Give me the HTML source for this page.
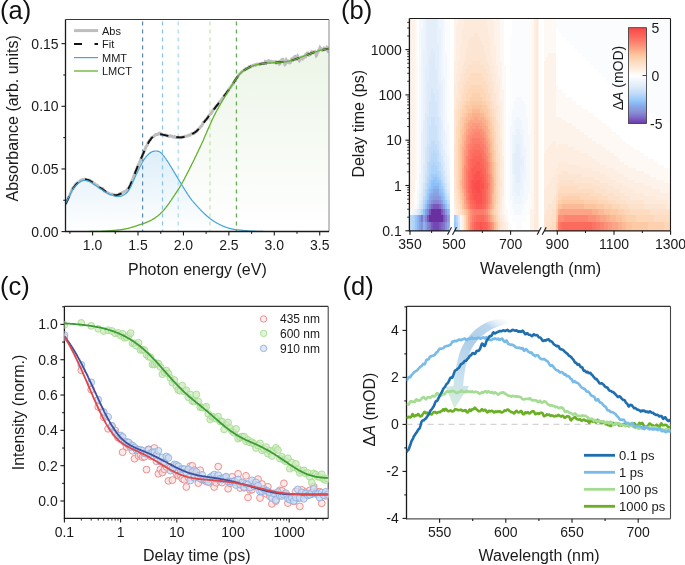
<!DOCTYPE html><html><head><meta charset="utf-8"><style>html,body{margin:0;padding:0;background:#fff;} svg{display:block;will-change:transform;} text{font-family:'Liberation Sans', sans-serif;}</style></head><body>
<svg width="685" height="565" viewBox="0 0 685 565">
<rect width="685" height="565" fill="#fff"/>
<defs>
<linearGradient id="gblue" x1="0" y1="0" x2="0" y2="1"><stop offset="0" stop-color="#ddeef8"/><stop offset="1" stop-color="#ffffff"/></linearGradient>
<linearGradient id="ggreen" x1="0" y1="0" x2="0" y2="1"><stop offset="0" stop-color="#ecf5e7"/><stop offset="1" stop-color="#ffffff"/></linearGradient>
<clipPath id="clipa"><rect x="65.5" y="19.5" width="263.5" height="212"/></clipPath>
<clipPath id="clipc"><rect x="64.4" y="306.4" width="264" height="212"/></clipPath>
<clipPath id="clipd"><rect x="406.5" y="306.4" width="264" height="212.4"/></clipPath>
<linearGradient id="garrow" x1="1" y1="0" x2="0" y2="1"><stop offset="0" stop-color="#ffffff" stop-opacity="0.9"/><stop offset="0.35" stop-color="#a9cbe6"/><stop offset="0.7" stop-color="#bcdceb"/><stop offset="1" stop-color="#cfe9d6"/></linearGradient>
</defs>
<g clip-path="url(#clipa)">
<path d="M65.5,231.6 L65.9,231.6 L66.3,231.6 L66.6,231.6 L67.0,231.6 L67.4,231.6 L67.8,231.6 L68.1,231.7 L68.5,231.7 L68.9,231.7 L69.3,231.7 L69.7,231.7 L70.0,231.7 L70.4,231.7 L70.8,231.7 L71.2,231.7 L71.5,231.7 L71.9,231.7 L72.3,231.7 L72.7,231.7 L73.1,231.7 L73.4,231.7 L73.8,231.7 L74.2,231.7 L74.6,231.7 L74.9,231.7 L75.3,231.7 L75.7,231.7 L76.1,231.7 L76.5,231.7 L76.8,231.7 L77.2,231.7 L77.6,231.7 L78.0,231.7 L78.3,231.7 L78.7,231.7 L79.1,231.7 L79.5,231.7 L79.9,231.7 L80.2,231.7 L80.6,231.7 L81.0,231.7 L81.4,231.7 L81.7,231.7 L82.1,231.7 L82.5,231.7 L82.9,231.7 L83.3,231.7 L83.6,231.7 L84.0,231.7 L84.4,231.6 L84.8,231.6 L85.1,231.6 L85.5,231.6 L85.9,231.6 L86.3,231.6 L86.7,231.6 L87.0,231.6 L87.4,231.6 L87.8,231.6 L88.2,231.6 L88.5,231.6 L88.9,231.6 L89.3,231.6 L89.7,231.5 L90.0,231.5 L90.4,231.5 L90.8,231.5 L91.2,231.5 L91.6,231.5 L91.9,231.5 L92.3,231.5 L92.7,231.5 L93.1,231.5 L93.4,231.5 L93.8,231.5 L94.2,231.4 L94.6,231.4 L95.0,231.4 L95.3,231.4 L95.7,231.4 L96.1,231.4 L96.5,231.4 L96.8,231.4 L97.2,231.4 L97.6,231.4 L98.0,231.4 L98.4,231.3 L98.7,231.3 L99.1,231.3 L99.5,231.3 L99.9,231.3 L100.2,231.3 L100.6,231.3 L101.0,231.3 L101.4,231.3 L101.8,231.2 L102.1,231.2 L102.5,231.2 L102.9,231.2 L103.3,231.2 L103.6,231.2 L104.0,231.1 L104.4,231.1 L104.8,231.1 L105.2,231.1 L105.5,231.1 L105.9,231.0 L106.3,231.0 L106.7,231.0 L107.0,231.0 L107.4,230.9 L107.8,230.9 L108.2,230.9 L108.6,230.9 L108.9,230.8 L109.3,230.8 L109.7,230.8 L110.1,230.7 L110.4,230.7 L110.8,230.7 L111.2,230.7 L111.6,230.6 L112.0,230.6 L112.3,230.6 L112.7,230.5 L113.1,230.5 L113.5,230.5 L113.8,230.4 L114.2,230.4 L114.6,230.3 L115.0,230.3 L115.4,230.3 L115.7,230.2 L116.1,230.2 L116.5,230.2 L116.9,230.1 L117.2,230.1 L117.6,230.0 L118.0,230.0 L118.4,230.0 L118.8,229.9 L119.1,229.9 L119.5,229.9 L119.9,229.8 L120.3,229.8 L120.6,229.7 L121.0,229.7 L121.4,229.6 L121.8,229.6 L122.2,229.5 L122.5,229.5 L122.9,229.4 L123.3,229.3 L123.7,229.3 L124.0,229.2 L124.4,229.1 L124.8,229.1 L125.2,229.0 L125.6,228.9 L125.9,228.8 L126.3,228.7 L126.7,228.6 L127.1,228.6 L127.4,228.5 L127.8,228.4 L128.2,228.3 L128.6,228.2 L129.0,228.1 L129.3,228.0 L129.7,227.9 L130.1,227.8 L130.5,227.7 L130.8,227.6 L131.2,227.5 L131.6,227.3 L132.0,227.2 L132.3,227.1 L132.7,227.0 L133.1,226.9 L133.5,226.8 L133.9,226.7 L134.2,226.5 L134.6,226.4 L135.0,226.3 L135.4,226.2 L135.7,226.1 L136.1,225.9 L136.5,225.8 L136.9,225.7 L137.3,225.6 L137.6,225.4 L138.0,225.3 L138.4,225.2 L138.8,225.1 L139.1,224.9 L139.5,224.8 L139.9,224.7 L140.3,224.6 L140.7,224.4 L141.0,224.3 L141.4,224.2 L141.8,224.1 L142.2,223.9 L142.5,223.8 L142.9,223.7 L143.3,223.6 L143.7,223.4 L144.1,223.3 L144.4,223.2 L144.8,223.0 L145.2,222.9 L145.6,222.7 L145.9,222.6 L146.3,222.4 L146.7,222.3 L147.1,222.1 L147.5,222.0 L147.8,221.8 L148.2,221.6 L148.6,221.5 L149.0,221.3 L149.3,221.1 L149.7,220.9 L150.1,220.8 L150.5,220.6 L150.9,220.4 L151.2,220.2 L151.6,220.0 L152.0,219.8 L152.4,219.5 L152.7,219.3 L153.1,219.1 L153.5,218.9 L153.9,218.6 L154.3,218.4 L154.6,218.2 L155.0,217.9 L155.4,217.6 L155.8,217.4 L156.1,217.1 L156.5,216.8 L156.9,216.5 L157.3,216.3 L157.7,216.0 L158.0,215.7 L158.4,215.3 L158.8,215.0 L159.2,214.7 L159.5,214.4 L159.9,214.0 L160.3,213.7 L160.7,213.3 L161.1,213.0 L161.4,212.6 L161.8,212.2 L162.2,211.8 L162.6,211.4 L162.9,211.0 L163.3,210.6 L163.7,210.1 L164.1,209.7 L164.5,209.3 L164.8,208.8 L165.2,208.3 L165.6,207.9 L166.0,207.4 L166.3,206.9 L166.7,206.4 L167.1,205.9 L167.5,205.4 L167.9,204.9 L168.2,204.3 L168.6,203.8 L169.0,203.3 L169.4,202.8 L169.7,202.2 L170.1,201.7 L170.5,201.1 L170.9,200.6 L171.3,200.0 L171.6,199.5 L172.0,198.9 L172.4,198.3 L172.8,197.8 L173.1,197.2 L173.5,196.6 L173.9,196.1 L174.3,195.5 L174.7,194.9 L175.0,194.4 L175.4,193.8 L175.8,193.2 L176.2,192.6 L176.5,192.1 L176.9,191.5 L177.3,190.9 L177.7,190.3 L178.0,189.8 L178.4,189.2 L178.8,188.6 L179.2,188.0 L179.6,187.4 L179.9,186.7 L180.3,186.1 L180.7,185.5 L181.1,184.8 L181.4,184.2 L181.8,183.5 L182.2,182.8 L182.6,182.1 L183.0,181.5 L183.3,180.8 L183.7,180.1 L184.1,179.4 L184.5,178.7 L184.8,177.9 L185.2,177.2 L185.6,176.5 L186.0,175.8 L186.4,175.1 L186.7,174.3 L187.1,173.6 L187.5,172.9 L187.9,172.1 L188.2,171.4 L188.6,170.6 L189.0,169.9 L189.4,169.2 L189.8,168.4 L190.1,167.6 L190.5,166.9 L190.9,166.1 L191.3,165.4 L191.6,164.6 L192.0,163.8 L192.4,163.1 L192.8,162.3 L193.2,161.5 L193.5,160.7 L193.9,160.0 L194.3,159.2 L194.7,158.4 L195.0,157.6 L195.4,156.8 L195.8,156.1 L196.2,155.3 L196.6,154.5 L196.9,153.7 L197.3,152.9 L197.7,152.1 L198.1,151.3 L198.4,150.6 L198.8,149.8 L199.2,149.0 L199.6,148.2 L200.0,147.4 L200.3,146.6 L200.7,145.8 L201.1,145.0 L201.5,144.2 L201.8,143.3 L202.2,142.5 L202.6,141.6 L203.0,140.8 L203.4,139.9 L203.7,139.1 L204.1,138.2 L204.5,137.3 L204.9,136.5 L205.2,135.6 L205.6,134.7 L206.0,133.8 L206.4,133.0 L206.8,132.1 L207.1,131.2 L207.5,130.3 L207.9,129.4 L208.3,128.6 L208.6,127.7 L209.0,126.8 L209.4,126.0 L209.8,125.1 L210.2,124.3 L210.5,123.4 L210.9,122.6 L211.3,121.7 L211.7,120.9 L212.0,120.1 L212.4,119.3 L212.8,118.5 L213.2,117.7 L213.6,116.9 L213.9,116.1 L214.3,115.4 L214.7,114.6 L215.1,113.9 L215.4,113.2 L215.8,112.4 L216.2,111.7 L216.6,111.0 L217.0,110.3 L217.3,109.6 L217.7,108.9 L218.1,108.3 L218.5,107.6 L218.8,106.9 L219.2,106.2 L219.6,105.6 L220.0,104.9 L220.3,104.3 L220.7,103.6 L221.1,103.0 L221.5,102.3 L221.9,101.7 L222.2,101.0 L222.6,100.4 L223.0,99.8 L223.4,99.1 L223.7,98.5 L224.1,97.9 L224.5,97.3 L224.9,96.6 L225.3,96.0 L225.6,95.4 L226.0,94.8 L226.4,94.2 L226.8,93.6 L227.1,92.9 L227.5,92.3 L227.9,91.7 L228.3,91.1 L228.7,90.5 L229.0,89.9 L229.4,89.3 L229.8,88.6 L230.2,88.0 L230.5,87.4 L230.9,86.8 L231.3,86.2 L231.7,85.6 L232.1,85.0 L232.4,84.4 L232.8,83.8 L233.2,83.2 L233.6,82.6 L233.9,82.0 L234.3,81.4 L234.7,80.9 L235.1,80.3 L235.5,79.8 L235.8,79.2 L236.2,78.7 L236.6,78.1 L237.0,77.6 L237.3,77.1 L237.7,76.6 L238.1,76.1 L238.5,75.6 L238.9,75.2 L239.2,74.8 L239.6,74.3 L240.0,73.9 L240.4,73.5 L240.7,73.2 L241.1,72.8 L241.5,72.4 L241.9,72.1 L242.3,71.8 L242.6,71.5 L243.0,71.2 L243.4,70.9 L243.8,70.6 L244.1,70.3 L244.5,70.1 L244.9,69.8 L245.3,69.6 L245.7,69.3 L246.0,69.1 L246.4,68.8 L246.8,68.6 L247.2,68.4 L247.5,68.2 L247.9,68.0 L248.3,67.8 L248.7,67.6 L249.1,67.4 L249.4,67.2 L249.8,67.0 L250.2,66.9 L250.6,66.7 L250.9,66.5 L251.3,66.4 L251.7,66.2 L252.1,66.1 L252.5,66.0 L252.8,65.9 L253.2,65.8 L253.6,65.6 L254.0,65.5 L254.3,65.4 L254.7,65.3 L255.1,65.2 L255.5,65.1 L255.9,65.0 L256.2,64.9 L256.6,64.8 L257.0,64.7 L257.4,64.6 L257.7,64.5 L258.1,64.4 L258.5,64.4 L258.9,64.3 L259.3,64.2 L259.6,64.1 L260.0,64.0 L260.4,64.0 L260.8,63.9 L261.1,63.8 L261.5,63.8 L261.9,63.7 L262.3,63.6 L262.7,63.6 L263.0,63.6 L263.4,63.5 L263.8,63.5 L264.2,63.5 L264.5,63.4 L264.9,63.4 L265.3,63.4 L265.7,63.3 L266.0,63.3 L266.4,63.3 L266.8,63.2 L267.2,63.2 L267.6,63.2 L267.9,63.2 L268.3,63.1 L268.7,63.1 L269.1,63.1 L269.4,63.0 L269.8,63.0 L270.2,63.0 L270.6,63.0 L271.0,62.9 L271.3,62.9 L271.7,62.9 L272.1,62.8 L272.5,62.8 L272.8,62.8 L273.2,62.7 L273.6,62.7 L274.0,62.7 L274.4,62.7 L274.7,62.6 L275.1,62.6 L275.5,62.6 L275.9,62.5 L276.2,62.5 L276.6,62.5 L277.0,62.4 L277.4,62.4 L277.8,62.4 L278.1,62.3 L278.5,62.3 L278.9,62.3 L279.3,62.3 L279.6,62.2 L280.0,62.2 L280.4,62.2 L280.8,62.1 L281.2,62.1 L281.5,62.1 L281.9,62.0 L282.3,62.0 L282.7,62.0 L283.0,61.9 L283.4,61.9 L283.8,61.9 L284.2,61.8 L284.6,61.8 L284.9,61.8 L285.3,61.7 L285.7,61.7 L286.1,61.6 L286.4,61.6 L286.8,61.5 L287.2,61.5 L287.6,61.4 L288.0,61.3 L288.3,61.3 L288.7,61.2 L289.1,61.1 L289.5,61.0 L289.8,60.9 L290.2,60.8 L290.6,60.7 L291.0,60.6 L291.4,60.5 L291.7,60.4 L292.1,60.3 L292.5,60.2 L292.9,60.1 L293.2,59.9 L293.6,59.8 L294.0,59.7 L294.4,59.6 L294.8,59.4 L295.1,59.3 L295.5,59.2 L295.9,59.0 L296.3,58.9 L296.6,58.8 L297.0,58.6 L297.4,58.5 L297.8,58.3 L298.2,58.2 L298.5,58.1 L298.9,57.9 L299.3,57.8 L299.7,57.6 L300.0,57.5 L300.4,57.3 L300.8,57.2 L301.2,57.0 L301.6,56.9 L301.9,56.8 L302.3,56.6 L302.7,56.5 L303.1,56.3 L303.4,56.2 L303.8,56.0 L304.2,55.9 L304.6,55.8 L305.0,55.6 L305.3,55.5 L305.7,55.3 L306.1,55.2 L306.5,55.0 L306.8,54.9 L307.2,54.8 L307.6,54.6 L308.0,54.5 L308.3,54.4 L308.7,54.2 L309.1,54.1 L309.5,53.9 L309.9,53.8 L310.2,53.7 L310.6,53.5 L311.0,53.4 L311.4,53.3 L311.7,53.1 L312.1,53.0 L312.5,52.8 L312.9,52.7 L313.3,52.6 L313.6,52.4 L314.0,52.3 L314.4,52.2 L314.8,52.0 L315.1,51.9 L315.5,51.8 L315.9,51.7 L316.3,51.5 L316.7,51.4 L317.0,51.3 L317.4,51.2 L317.8,51.0 L318.2,50.9 L318.5,50.8 L318.9,50.7 L319.3,50.6 L319.7,50.5 L320.1,50.4 L320.4,50.3 L320.8,50.2 L321.2,50.1 L321.6,50.0 L321.9,50.0 L322.3,49.9 L322.7,49.8 L323.1,49.7 L323.5,49.7 L323.8,49.6 L324.2,49.5 L324.6,49.4 L325.0,49.4 L325.3,49.3 L325.7,49.2 L326.1,49.2 L326.5,49.1 L326.9,49.1 L327.2,49.0 L327.6,48.9 L328.0,48.9 L328.4,48.8 L328.7,48.8 L329.1,48.7 L329.5,48.7 L329.0,231.5 L65.5,231.5 Z" fill="url(#ggreen)"/>
<path d="M65.5,203.5 L65.9,202.8 L66.3,202.1 L66.6,201.4 L67.0,200.6 L67.4,199.9 L67.8,199.1 L68.1,198.4 L68.5,197.6 L68.9,196.8 L69.3,196.0 L69.7,195.3 L70.0,194.5 L70.4,193.7 L70.8,193.0 L71.2,192.2 L71.5,191.5 L71.9,190.8 L72.3,190.1 L72.7,189.4 L73.1,188.8 L73.4,188.3 L73.8,187.7 L74.2,187.2 L74.6,186.8 L74.9,186.3 L75.3,185.9 L75.7,185.5 L76.1,185.2 L76.5,184.8 L76.8,184.5 L77.2,184.2 L77.6,183.8 L78.0,183.5 L78.3,183.2 L78.7,182.9 L79.1,182.6 L79.5,182.3 L79.9,182.0 L80.2,181.8 L80.6,181.5 L81.0,181.3 L81.4,181.1 L81.7,180.9 L82.1,180.7 L82.5,180.6 L82.9,180.5 L83.3,180.4 L83.6,180.3 L84.0,180.3 L84.4,180.3 L84.8,180.3 L85.1,180.3 L85.5,180.4 L85.9,180.5 L86.3,180.5 L86.7,180.6 L87.0,180.7 L87.4,180.8 L87.8,180.9 L88.2,181.0 L88.5,181.2 L88.9,181.3 L89.3,181.5 L89.7,181.7 L90.0,181.8 L90.4,182.0 L90.8,182.2 L91.2,182.5 L91.6,182.7 L91.9,183.0 L92.3,183.2 L92.7,183.5 L93.1,183.7 L93.4,184.0 L93.8,184.2 L94.2,184.5 L94.6,184.7 L95.0,185.0 L95.3,185.2 L95.7,185.5 L96.1,185.7 L96.5,186.0 L96.8,186.2 L97.2,186.5 L97.6,186.7 L98.0,187.0 L98.4,187.2 L98.7,187.5 L99.1,187.7 L99.5,188.0 L99.9,188.2 L100.2,188.5 L100.6,188.7 L101.0,189.0 L101.4,189.2 L101.8,189.5 L102.1,189.7 L102.5,190.0 L102.9,190.2 L103.3,190.5 L103.6,190.7 L104.0,191.0 L104.4,191.2 L104.8,191.5 L105.2,191.7 L105.5,192.0 L105.9,192.2 L106.3,192.5 L106.7,192.7 L107.0,193.0 L107.4,193.2 L107.8,193.4 L108.2,193.6 L108.6,193.8 L108.9,194.0 L109.3,194.2 L109.7,194.3 L110.1,194.5 L110.4,194.6 L110.8,194.8 L111.2,194.9 L111.6,195.0 L112.0,195.1 L112.3,195.3 L112.7,195.4 L113.1,195.5 L113.5,195.6 L113.8,195.7 L114.2,195.9 L114.6,196.0 L115.0,196.1 L115.4,196.1 L115.7,196.2 L116.1,196.3 L116.5,196.3 L116.9,196.3 L117.2,196.4 L117.6,196.4 L118.0,196.4 L118.4,196.4 L118.8,196.4 L119.1,196.4 L119.5,196.4 L119.9,196.3 L120.3,196.3 L120.6,196.2 L121.0,196.1 L121.4,196.0 L121.8,195.8 L122.2,195.7 L122.5,195.5 L122.9,195.3 L123.3,195.1 L123.7,194.9 L124.0,194.7 L124.4,194.5 L124.8,194.3 L125.2,194.0 L125.6,193.8 L125.9,193.5 L126.3,193.2 L126.7,192.8 L127.1,192.5 L127.4,192.1 L127.8,191.6 L128.2,191.2 L128.6,190.6 L129.0,190.1 L129.3,189.5 L129.7,188.8 L130.1,188.0 L130.5,187.3 L130.8,186.5 L131.2,185.7 L131.6,184.8 L132.0,184.0 L132.3,183.2 L132.7,182.3 L133.1,181.4 L133.5,180.6 L133.9,179.7 L134.2,178.9 L134.6,178.0 L135.0,177.2 L135.4,176.4 L135.7,175.6 L136.1,174.8 L136.5,174.0 L136.9,173.2 L137.3,172.4 L137.6,171.6 L138.0,170.8 L138.4,170.1 L138.8,169.3 L139.1,168.5 L139.5,167.8 L139.9,167.0 L140.3,166.3 L140.7,165.5 L141.0,164.8 L141.4,164.1 L141.8,163.3 L142.2,162.6 L142.5,161.9 L142.9,161.3 L143.3,160.6 L143.7,160.0 L144.1,159.4 L144.4,158.9 L144.8,158.3 L145.2,157.8 L145.6,157.3 L145.9,156.9 L146.3,156.4 L146.7,156.0 L147.1,155.6 L147.5,155.2 L147.8,154.8 L148.2,154.5 L148.6,154.1 L149.0,153.8 L149.3,153.4 L149.7,153.1 L150.1,152.9 L150.5,152.6 L150.9,152.4 L151.2,152.2 L151.6,152.0 L152.0,151.8 L152.4,151.6 L152.7,151.5 L153.1,151.4 L153.5,151.3 L153.9,151.2 L154.3,151.1 L154.6,151.1 L155.0,151.0 L155.4,151.0 L155.8,151.0 L156.1,151.0 L156.5,151.0 L156.9,151.0 L157.3,151.1 L157.7,151.2 L158.0,151.3 L158.4,151.4 L158.8,151.5 L159.2,151.7 L159.5,151.8 L159.9,152.1 L160.3,152.3 L160.7,152.6 L161.1,152.9 L161.4,153.3 L161.8,153.7 L162.2,154.1 L162.6,154.5 L162.9,155.0 L163.3,155.5 L163.7,156.0 L164.1,156.4 L164.5,156.9 L164.8,157.4 L165.2,158.0 L165.6,158.5 L166.0,159.0 L166.3,159.5 L166.7,160.1 L167.1,160.6 L167.5,161.2 L167.9,161.8 L168.2,162.3 L168.6,162.9 L169.0,163.5 L169.4,164.1 L169.7,164.8 L170.1,165.4 L170.5,166.0 L170.9,166.6 L171.3,167.3 L171.6,167.9 L172.0,168.5 L172.4,169.2 L172.8,169.8 L173.1,170.4 L173.5,171.0 L173.9,171.7 L174.3,172.3 L174.7,172.9 L175.0,173.5 L175.4,174.2 L175.8,174.8 L176.2,175.4 L176.5,176.1 L176.9,176.7 L177.3,177.3 L177.7,178.0 L178.0,178.6 L178.4,179.2 L178.8,179.9 L179.2,180.5 L179.6,181.1 L179.9,181.8 L180.3,182.4 L180.7,183.0 L181.1,183.7 L181.4,184.3 L181.8,184.9 L182.2,185.5 L182.6,186.1 L183.0,186.8 L183.3,187.4 L183.7,188.0 L184.1,188.6 L184.5,189.2 L184.8,189.8 L185.2,190.4 L185.6,191.0 L186.0,191.6 L186.4,192.2 L186.7,192.7 L187.1,193.3 L187.5,193.9 L187.9,194.5 L188.2,195.1 L188.6,195.6 L189.0,196.2 L189.4,196.7 L189.8,197.3 L190.1,197.8 L190.5,198.3 L190.9,198.8 L191.3,199.3 L191.6,199.8 L192.0,200.3 L192.4,200.7 L192.8,201.2 L193.2,201.6 L193.5,202.1 L193.9,202.5 L194.3,203.0 L194.7,203.4 L195.0,203.8 L195.4,204.2 L195.8,204.7 L196.2,205.1 L196.6,205.5 L196.9,205.9 L197.3,206.3 L197.7,206.8 L198.1,207.2 L198.4,207.6 L198.8,208.0 L199.2,208.4 L199.6,208.8 L200.0,209.2 L200.3,209.6 L200.7,210.0 L201.1,210.4 L201.5,210.8 L201.8,211.2 L202.2,211.5 L202.6,211.9 L203.0,212.3 L203.4,212.7 L203.7,213.0 L204.1,213.4 L204.5,213.8 L204.9,214.1 L205.2,214.5 L205.6,214.8 L206.0,215.2 L206.4,215.5 L206.8,215.8 L207.1,216.2 L207.5,216.5 L207.9,216.8 L208.3,217.1 L208.6,217.5 L209.0,217.8 L209.4,218.1 L209.8,218.4 L210.2,218.7 L210.5,219.0 L210.9,219.2 L211.3,219.5 L211.7,219.8 L212.0,220.1 L212.4,220.3 L212.8,220.6 L213.2,220.9 L213.6,221.1 L213.9,221.3 L214.3,221.6 L214.7,221.8 L215.1,222.0 L215.4,222.3 L215.8,222.5 L216.2,222.7 L216.6,222.9 L217.0,223.1 L217.3,223.3 L217.7,223.5 L218.1,223.7 L218.5,223.9 L218.8,224.1 L219.2,224.3 L219.6,224.5 L220.0,224.7 L220.3,224.9 L220.7,225.0 L221.1,225.2 L221.5,225.4 L221.9,225.6 L222.2,225.7 L222.6,225.9 L223.0,226.1 L223.4,226.2 L223.7,226.4 L224.1,226.5 L224.5,226.7 L224.9,226.8 L225.3,227.0 L225.6,227.1 L226.0,227.3 L226.4,227.4 L226.8,227.5 L227.1,227.6 L227.5,227.8 L227.9,227.9 L228.3,228.0 L228.7,228.1 L229.0,228.2 L229.4,228.3 L229.8,228.4 L230.2,228.5 L230.5,228.6 L230.9,228.7 L231.3,228.8 L231.7,228.9 L232.1,229.0 L232.4,229.1 L232.8,229.2 L233.2,229.2 L233.6,229.3 L233.9,229.4 L234.3,229.4 L234.7,229.5 L235.1,229.6 L235.5,229.6 L235.8,229.7 L236.2,229.7 L236.6,229.8 L237.0,229.8 L237.3,229.8 L237.7,229.9 L238.1,229.9 L238.5,229.9 L238.9,230.0 L239.2,230.0 L239.6,230.1 L240.0,230.1 L240.4,230.1 L240.7,230.2 L241.1,230.2 L241.5,230.2 L241.9,230.3 L242.3,230.3 L242.6,230.3 L243.0,230.4 L243.4,230.4 L243.8,230.5 L244.1,230.5 L244.5,230.5 L244.9,230.6 L245.3,230.6 L245.7,230.6 L246.0,230.7 L246.4,230.7 L246.8,230.7 L247.2,230.7 L247.5,230.8 L247.9,230.8 L248.3,230.8 L248.7,230.9 L249.1,230.9 L249.4,230.9 L249.8,230.9 L250.2,231.0 L250.6,231.0 L250.9,231.0 L251.3,231.0 L251.7,231.1 L252.1,231.1 L252.5,231.1 L252.8,231.1 L253.2,231.2 L253.6,231.2 L254.0,231.2 L254.3,231.2 L254.7,231.2 L255.1,231.2 L255.5,231.3 L255.9,231.3 L256.2,231.3 L256.6,231.3 L257.0,231.3 L257.4,231.3 L257.7,231.3 L258.1,231.4 L258.5,231.4 L258.9,231.4 L259.3,231.4 L259.6,231.4 L260.0,231.4 L260.4,231.4 L260.8,231.4 L261.1,231.4 L261.5,231.4 L261.9,231.4 L262.3,231.4 L262.7,231.4 L263.0,231.4 L263.4,231.5 L263.8,231.5 L264.2,231.5 L264.5,231.5 L264.9,231.5 L265.3,231.5 L265.7,231.5 L266.0,231.5 L266.4,231.5 L266.8,231.5 L267.2,231.5 L267.6,231.5 L267.9,231.5 L268.3,231.5 L268.7,231.5 L269.1,231.5 L269.4,231.6 L269.8,231.6 L270.2,231.6 L270.6,231.6 L271.0,231.6 L271.3,231.6 L271.7,231.6 L272.1,231.6 L272.5,231.6 L272.8,231.6 L273.2,231.6 L273.6,231.6 L274.0,231.6 L274.4,231.6 L274.7,231.6 L275.1,231.6 L275.5,231.7 L275.9,231.7 L276.2,231.7 L276.6,231.7 L277.0,231.7 L277.4,231.7 L277.8,231.7 L278.1,231.7 L278.5,231.7 L278.9,231.7 L279.3,231.7 L279.6,231.7 L280.0,231.7 L280.4,231.7 L280.8,231.7 L281.2,231.7 L281.5,231.7 L281.9,231.8 L282.3,231.8 L282.7,231.8 L283.0,231.8 L283.4,231.8 L283.8,231.8 L284.2,231.8 L284.6,231.8 L284.9,231.8 L285.3,231.8 L285.7,231.8 L286.1,231.8 L286.4,231.8 L286.8,231.8 L287.2,231.8 L287.6,231.8 L288.0,231.8 L288.3,231.8 L288.7,231.8 L289.1,231.8 L289.5,231.8 L289.8,231.9 L290.2,231.9 L290.6,231.9 L291.0,231.9 L291.4,231.9 L291.7,231.9 L292.1,231.9 L292.5,231.9 L292.9,231.9 L293.2,231.9 L293.6,231.9 L294.0,231.9 L294.4,231.9 L294.8,231.9 L295.1,231.9 L295.5,231.9 L295.9,231.9 L296.3,231.9 L296.6,231.9 L297.0,231.9 L297.4,231.9 L297.8,231.9 L298.2,231.9 L298.5,231.9 L298.9,231.9 L299.3,231.9 L299.7,231.9 L300.0,231.9 L300.4,231.9 L300.8,231.9 L301.2,231.9 L301.6,231.9 L301.9,231.9 L302.3,231.9 L302.7,231.9 L303.1,231.9 L303.4,231.9 L303.8,231.9 L304.2,231.9 L304.6,231.9 L305.0,231.9 L305.3,231.9 L305.7,231.9 L306.1,231.9 L306.5,231.9 L306.8,231.9 L307.2,231.9 L307.6,231.9 L308.0,231.9 L308.3,231.9 L308.7,231.9 L309.1,231.9 L309.5,231.9 L309.9,231.9 L310.2,231.9 L310.6,231.9 L311.0,231.9 L311.4,231.9 L311.7,231.9 L312.1,231.9 L312.5,231.9 L312.9,231.9 L313.3,231.9 L313.6,231.9 L314.0,231.9 L314.4,231.9 L314.8,231.9 L315.1,231.9 L315.5,231.9 L315.9,231.9 L316.3,231.9 L316.7,231.9 L317.0,231.9 L317.4,231.9 L317.8,231.9 L318.2,231.9 L318.5,231.9 L318.9,231.8 L319.3,231.8 L319.7,231.8 L320.1,231.8 L320.4,231.8 L320.8,231.8 L321.2,231.8 L321.6,231.8 L321.9,231.8 L322.3,231.8 L322.7,231.8 L323.1,231.8 L323.5,231.8 L323.8,231.8 L324.2,231.8 L324.6,231.7 L325.0,231.7 L325.3,231.7 L325.7,231.7 L326.1,231.7 L326.5,231.7 L326.9,231.7 L327.2,231.7 L327.6,231.7 L328.0,231.7 L328.4,231.6 L328.7,231.6 L329.1,231.6 L329.5,231.6 L329.0,231.5 L65.5,231.5 Z" fill="url(#gblue)"/>
<line x1="142.60" y1="21.50" x2="142.60" y2="231.50" stroke="#5b87ad" stroke-width="1.2" stroke-dasharray="4 4"/>
<line x1="162.50" y1="21.50" x2="162.50" y2="231.50" stroke="#86c3ec" stroke-width="1.2" stroke-dasharray="4 4"/>
<line x1="178.20" y1="21.50" x2="178.20" y2="231.50" stroke="#a9d9f2" stroke-width="1.2" stroke-dasharray="4 4"/>
<line x1="210.00" y1="21.50" x2="210.00" y2="231.50" stroke="#bfe3ad" stroke-width="1.2" stroke-dasharray="4 4"/>
<line x1="236.40" y1="21.50" x2="236.40" y2="231.50" stroke="#5fae4f" stroke-width="1.2" stroke-dasharray="4 4"/>
<path d="M65.5,204.0 L65.9,203.3 L66.3,202.4 L66.6,201.5 L67.0,200.7 L67.4,200.0 L67.8,199.5 L68.1,198.8 L68.5,197.8 L68.9,196.9 L69.3,196.1 L69.7,195.3 L70.0,194.4 L70.4,193.4 L70.8,192.6 L71.2,191.8 L71.5,190.8 L71.9,189.8 L72.3,188.9 L72.7,188.2 L73.1,187.6 L73.4,187.3 L73.8,186.9 L74.2,186.6 L74.6,186.1 L74.9,185.4 L75.3,184.7 L75.7,184.4 L76.1,184.2 L76.5,183.8 L76.8,183.3 L77.2,182.9 L77.6,182.6 L78.0,182.5 L78.3,182.3 L78.7,182.0 L79.1,181.8 L79.5,181.5 L79.9,181.2 L80.2,180.8 L80.6,180.6 L81.0,180.2 L81.4,180.0 L81.7,179.9 L82.1,179.9 L82.5,179.6 L82.9,179.5 L83.3,179.5 L83.6,179.6 L84.0,179.7 L84.4,179.5 L84.8,179.3 L85.1,179.3 L85.5,179.5 L85.9,179.6 L86.3,179.7 L86.7,179.9 L87.0,180.0 L87.4,180.1 L87.8,180.0 L88.2,180.0 L88.5,180.0 L88.9,180.0 L89.3,180.1 L89.7,180.3 L90.0,180.8 L90.4,181.2 L90.8,181.4 L91.2,181.3 L91.6,181.4 L91.9,181.6 L92.3,181.8 L92.7,182.2 L93.1,182.8 L93.4,183.3 L93.8,183.5 L94.2,183.6 L94.6,183.7 L95.0,184.1 L95.3,184.5 L95.7,184.7 L96.1,184.8 L96.5,185.1 L96.8,185.3 L97.2,185.4 L97.6,185.6 L98.0,186.0 L98.4,186.5 L98.7,187.0 L99.1,187.3 L99.5,187.5 L99.9,187.7 L100.2,187.9 L100.6,188.2 L101.0,188.4 L101.4,188.5 L101.8,188.6 L102.1,188.6 L102.5,188.6 L102.9,188.8 L103.3,189.3 L103.6,189.9 L104.0,190.5 L104.4,191.0 L104.8,191.0 L105.2,191.1 L105.5,191.4 L105.9,191.8 L106.3,192.0 L106.7,192.3 L107.0,192.6 L107.4,192.8 L107.8,192.8 L108.2,193.0 L108.6,193.2 L108.9,193.3 L109.3,193.6 L109.7,193.9 L110.1,194.2 L110.4,194.3 L110.8,194.3 L111.2,194.2 L111.6,194.1 L112.0,194.0 L112.3,194.1 L112.7,194.3 L113.1,194.5 L113.5,194.6 L113.8,194.7 L114.2,194.9 L114.6,195.1 L115.0,195.2 L115.4,195.2 L115.7,195.2 L116.1,195.5 L116.5,195.6 L116.9,195.3 L117.2,195.0 L117.6,194.8 L118.0,194.7 L118.4,194.7 L118.8,194.5 L119.1,194.2 L119.5,193.9 L119.9,193.7 L120.3,193.6 L120.6,193.8 L121.0,193.7 L121.4,193.5 L121.8,193.1 L122.2,192.7 L122.5,192.5 L122.9,192.3 L123.3,192.2 L123.7,192.0 L124.0,191.7 L124.4,191.5 L124.8,191.5 L125.2,191.5 L125.6,191.2 L125.9,190.9 L126.3,190.7 L126.7,190.5 L127.1,189.9 L127.4,189.3 L127.8,188.8 L128.2,188.4 L128.6,188.1 L129.0,187.6 L129.3,186.9 L129.7,186.2 L130.1,185.4 L130.5,184.5 L130.8,183.5 L131.2,182.6 L131.6,181.8 L132.0,181.1 L132.3,180.2 L132.7,179.2 L133.1,178.2 L133.5,177.1 L133.9,176.1 L134.2,175.2 L134.6,174.2 L135.0,173.2 L135.4,172.4 L135.7,171.6 L136.1,170.6 L136.5,169.4 L136.9,168.2 L137.3,167.3 L137.6,166.7 L138.0,165.9 L138.4,165.0 L138.8,164.2 L139.1,163.4 L139.5,162.6 L139.9,161.6 L140.3,160.6 L140.7,159.6 L141.0,158.7 L141.4,157.9 L141.8,157.3 L142.2,156.6 L142.5,155.8 L142.9,154.6 L143.3,153.2 L143.7,152.2 L144.1,151.4 L144.4,150.7 L144.8,149.9 L145.2,148.9 L145.6,147.8 L145.9,146.9 L146.3,146.4 L146.7,145.9 L147.1,145.1 L147.5,144.3 L147.8,143.4 L148.2,142.6 L148.6,141.9 L149.0,141.3 L149.3,140.8 L149.7,140.4 L150.1,140.1 L150.5,139.4 L150.9,138.7 L151.2,138.1 L151.6,137.6 L152.0,137.3 L152.4,137.1 L152.7,136.9 L153.1,136.8 L153.5,136.7 L153.9,136.4 L154.3,135.9 L154.6,135.6 L155.0,135.3 L155.4,134.9 L155.8,134.6 L156.1,134.6 L156.5,134.6 L156.9,134.6 L157.3,134.5 L157.7,134.4 L158.0,134.3 L158.4,134.0 L158.8,133.5 L159.2,133.2 L159.5,133.0 L159.9,133.1 L160.3,133.7 L160.7,134.2 L161.1,134.2 L161.4,134.1 L161.8,134.3 L162.2,134.6 L162.6,134.8 L162.9,134.8 L163.3,134.9 L163.7,135.0 L164.1,135.2 L164.5,135.3 L164.8,135.2 L165.2,135.1 L165.6,135.2 L166.0,135.4 L166.3,135.5 L166.7,135.4 L167.1,135.5 L167.5,135.6 L167.9,135.9 L168.2,136.3 L168.6,136.5 L169.0,136.4 L169.4,136.3 L169.7,136.0 L170.1,135.8 L170.5,136.0 L170.9,136.2 L171.3,136.3 L171.6,136.2 L172.0,136.4 L172.4,136.7 L172.8,136.9 L173.1,137.0 L173.5,137.1 L173.9,137.1 L174.3,136.8 L174.7,136.6 L175.0,136.8 L175.4,137.3 L175.8,137.6 L176.2,137.6 L176.5,137.5 L176.9,137.4 L177.3,137.3 L177.7,137.2 L178.0,137.3 L178.4,137.5 L178.8,137.7 L179.2,137.7 L179.6,137.4 L179.9,137.3 L180.3,137.5 L180.7,137.7 L181.1,137.7 L181.4,137.4 L181.8,137.1 L182.2,137.0 L182.6,137.1 L183.0,137.2 L183.3,137.0 L183.7,136.9 L184.1,136.7 L184.5,136.5 L184.8,136.2 L185.2,136.2 L185.6,136.2 L186.0,136.3 L186.4,136.3 L186.7,136.3 L187.1,136.2 L187.5,135.9 L187.9,135.6 L188.2,135.4 L188.6,135.2 L189.0,135.2 L189.4,135.3 L189.8,135.3 L190.1,134.9 L190.5,134.5 L190.9,134.2 L191.3,133.9 L191.6,133.7 L192.0,133.7 L192.4,133.7 L192.8,133.7 L193.2,133.8 L193.5,133.7 L193.9,133.5 L194.3,133.3 L194.7,132.9 L195.0,132.4 L195.4,131.7 L195.8,131.4 L196.2,131.4 L196.6,131.4 L196.9,131.0 L197.3,130.3 L197.7,129.7 L198.1,129.5 L198.4,129.2 L198.8,128.9 L199.2,128.5 L199.6,128.1 L200.0,127.6 L200.3,127.1 L200.7,126.6 L201.1,126.3 L201.5,126.0 L201.8,125.7 L202.2,125.0 L202.6,124.1 L203.0,123.3 L203.4,122.6 L203.7,122.1 L204.1,121.8 L204.5,121.7 L204.9,121.3 L205.2,120.6 L205.6,119.8 L206.0,119.4 L206.4,119.2 L206.8,119.1 L207.1,118.8 L207.5,118.0 L207.9,117.1 L208.3,116.4 L208.6,116.0 L209.0,115.5 L209.4,115.0 L209.8,114.6 L210.2,114.3 L210.5,114.1 L210.9,113.8 L211.3,113.3 L211.7,112.6 L212.0,111.9 L212.4,111.3 L212.8,110.7 L213.2,110.0 L213.6,109.4 L213.9,109.0 L214.3,108.8 L214.7,108.5 L215.1,108.0 L215.4,107.4 L215.8,106.6 L216.2,106.1 L216.6,105.8 L217.0,105.5 L217.3,105.1 L217.7,104.6 L218.1,103.9 L218.5,103.2 L218.8,102.7 L219.2,102.4 L219.6,101.9 L220.0,101.4 L220.3,101.2 L220.7,100.9 L221.1,100.4 L221.5,99.6 L221.9,98.9 L222.2,98.6 L222.6,98.4 L223.0,98.0 L223.4,97.4 L223.7,96.6 L224.1,95.8 L224.5,95.2 L224.9,94.8 L225.3,94.5 L225.6,94.1 L226.0,93.6 L226.4,93.0 L226.8,92.3 L227.1,91.7 L227.5,91.3 L227.9,90.8 L228.3,90.3 L228.7,89.7 L229.0,89.1 L229.4,88.6 L229.8,88.1 L230.2,87.9 L230.5,87.4 L230.9,86.7 L231.3,86.1 L231.7,85.5 L232.1,85.1 L232.4,84.7 L232.8,84.2 L233.2,83.6 L233.6,82.9 L233.9,82.2 L234.3,81.5 L234.7,80.9 L235.1,80.4 L235.5,79.9 L235.8,79.3 L236.2,78.6 L236.6,77.9 L237.0,77.5 L237.3,77.1 L237.7,76.7 L238.1,76.0 L238.5,75.3 L238.9,74.8 L239.2,74.4 L239.6,73.9 L240.0,73.5 L240.4,73.3 L240.7,73.0 L241.1,72.4 L241.5,71.9 L241.9,71.6 L242.3,71.4 L242.6,71.2 L243.0,70.9 L243.4,70.6 L243.8,70.5 L244.1,70.2 L244.5,69.8 L244.9,69.3 L245.3,69.0 L245.7,68.9 L246.0,69.1 L246.4,69.0 L246.8,68.7 L247.2,68.5 L247.5,68.3 L247.9,68.2 L248.3,68.0 L248.7,67.3 L249.1,66.8 L249.4,66.5 L249.8,66.6 L250.2,66.8 L250.6,66.7 L250.9,66.3 L251.3,66.0 L251.7,66.0 L252.1,65.9 L252.5,65.6 L252.8,65.5 L253.2,65.6 L253.6,65.5 L254.0,65.3 L254.3,65.0 L254.7,64.8 L255.1,65.0 L255.5,65.3 L255.9,65.2 L256.2,64.8 L256.6,64.3 L257.0,64.1 L257.4,64.2 L257.7,64.3 L258.1,64.3 L258.5,64.1 L258.9,64.0 L259.3,64.1 L259.6,64.3 L260.0,64.6 L260.4,64.5 L260.8,64.1 L261.1,63.7 L261.5,63.5 L261.9,63.4 L262.3,63.3 L262.7,63.3 L263.0,63.4 L263.4,63.5 L263.8,63.5 L264.2,63.4 L264.5,63.3 L264.9,63.1 L265.3,61.7 L265.7,62.0 L266.0,62.5 L266.4,62.7 L266.8,62.3 L267.2,61.6 L267.6,61.3 L267.9,61.0 L268.3,60.9 L268.7,60.7 L269.1,60.8 L269.4,61.7 L269.8,62.5 L270.2,62.5 L270.6,62.0 L271.0,61.5 L271.3,61.3 L271.7,61.4 L272.1,61.7 L272.5,61.7 L272.8,61.7 L273.2,62.2 L273.6,62.5 L274.0,62.4 L274.4,62.2 L274.7,61.8 L275.1,61.7 L275.5,62.2 L275.9,63.0 L276.2,63.1 L276.6,62.6 L277.0,62.1 L277.4,62.4 L277.8,62.9 L278.1,62.9 L278.5,62.1 L278.9,61.8 L279.3,62.8 L279.6,64.0 L280.0,63.8 L280.4,62.5 L280.8,61.6 L281.2,61.4 L281.5,60.5 L281.9,59.5 L282.3,59.3 L282.7,59.2 L283.0,59.5 L283.4,60.9 L283.8,62.2 L284.2,62.8 L284.6,63.6 L284.9,64.6 L285.3,64.3 L285.7,62.6 L286.1,60.8 L286.4,59.9 L286.8,60.4 L287.2,61.4 L287.6,62.1 L288.0,62.3 L288.3,61.9 L288.7,61.3 L289.1,61.5 L289.5,62.2 L289.8,62.7 L290.2,62.6 L290.6,61.8 L291.0,60.8 L291.4,59.8 L291.7,58.7 L292.1,58.5 L292.5,59.4 L292.9,59.8 L293.2,59.0 L293.6,58.0 L294.0,57.6 L294.4,57.2 L294.8,56.5 L295.1,56.4 L295.5,57.8 L295.9,59.2 L296.3,59.3 L296.6,58.7 L297.0,58.2 L297.4,57.2 L297.8,56.3 L298.2,57.0 L298.5,58.8 L298.9,60.2 L299.3,60.8 L299.7,60.3 L300.0,59.3 L300.4,58.6 L300.8,57.9 L301.2,57.4 L301.6,57.8 L301.9,58.8 L302.3,59.0 L302.7,57.9 L303.1,57.1 L303.4,57.3 L303.8,57.7 L304.2,57.6 L304.6,56.8 L305.0,55.6 L305.3,55.1 L305.7,55.6 L306.1,56.0 L306.5,55.3 L306.8,53.8 L307.2,53.2 L307.6,53.3 L308.0,53.1 L308.3,53.3 L308.7,54.5 L309.1,55.1 L309.5,54.8 L309.9,54.5 L310.2,54.5 L310.6,54.4 L311.0,53.7 L311.4,52.6 L311.7,51.9 L312.1,52.1 L312.5,52.6 L312.9,52.8 L313.3,52.5 L313.6,51.9 L314.0,51.8 L314.4,52.1 L314.8,52.2 L315.1,51.9 L315.5,52.6 L315.9,54.4 L316.3,55.7 L316.7,55.2 L317.0,53.8 L317.4,52.9 L317.8,52.4 L318.2,51.3 L318.5,50.3 L318.9,50.2 L319.3,49.9 L319.7,48.6 L320.1,47.5 L320.4,47.9 L320.8,48.9 L321.2,49.4 L321.6,49.8 L321.9,50.3 L322.3,50.4 L322.7,50.0 L323.1,49.4 L323.5,48.6 L323.8,48.3 L324.2,48.8 L324.6,49.5 L325.0,49.3 L325.3,48.5 L325.7,48.4 L326.1,48.6 L326.5,48.2 L326.9,47.3 L327.2,47.5 L327.6,49.5 L328.0,51.4 L328.4,51.5 L328.7,50.9 L329.1,51.5 L329.5,52.7" fill="none" stroke="#bdbdbd" stroke-width="3"/>
<path d="M65.5,204.0 L65.9,203.3 L66.3,202.6 L66.6,201.8 L67.0,201.1 L67.4,200.3 L67.8,199.5 L68.1,198.6 L68.5,197.8 L68.9,196.9 L69.3,196.1 L69.7,195.2 L70.0,194.4 L70.4,193.6 L70.8,192.8 L71.2,192.0 L71.5,191.2 L71.9,190.5 L72.3,189.8 L72.7,189.1 L73.1,188.5 L73.4,187.9 L73.8,187.3 L74.2,186.8 L74.6,186.3 L74.9,185.8 L75.3,185.4 L75.7,184.9 L76.1,184.5 L76.5,184.1 L76.8,183.8 L77.2,183.4 L77.6,183.1 L78.0,182.7 L78.3,182.4 L78.7,182.1 L79.1,181.8 L79.5,181.5 L79.9,181.2 L80.2,180.9 L80.6,180.6 L81.0,180.4 L81.4,180.2 L81.7,180.0 L82.1,179.8 L82.5,179.6 L82.9,179.5 L83.3,179.4 L83.6,179.3 L84.0,179.3 L84.4,179.3 L84.8,179.3 L85.1,179.3 L85.5,179.4 L85.9,179.4 L86.3,179.5 L86.7,179.6 L87.0,179.7 L87.4,179.8 L87.8,179.9 L88.2,180.0 L88.5,180.2 L88.9,180.3 L89.3,180.5 L89.7,180.6 L90.0,180.8 L90.4,181.0 L90.8,181.2 L91.2,181.5 L91.6,181.7 L91.9,182.0 L92.3,182.2 L92.7,182.5 L93.1,182.7 L93.4,183.0 L93.8,183.3 L94.2,183.5 L94.6,183.8 L95.0,184.1 L95.3,184.3 L95.7,184.6 L96.1,184.8 L96.5,185.1 L96.8,185.4 L97.2,185.6 L97.6,185.9 L98.0,186.2 L98.4,186.4 L98.7,186.7 L99.1,186.9 L99.5,187.2 L99.9,187.5 L100.2,187.7 L100.6,188.0 L101.0,188.3 L101.4,188.5 L101.8,188.8 L102.1,189.1 L102.5,189.3 L102.9,189.6 L103.3,189.9 L103.6,190.1 L104.0,190.4 L104.4,190.7 L104.8,190.9 L105.2,191.2 L105.5,191.5 L105.9,191.7 L106.3,192.0 L106.7,192.2 L107.0,192.5 L107.4,192.7 L107.8,193.0 L108.2,193.2 L108.6,193.4 L108.9,193.6 L109.3,193.7 L109.7,193.9 L110.1,194.1 L110.4,194.2 L110.8,194.3 L111.2,194.4 L111.6,194.5 L112.0,194.7 L112.3,194.7 L112.7,194.8 L113.1,194.9 L113.5,195.0 L113.8,195.0 L114.2,195.1 L114.6,195.1 L115.0,195.2 L115.4,195.2 L115.7,195.2 L116.1,195.2 L116.5,195.2 L116.9,195.1 L117.2,195.0 L117.6,194.9 L118.0,194.8 L118.4,194.7 L118.8,194.6 L119.1,194.4 L119.5,194.2 L119.9,194.1 L120.3,193.9 L120.6,193.7 L121.0,193.5 L121.4,193.3 L121.8,193.1 L122.2,192.9 L122.5,192.7 L122.9,192.6 L123.3,192.4 L123.7,192.2 L124.0,192.1 L124.4,191.9 L124.8,191.7 L125.2,191.5 L125.6,191.2 L125.9,191.0 L126.3,190.7 L126.7,190.4 L127.1,190.1 L127.4,189.7 L127.8,189.2 L128.2,188.8 L128.6,188.2 L129.0,187.6 L129.3,187.0 L129.7,186.3 L130.1,185.5 L130.5,184.7 L130.8,183.9 L131.2,183.0 L131.6,182.1 L132.0,181.1 L132.3,180.2 L132.7,179.2 L133.1,178.2 L133.5,177.2 L133.9,176.2 L134.2,175.2 L134.6,174.2 L135.0,173.2 L135.4,172.2 L135.7,171.2 L136.1,170.2 L136.5,169.3 L136.9,168.3 L137.3,167.4 L137.6,166.5 L138.0,165.6 L138.4,164.8 L138.8,163.9 L139.1,163.0 L139.5,162.1 L139.9,161.2 L140.3,160.3 L140.7,159.5 L141.0,158.6 L141.4,157.7 L141.8,156.8 L142.2,156.0 L142.5,155.1 L142.9,154.2 L143.3,153.4 L143.7,152.5 L144.1,151.7 L144.4,150.8 L144.8,150.0 L145.2,149.2 L145.6,148.3 L145.9,147.5 L146.3,146.8 L146.7,146.0 L147.1,145.2 L147.5,144.5 L147.8,143.8 L148.2,143.1 L148.6,142.5 L149.0,141.8 L149.3,141.2 L149.7,140.6 L150.1,140.1 L150.5,139.6 L150.9,139.0 L151.2,138.6 L151.6,138.1 L152.0,137.7 L152.4,137.3 L152.7,137.0 L153.1,136.6 L153.5,136.3 L153.9,136.0 L154.3,135.8 L154.6,135.5 L155.0,135.3 L155.4,135.1 L155.8,134.9 L156.1,134.8 L156.5,134.6 L156.9,134.5 L157.3,134.4 L157.7,134.3 L158.0,134.2 L158.4,134.2 L158.8,134.2 L159.2,134.2 L159.5,134.2 L159.9,134.2 L160.3,134.2 L160.7,134.2 L161.1,134.3 L161.4,134.4 L161.8,134.5 L162.2,134.5 L162.6,134.6 L162.9,134.7 L163.3,134.8 L163.7,134.9 L164.1,135.0 L164.5,135.1 L164.8,135.1 L165.2,135.2 L165.6,135.3 L166.0,135.4 L166.3,135.5 L166.7,135.6 L167.1,135.7 L167.5,135.8 L167.9,135.9 L168.2,135.9 L168.6,136.0 L169.0,136.1 L169.4,136.1 L169.7,136.2 L170.1,136.3 L170.5,136.3 L170.9,136.4 L171.3,136.4 L171.6,136.5 L172.0,136.6 L172.4,136.6 L172.8,136.7 L173.1,136.7 L173.5,136.8 L173.9,136.8 L174.3,136.9 L174.7,136.9 L175.0,137.0 L175.4,137.0 L175.8,137.1 L176.2,137.1 L176.5,137.1 L176.9,137.2 L177.3,137.2 L177.7,137.3 L178.0,137.3 L178.4,137.3 L178.8,137.3 L179.2,137.4 L179.6,137.4 L179.9,137.4 L180.3,137.4 L180.7,137.4 L181.1,137.4 L181.4,137.4 L181.8,137.3 L182.2,137.3 L182.6,137.2 L183.0,137.1 L183.3,137.1 L183.7,137.0 L184.1,136.9 L184.5,136.8 L184.8,136.7 L185.2,136.6 L185.6,136.4 L186.0,136.3 L186.4,136.2 L186.7,136.0 L187.1,135.9 L187.5,135.8 L187.9,135.6 L188.2,135.5 L188.6,135.3 L189.0,135.2 L189.4,135.0 L189.8,134.9 L190.1,134.7 L190.5,134.6 L190.9,134.4 L191.3,134.3 L191.6,134.1 L192.0,133.9 L192.4,133.7 L192.8,133.6 L193.2,133.4 L193.5,133.2 L193.9,132.9 L194.3,132.7 L194.7,132.5 L195.0,132.2 L195.4,132.0 L195.8,131.7 L196.2,131.4 L196.6,131.1 L196.9,130.8 L197.3,130.4 L197.7,130.1 L198.1,129.7 L198.4,129.3 L198.8,128.9 L199.2,128.5 L199.6,128.0 L200.0,127.6 L200.3,127.1 L200.7,126.6 L201.1,126.1 L201.5,125.6 L201.8,125.1 L202.2,124.6 L202.6,124.2 L203.0,123.7 L203.4,123.2 L203.7,122.7 L204.1,122.2 L204.5,121.7 L204.9,121.2 L205.2,120.7 L205.6,120.2 L206.0,119.8 L206.4,119.3 L206.8,118.8 L207.1,118.3 L207.5,117.8 L207.9,117.3 L208.3,116.8 L208.6,116.3 L209.0,115.8 L209.4,115.3 L209.8,114.8 L210.2,114.3 L210.5,113.8 L210.9,113.4 L211.3,112.9 L211.7,112.4 L212.0,111.9 L212.4,111.4 L212.8,110.9 L213.2,110.4 L213.6,109.9 L213.9,109.4 L214.3,108.9 L214.7,108.4 L215.1,107.9 L215.4,107.4 L215.8,106.9 L216.2,106.4 L216.6,105.9 L217.0,105.4 L217.3,104.9 L217.7,104.5 L218.1,104.0 L218.5,103.5 L218.8,103.0 L219.2,102.5 L219.6,102.0 L220.0,101.5 L220.3,101.0 L220.7,100.5 L221.1,100.0 L221.5,99.5 L221.9,99.0 L222.2,98.5 L222.6,98.0 L223.0,97.5 L223.4,97.0 L223.7,96.5 L224.1,96.0 L224.5,95.5 L224.9,95.0 L225.3,94.5 L225.6,94.0 L226.0,93.5 L226.4,93.1 L226.8,92.6 L227.1,92.1 L227.5,91.6 L227.9,91.1 L228.3,90.6 L228.7,90.1 L229.0,89.6 L229.4,89.1 L229.8,88.6 L230.2,88.1 L230.5,87.6 L230.9,87.0 L231.3,86.4 L231.7,85.9 L232.1,85.3 L232.4,84.7 L232.8,84.0 L233.2,83.4 L233.6,82.8 L233.9,82.2 L234.3,81.6 L234.7,81.0 L235.1,80.4 L235.5,79.8 L235.8,79.2 L236.2,78.6 L236.6,78.1 L237.0,77.6 L237.3,77.1 L237.7,76.6 L238.1,76.1 L238.5,75.7 L238.9,75.2 L239.2,74.8 L239.6,74.4 L240.0,74.0 L240.4,73.6 L240.7,73.2 L241.1,72.8 L241.5,72.5 L241.9,72.1 L242.3,71.8 L242.6,71.5 L243.0,71.2 L243.4,70.9 L243.8,70.6 L244.1,70.3 L244.5,70.1 L244.9,69.8 L245.3,69.6 L245.7,69.3 L246.0,69.1 L246.4,68.8 L246.8,68.6 L247.2,68.4 L247.5,68.2 L247.9,68.0 L248.3,67.8 L248.7,67.6 L249.1,67.4 L249.4,67.2 L249.8,67.0 L250.2,66.9 L250.6,66.7 L250.9,66.5 L251.3,66.4 L251.7,66.2 L252.1,66.1 L252.5,66.0 L252.8,65.9 L253.2,65.8 L253.6,65.6 L254.0,65.5 L254.3,65.4 L254.7,65.3 L255.1,65.2 L255.5,65.1 L255.9,65.0 L256.2,64.9 L256.6,64.8 L257.0,64.7 L257.4,64.6 L257.7,64.5 L258.1,64.4 L258.5,64.4 L258.9,64.3 L259.3,64.2 L259.6,64.1 L260.0,64.0 L260.4,64.0 L260.8,63.9 L261.1,63.8 L261.5,63.8 L261.9,63.7 L262.3,63.6 L262.7,63.6 L263.0,63.6 L263.4,63.5 L263.8,63.5 L264.2,63.5 L264.5,63.4 L264.9,63.4 L265.3,63.4 L265.7,63.3 L266.0,63.3 L266.4,63.3 L266.8,63.2 L267.2,63.2 L267.6,63.2 L267.9,63.2 L268.3,63.1 L268.7,63.1 L269.1,63.1 L269.4,63.0 L269.8,63.0 L270.2,63.0 L270.6,63.0 L271.0,62.9 L271.3,62.9 L271.7,62.9 L272.1,62.8 L272.5,62.8 L272.8,62.8 L273.2,62.7 L273.6,62.7 L274.0,62.7 L274.4,62.7 L274.7,62.6 L275.1,62.6 L275.5,62.6 L275.9,62.5 L276.2,62.5 L276.6,62.5 L277.0,62.4 L277.4,62.4 L277.8,62.4 L278.1,62.3 L278.5,62.3 L278.9,62.3 L279.3,62.3 L279.6,62.2 L280.0,62.2 L280.4,62.2 L280.8,62.1 L281.2,62.1 L281.5,62.1 L281.9,62.0 L282.3,62.0 L282.7,62.0 L283.0,61.9 L283.4,61.9 L283.8,61.9 L284.2,61.8 L284.6,61.8 L284.9,61.8 L285.3,61.7 L285.7,61.7 L286.1,61.6 L286.4,61.6 L286.8,61.5 L287.2,61.5 L287.6,61.4 L288.0,61.3 L288.3,61.3 L288.7,61.2 L289.1,61.1 L289.5,61.0 L289.8,60.9 L290.2,60.8 L290.6,60.7 L291.0,60.6 L291.4,60.5 L291.7,60.4 L292.1,60.3 L292.5,60.2 L292.9,60.1 L293.2,59.9 L293.6,59.8 L294.0,59.7 L294.4,59.6 L294.8,59.4 L295.1,59.3 L295.5,59.2 L295.9,59.0 L296.3,58.9 L296.6,58.8 L297.0,58.6 L297.4,58.5 L297.8,58.3 L298.2,58.2 L298.5,58.1 L298.9,57.9 L299.3,57.8 L299.7,57.6 L300.0,57.5 L300.4,57.3 L300.8,57.2 L301.2,57.0 L301.6,56.9 L301.9,56.8 L302.3,56.6 L302.7,56.5 L303.1,56.3 L303.4,56.2 L303.8,56.0 L304.2,55.9 L304.6,55.8 L305.0,55.6 L305.3,55.5 L305.7,55.3 L306.1,55.2 L306.5,55.0 L306.8,54.9 L307.2,54.8 L307.6,54.6 L308.0,54.5 L308.3,54.4 L308.7,54.2 L309.1,54.1 L309.5,53.9 L309.9,53.8 L310.2,53.7 L310.6,53.5 L311.0,53.4 L311.4,53.3 L311.7,53.1 L312.1,53.0 L312.5,52.8 L312.9,52.7 L313.3,52.6 L313.6,52.4 L314.0,52.3 L314.4,52.2 L314.8,52.0 L315.1,51.9 L315.5,51.8 L315.9,51.7 L316.3,51.5 L316.7,51.4 L317.0,51.3 L317.4,51.2 L317.8,51.0 L318.2,50.9 L318.5,50.8 L318.9,50.7 L319.3,50.6 L319.7,50.5 L320.1,50.4 L320.4,50.3 L320.8,50.2 L321.2,50.1 L321.6,50.0 L321.9,50.0 L322.3,49.9 L322.7,49.8 L323.1,49.7 L323.5,49.7 L323.8,49.6 L324.2,49.5 L324.6,49.4 L325.0,49.4 L325.3,49.3 L325.7,49.2 L326.1,49.2 L326.5,49.1 L326.9,49.1 L327.2,49.0 L327.6,48.9 L328.0,48.9 L328.4,48.8 L328.7,48.8 L329.1,48.7 L329.5,48.7" fill="none" stroke="#111" stroke-width="1.9" stroke-dasharray="8.5 8"/>
<path d="M65.5,203.5 L65.9,202.8 L66.3,202.1 L66.6,201.4 L67.0,200.6 L67.4,199.9 L67.8,199.1 L68.1,198.4 L68.5,197.6 L68.9,196.8 L69.3,196.0 L69.7,195.3 L70.0,194.5 L70.4,193.7 L70.8,193.0 L71.2,192.2 L71.5,191.5 L71.9,190.8 L72.3,190.1 L72.7,189.4 L73.1,188.8 L73.4,188.3 L73.8,187.7 L74.2,187.2 L74.6,186.8 L74.9,186.3 L75.3,185.9 L75.7,185.5 L76.1,185.2 L76.5,184.8 L76.8,184.5 L77.2,184.2 L77.6,183.8 L78.0,183.5 L78.3,183.2 L78.7,182.9 L79.1,182.6 L79.5,182.3 L79.9,182.0 L80.2,181.8 L80.6,181.5 L81.0,181.3 L81.4,181.1 L81.7,180.9 L82.1,180.7 L82.5,180.6 L82.9,180.5 L83.3,180.4 L83.6,180.3 L84.0,180.3 L84.4,180.3 L84.8,180.3 L85.1,180.3 L85.5,180.4 L85.9,180.5 L86.3,180.5 L86.7,180.6 L87.0,180.7 L87.4,180.8 L87.8,180.9 L88.2,181.0 L88.5,181.2 L88.9,181.3 L89.3,181.5 L89.7,181.7 L90.0,181.8 L90.4,182.0 L90.8,182.2 L91.2,182.5 L91.6,182.7 L91.9,183.0 L92.3,183.2 L92.7,183.5 L93.1,183.7 L93.4,184.0 L93.8,184.2 L94.2,184.5 L94.6,184.7 L95.0,185.0 L95.3,185.2 L95.7,185.5 L96.1,185.7 L96.5,186.0 L96.8,186.2 L97.2,186.5 L97.6,186.7 L98.0,187.0 L98.4,187.2 L98.7,187.5 L99.1,187.7 L99.5,188.0 L99.9,188.2 L100.2,188.5 L100.6,188.7 L101.0,189.0 L101.4,189.2 L101.8,189.5 L102.1,189.7 L102.5,190.0 L102.9,190.2 L103.3,190.5 L103.6,190.7 L104.0,191.0 L104.4,191.2 L104.8,191.5 L105.2,191.7 L105.5,192.0 L105.9,192.2 L106.3,192.5 L106.7,192.7 L107.0,193.0 L107.4,193.2 L107.8,193.4 L108.2,193.6 L108.6,193.8 L108.9,194.0 L109.3,194.2 L109.7,194.3 L110.1,194.5 L110.4,194.6 L110.8,194.8 L111.2,194.9 L111.6,195.0 L112.0,195.1 L112.3,195.3 L112.7,195.4 L113.1,195.5 L113.5,195.6 L113.8,195.7 L114.2,195.9 L114.6,196.0 L115.0,196.1 L115.4,196.1 L115.7,196.2 L116.1,196.3 L116.5,196.3 L116.9,196.3 L117.2,196.4 L117.6,196.4 L118.0,196.4 L118.4,196.4 L118.8,196.4 L119.1,196.4 L119.5,196.4 L119.9,196.3 L120.3,196.3 L120.6,196.2 L121.0,196.1 L121.4,196.0 L121.8,195.8 L122.2,195.7 L122.5,195.5 L122.9,195.3 L123.3,195.1 L123.7,194.9 L124.0,194.7 L124.4,194.5 L124.8,194.3 L125.2,194.0 L125.6,193.8 L125.9,193.5 L126.3,193.2 L126.7,192.8 L127.1,192.5 L127.4,192.1 L127.8,191.6 L128.2,191.2 L128.6,190.6 L129.0,190.1 L129.3,189.5 L129.7,188.8 L130.1,188.0 L130.5,187.3 L130.8,186.5 L131.2,185.7 L131.6,184.8 L132.0,184.0 L132.3,183.2 L132.7,182.3 L133.1,181.4 L133.5,180.6 L133.9,179.7 L134.2,178.9 L134.6,178.0 L135.0,177.2 L135.4,176.4 L135.7,175.6 L136.1,174.8 L136.5,174.0 L136.9,173.2 L137.3,172.4 L137.6,171.6 L138.0,170.8 L138.4,170.1 L138.8,169.3 L139.1,168.5 L139.5,167.8 L139.9,167.0 L140.3,166.3 L140.7,165.5 L141.0,164.8 L141.4,164.1 L141.8,163.3 L142.2,162.6 L142.5,161.9 L142.9,161.3 L143.3,160.6 L143.7,160.0 L144.1,159.4 L144.4,158.9 L144.8,158.3 L145.2,157.8 L145.6,157.3 L145.9,156.9 L146.3,156.4 L146.7,156.0 L147.1,155.6 L147.5,155.2 L147.8,154.8 L148.2,154.5 L148.6,154.1 L149.0,153.8 L149.3,153.4 L149.7,153.1 L150.1,152.9 L150.5,152.6 L150.9,152.4 L151.2,152.2 L151.6,152.0 L152.0,151.8 L152.4,151.6 L152.7,151.5 L153.1,151.4 L153.5,151.3 L153.9,151.2 L154.3,151.1 L154.6,151.1 L155.0,151.0 L155.4,151.0 L155.8,151.0 L156.1,151.0 L156.5,151.0 L156.9,151.0 L157.3,151.1 L157.7,151.2 L158.0,151.3 L158.4,151.4 L158.8,151.5 L159.2,151.7 L159.5,151.8 L159.9,152.1 L160.3,152.3 L160.7,152.6 L161.1,152.9 L161.4,153.3 L161.8,153.7 L162.2,154.1 L162.6,154.5 L162.9,155.0 L163.3,155.5 L163.7,156.0 L164.1,156.4 L164.5,156.9 L164.8,157.4 L165.2,158.0 L165.6,158.5 L166.0,159.0 L166.3,159.5 L166.7,160.1 L167.1,160.6 L167.5,161.2 L167.9,161.8 L168.2,162.3 L168.6,162.9 L169.0,163.5 L169.4,164.1 L169.7,164.8 L170.1,165.4 L170.5,166.0 L170.9,166.6 L171.3,167.3 L171.6,167.9 L172.0,168.5 L172.4,169.2 L172.8,169.8 L173.1,170.4 L173.5,171.0 L173.9,171.7 L174.3,172.3 L174.7,172.9 L175.0,173.5 L175.4,174.2 L175.8,174.8 L176.2,175.4 L176.5,176.1 L176.9,176.7 L177.3,177.3 L177.7,178.0 L178.0,178.6 L178.4,179.2 L178.8,179.9 L179.2,180.5 L179.6,181.1 L179.9,181.8 L180.3,182.4 L180.7,183.0 L181.1,183.7 L181.4,184.3 L181.8,184.9 L182.2,185.5 L182.6,186.1 L183.0,186.8 L183.3,187.4 L183.7,188.0 L184.1,188.6 L184.5,189.2 L184.8,189.8 L185.2,190.4 L185.6,191.0 L186.0,191.6 L186.4,192.2 L186.7,192.7 L187.1,193.3 L187.5,193.9 L187.9,194.5 L188.2,195.1 L188.6,195.6 L189.0,196.2 L189.4,196.7 L189.8,197.3 L190.1,197.8 L190.5,198.3 L190.9,198.8 L191.3,199.3 L191.6,199.8 L192.0,200.3 L192.4,200.7 L192.8,201.2 L193.2,201.6 L193.5,202.1 L193.9,202.5 L194.3,203.0 L194.7,203.4 L195.0,203.8 L195.4,204.2 L195.8,204.7 L196.2,205.1 L196.6,205.5 L196.9,205.9 L197.3,206.3 L197.7,206.8 L198.1,207.2 L198.4,207.6 L198.8,208.0 L199.2,208.4 L199.6,208.8 L200.0,209.2 L200.3,209.6 L200.7,210.0 L201.1,210.4 L201.5,210.8 L201.8,211.2 L202.2,211.5 L202.6,211.9 L203.0,212.3 L203.4,212.7 L203.7,213.0 L204.1,213.4 L204.5,213.8 L204.9,214.1 L205.2,214.5 L205.6,214.8 L206.0,215.2 L206.4,215.5 L206.8,215.8 L207.1,216.2 L207.5,216.5 L207.9,216.8 L208.3,217.1 L208.6,217.5 L209.0,217.8 L209.4,218.1 L209.8,218.4 L210.2,218.7 L210.5,219.0 L210.9,219.2 L211.3,219.5 L211.7,219.8 L212.0,220.1 L212.4,220.3 L212.8,220.6 L213.2,220.9 L213.6,221.1 L213.9,221.3 L214.3,221.6 L214.7,221.8 L215.1,222.0 L215.4,222.3 L215.8,222.5 L216.2,222.7 L216.6,222.9 L217.0,223.1 L217.3,223.3 L217.7,223.5 L218.1,223.7 L218.5,223.9 L218.8,224.1 L219.2,224.3 L219.6,224.5 L220.0,224.7 L220.3,224.9 L220.7,225.0 L221.1,225.2 L221.5,225.4 L221.9,225.6 L222.2,225.7 L222.6,225.9 L223.0,226.1 L223.4,226.2 L223.7,226.4 L224.1,226.5 L224.5,226.7 L224.9,226.8 L225.3,227.0 L225.6,227.1 L226.0,227.3 L226.4,227.4 L226.8,227.5 L227.1,227.6 L227.5,227.8 L227.9,227.9 L228.3,228.0 L228.7,228.1 L229.0,228.2 L229.4,228.3 L229.8,228.4 L230.2,228.5 L230.5,228.6 L230.9,228.7 L231.3,228.8 L231.7,228.9 L232.1,229.0 L232.4,229.1 L232.8,229.2 L233.2,229.2 L233.6,229.3 L233.9,229.4 L234.3,229.4 L234.7,229.5 L235.1,229.6 L235.5,229.6 L235.8,229.7 L236.2,229.7 L236.6,229.8 L237.0,229.8 L237.3,229.8 L237.7,229.9 L238.1,229.9 L238.5,229.9 L238.9,230.0 L239.2,230.0 L239.6,230.1 L240.0,230.1 L240.4,230.1 L240.7,230.2 L241.1,230.2 L241.5,230.2 L241.9,230.3 L242.3,230.3 L242.6,230.3 L243.0,230.4 L243.4,230.4 L243.8,230.5 L244.1,230.5 L244.5,230.5 L244.9,230.6 L245.3,230.6 L245.7,230.6 L246.0,230.7 L246.4,230.7 L246.8,230.7 L247.2,230.7 L247.5,230.8 L247.9,230.8 L248.3,230.8 L248.7,230.9 L249.1,230.9 L249.4,230.9 L249.8,230.9 L250.2,231.0 L250.6,231.0 L250.9,231.0 L251.3,231.0 L251.7,231.1 L252.1,231.1 L252.5,231.1 L252.8,231.1 L253.2,231.2 L253.6,231.2 L254.0,231.2 L254.3,231.2 L254.7,231.2 L255.1,231.2 L255.5,231.3 L255.9,231.3 L256.2,231.3 L256.6,231.3 L257.0,231.3 L257.4,231.3 L257.7,231.3 L258.1,231.4 L258.5,231.4 L258.9,231.4 L259.3,231.4 L259.6,231.4 L260.0,231.4 L260.4,231.4 L260.8,231.4 L261.1,231.4 L261.5,231.4 L261.9,231.4 L262.3,231.4 L262.7,231.4 L263.0,231.4 L263.4,231.5 L263.8,231.5 L264.2,231.5 L264.5,231.5 L264.9,231.5 L265.3,231.5 L265.7,231.5 L266.0,231.5 L266.4,231.5 L266.8,231.5 L267.2,231.5 L267.6,231.5 L267.9,231.5 L268.3,231.5 L268.7,231.5 L269.1,231.5 L269.4,231.6 L269.8,231.6 L270.2,231.6 L270.6,231.6 L271.0,231.6 L271.3,231.6 L271.7,231.6 L272.1,231.6 L272.5,231.6 L272.8,231.6 L273.2,231.6 L273.6,231.6 L274.0,231.6 L274.4,231.6 L274.7,231.6 L275.1,231.6 L275.5,231.7 L275.9,231.7 L276.2,231.7 L276.6,231.7 L277.0,231.7 L277.4,231.7 L277.8,231.7 L278.1,231.7 L278.5,231.7 L278.9,231.7 L279.3,231.7 L279.6,231.7 L280.0,231.7 L280.4,231.7 L280.8,231.7 L281.2,231.7 L281.5,231.7 L281.9,231.8 L282.3,231.8 L282.7,231.8 L283.0,231.8 L283.4,231.8 L283.8,231.8 L284.2,231.8 L284.6,231.8 L284.9,231.8 L285.3,231.8 L285.7,231.8 L286.1,231.8 L286.4,231.8 L286.8,231.8 L287.2,231.8 L287.6,231.8 L288.0,231.8 L288.3,231.8 L288.7,231.8 L289.1,231.8 L289.5,231.8 L289.8,231.9 L290.2,231.9 L290.6,231.9 L291.0,231.9 L291.4,231.9 L291.7,231.9 L292.1,231.9 L292.5,231.9 L292.9,231.9 L293.2,231.9 L293.6,231.9 L294.0,231.9 L294.4,231.9 L294.8,231.9 L295.1,231.9 L295.5,231.9 L295.9,231.9 L296.3,231.9 L296.6,231.9 L297.0,231.9 L297.4,231.9 L297.8,231.9 L298.2,231.9 L298.5,231.9 L298.9,231.9 L299.3,231.9 L299.7,231.9 L300.0,231.9 L300.4,231.9 L300.8,231.9 L301.2,231.9 L301.6,231.9 L301.9,231.9 L302.3,231.9 L302.7,231.9 L303.1,231.9 L303.4,231.9 L303.8,231.9 L304.2,231.9 L304.6,231.9 L305.0,231.9 L305.3,231.9 L305.7,231.9 L306.1,231.9 L306.5,231.9 L306.8,231.9 L307.2,231.9 L307.6,231.9 L308.0,231.9 L308.3,231.9 L308.7,231.9 L309.1,231.9 L309.5,231.9 L309.9,231.9 L310.2,231.9 L310.6,231.9 L311.0,231.9 L311.4,231.9 L311.7,231.9 L312.1,231.9 L312.5,231.9 L312.9,231.9 L313.3,231.9 L313.6,231.9 L314.0,231.9 L314.4,231.9 L314.8,231.9 L315.1,231.9 L315.5,231.9 L315.9,231.9 L316.3,231.9 L316.7,231.9 L317.0,231.9 L317.4,231.9 L317.8,231.9 L318.2,231.9 L318.5,231.9 L318.9,231.8 L319.3,231.8 L319.7,231.8 L320.1,231.8 L320.4,231.8 L320.8,231.8 L321.2,231.8 L321.6,231.8 L321.9,231.8 L322.3,231.8 L322.7,231.8 L323.1,231.8 L323.5,231.8 L323.8,231.8 L324.2,231.8 L324.6,231.7 L325.0,231.7 L325.3,231.7 L325.7,231.7 L326.1,231.7 L326.5,231.7 L326.9,231.7 L327.2,231.7 L327.6,231.7 L328.0,231.7 L328.4,231.6 L328.7,231.6 L329.1,231.6 L329.5,231.6" fill="none" stroke="#42a5dc" stroke-width="1.2"/>
<path d="M65.5,231.6 L65.9,231.6 L66.3,231.6 L66.6,231.6 L67.0,231.6 L67.4,231.6 L67.8,231.6 L68.1,231.7 L68.5,231.7 L68.9,231.7 L69.3,231.7 L69.7,231.7 L70.0,231.7 L70.4,231.7 L70.8,231.7 L71.2,231.7 L71.5,231.7 L71.9,231.7 L72.3,231.7 L72.7,231.7 L73.1,231.7 L73.4,231.7 L73.8,231.7 L74.2,231.7 L74.6,231.7 L74.9,231.7 L75.3,231.7 L75.7,231.7 L76.1,231.7 L76.5,231.7 L76.8,231.7 L77.2,231.7 L77.6,231.7 L78.0,231.7 L78.3,231.7 L78.7,231.7 L79.1,231.7 L79.5,231.7 L79.9,231.7 L80.2,231.7 L80.6,231.7 L81.0,231.7 L81.4,231.7 L81.7,231.7 L82.1,231.7 L82.5,231.7 L82.9,231.7 L83.3,231.7 L83.6,231.7 L84.0,231.7 L84.4,231.6 L84.8,231.6 L85.1,231.6 L85.5,231.6 L85.9,231.6 L86.3,231.6 L86.7,231.6 L87.0,231.6 L87.4,231.6 L87.8,231.6 L88.2,231.6 L88.5,231.6 L88.9,231.6 L89.3,231.6 L89.7,231.5 L90.0,231.5 L90.4,231.5 L90.8,231.5 L91.2,231.5 L91.6,231.5 L91.9,231.5 L92.3,231.5 L92.7,231.5 L93.1,231.5 L93.4,231.5 L93.8,231.5 L94.2,231.4 L94.6,231.4 L95.0,231.4 L95.3,231.4 L95.7,231.4 L96.1,231.4 L96.5,231.4 L96.8,231.4 L97.2,231.4 L97.6,231.4 L98.0,231.4 L98.4,231.3 L98.7,231.3 L99.1,231.3 L99.5,231.3 L99.9,231.3 L100.2,231.3 L100.6,231.3 L101.0,231.3 L101.4,231.3 L101.8,231.2 L102.1,231.2 L102.5,231.2 L102.9,231.2 L103.3,231.2 L103.6,231.2 L104.0,231.1 L104.4,231.1 L104.8,231.1 L105.2,231.1 L105.5,231.1 L105.9,231.0 L106.3,231.0 L106.7,231.0 L107.0,231.0 L107.4,230.9 L107.8,230.9 L108.2,230.9 L108.6,230.9 L108.9,230.8 L109.3,230.8 L109.7,230.8 L110.1,230.7 L110.4,230.7 L110.8,230.7 L111.2,230.7 L111.6,230.6 L112.0,230.6 L112.3,230.6 L112.7,230.5 L113.1,230.5 L113.5,230.5 L113.8,230.4 L114.2,230.4 L114.6,230.3 L115.0,230.3 L115.4,230.3 L115.7,230.2 L116.1,230.2 L116.5,230.2 L116.9,230.1 L117.2,230.1 L117.6,230.0 L118.0,230.0 L118.4,230.0 L118.8,229.9 L119.1,229.9 L119.5,229.9 L119.9,229.8 L120.3,229.8 L120.6,229.7 L121.0,229.7 L121.4,229.6 L121.8,229.6 L122.2,229.5 L122.5,229.5 L122.9,229.4 L123.3,229.3 L123.7,229.3 L124.0,229.2 L124.4,229.1 L124.8,229.1 L125.2,229.0 L125.6,228.9 L125.9,228.8 L126.3,228.7 L126.7,228.6 L127.1,228.6 L127.4,228.5 L127.8,228.4 L128.2,228.3 L128.6,228.2 L129.0,228.1 L129.3,228.0 L129.7,227.9 L130.1,227.8 L130.5,227.7 L130.8,227.6 L131.2,227.5 L131.6,227.3 L132.0,227.2 L132.3,227.1 L132.7,227.0 L133.1,226.9 L133.5,226.8 L133.9,226.7 L134.2,226.5 L134.6,226.4 L135.0,226.3 L135.4,226.2 L135.7,226.1 L136.1,225.9 L136.5,225.8 L136.9,225.7 L137.3,225.6 L137.6,225.4 L138.0,225.3 L138.4,225.2 L138.8,225.1 L139.1,224.9 L139.5,224.8 L139.9,224.7 L140.3,224.6 L140.7,224.4 L141.0,224.3 L141.4,224.2 L141.8,224.1 L142.2,223.9 L142.5,223.8 L142.9,223.7 L143.3,223.6 L143.7,223.4 L144.1,223.3 L144.4,223.2 L144.8,223.0 L145.2,222.9 L145.6,222.7 L145.9,222.6 L146.3,222.4 L146.7,222.3 L147.1,222.1 L147.5,222.0 L147.8,221.8 L148.2,221.6 L148.6,221.5 L149.0,221.3 L149.3,221.1 L149.7,220.9 L150.1,220.8 L150.5,220.6 L150.9,220.4 L151.2,220.2 L151.6,220.0 L152.0,219.8 L152.4,219.5 L152.7,219.3 L153.1,219.1 L153.5,218.9 L153.9,218.6 L154.3,218.4 L154.6,218.2 L155.0,217.9 L155.4,217.6 L155.8,217.4 L156.1,217.1 L156.5,216.8 L156.9,216.5 L157.3,216.3 L157.7,216.0 L158.0,215.7 L158.4,215.3 L158.8,215.0 L159.2,214.7 L159.5,214.4 L159.9,214.0 L160.3,213.7 L160.7,213.3 L161.1,213.0 L161.4,212.6 L161.8,212.2 L162.2,211.8 L162.6,211.4 L162.9,211.0 L163.3,210.6 L163.7,210.1 L164.1,209.7 L164.5,209.3 L164.8,208.8 L165.2,208.3 L165.6,207.9 L166.0,207.4 L166.3,206.9 L166.7,206.4 L167.1,205.9 L167.5,205.4 L167.9,204.9 L168.2,204.3 L168.6,203.8 L169.0,203.3 L169.4,202.8 L169.7,202.2 L170.1,201.7 L170.5,201.1 L170.9,200.6 L171.3,200.0 L171.6,199.5 L172.0,198.9 L172.4,198.3 L172.8,197.8 L173.1,197.2 L173.5,196.6 L173.9,196.1 L174.3,195.5 L174.7,194.9 L175.0,194.4 L175.4,193.8 L175.8,193.2 L176.2,192.6 L176.5,192.1 L176.9,191.5 L177.3,190.9 L177.7,190.3 L178.0,189.8 L178.4,189.2 L178.8,188.6 L179.2,188.0 L179.6,187.4 L179.9,186.7 L180.3,186.1 L180.7,185.5 L181.1,184.8 L181.4,184.2 L181.8,183.5 L182.2,182.8 L182.6,182.1 L183.0,181.5 L183.3,180.8 L183.7,180.1 L184.1,179.4 L184.5,178.7 L184.8,177.9 L185.2,177.2 L185.6,176.5 L186.0,175.8 L186.4,175.1 L186.7,174.3 L187.1,173.6 L187.5,172.9 L187.9,172.1 L188.2,171.4 L188.6,170.6 L189.0,169.9 L189.4,169.2 L189.8,168.4 L190.1,167.6 L190.5,166.9 L190.9,166.1 L191.3,165.4 L191.6,164.6 L192.0,163.8 L192.4,163.1 L192.8,162.3 L193.2,161.5 L193.5,160.7 L193.9,160.0 L194.3,159.2 L194.7,158.4 L195.0,157.6 L195.4,156.8 L195.8,156.1 L196.2,155.3 L196.6,154.5 L196.9,153.7 L197.3,152.9 L197.7,152.1 L198.1,151.3 L198.4,150.6 L198.8,149.8 L199.2,149.0 L199.6,148.2 L200.0,147.4 L200.3,146.6 L200.7,145.8 L201.1,145.0 L201.5,144.2 L201.8,143.3 L202.2,142.5 L202.6,141.6 L203.0,140.8 L203.4,139.9 L203.7,139.1 L204.1,138.2 L204.5,137.3 L204.9,136.5 L205.2,135.6 L205.6,134.7 L206.0,133.8 L206.4,133.0 L206.8,132.1 L207.1,131.2 L207.5,130.3 L207.9,129.4 L208.3,128.6 L208.6,127.7 L209.0,126.8 L209.4,126.0 L209.8,125.1 L210.2,124.3 L210.5,123.4 L210.9,122.6 L211.3,121.7 L211.7,120.9 L212.0,120.1 L212.4,119.3 L212.8,118.5 L213.2,117.7 L213.6,116.9 L213.9,116.1 L214.3,115.4 L214.7,114.6 L215.1,113.9 L215.4,113.2 L215.8,112.4 L216.2,111.7 L216.6,111.0 L217.0,110.3 L217.3,109.6 L217.7,108.9 L218.1,108.3 L218.5,107.6 L218.8,106.9 L219.2,106.2 L219.6,105.6 L220.0,104.9 L220.3,104.3 L220.7,103.6 L221.1,103.0 L221.5,102.3 L221.9,101.7 L222.2,101.0 L222.6,100.4 L223.0,99.8 L223.4,99.1 L223.7,98.5 L224.1,97.9 L224.5,97.3 L224.9,96.6 L225.3,96.0 L225.6,95.4 L226.0,94.8 L226.4,94.2 L226.8,93.6 L227.1,92.9 L227.5,92.3 L227.9,91.7 L228.3,91.1 L228.7,90.5 L229.0,89.9 L229.4,89.3 L229.8,88.6 L230.2,88.0 L230.5,87.4 L230.9,86.8 L231.3,86.2 L231.7,85.6 L232.1,85.0 L232.4,84.4 L232.8,83.8 L233.2,83.2 L233.6,82.6 L233.9,82.0 L234.3,81.4 L234.7,80.9 L235.1,80.3 L235.5,79.8 L235.8,79.2 L236.2,78.7 L236.6,78.1 L237.0,77.6 L237.3,77.1 L237.7,76.6 L238.1,76.1 L238.5,75.6 L238.9,75.2 L239.2,74.8 L239.6,74.3 L240.0,73.9 L240.4,73.5 L240.7,73.2 L241.1,72.8 L241.5,72.4 L241.9,72.1 L242.3,71.8 L242.6,71.5 L243.0,71.2 L243.4,70.9 L243.8,70.6 L244.1,70.3 L244.5,70.1 L244.9,69.8 L245.3,69.6 L245.7,69.3 L246.0,69.1 L246.4,68.8 L246.8,68.6 L247.2,68.4 L247.5,68.2 L247.9,68.0 L248.3,67.8 L248.7,67.6 L249.1,67.4 L249.4,67.2 L249.8,67.0 L250.2,66.9 L250.6,66.7 L250.9,66.5 L251.3,66.4 L251.7,66.2 L252.1,66.1 L252.5,66.0 L252.8,65.9 L253.2,65.8 L253.6,65.6 L254.0,65.5 L254.3,65.4 L254.7,65.3 L255.1,65.2 L255.5,65.1 L255.9,65.0 L256.2,64.9 L256.6,64.8 L257.0,64.7 L257.4,64.6 L257.7,64.5 L258.1,64.4 L258.5,64.4 L258.9,64.3 L259.3,64.2 L259.6,64.1 L260.0,64.0 L260.4,64.0 L260.8,63.9 L261.1,63.8 L261.5,63.8 L261.9,63.7 L262.3,63.6 L262.7,63.6 L263.0,63.6 L263.4,63.5 L263.8,63.5 L264.2,63.5 L264.5,63.4 L264.9,63.4 L265.3,63.4 L265.7,63.3 L266.0,63.3 L266.4,63.3 L266.8,63.2 L267.2,63.2 L267.6,63.2 L267.9,63.2 L268.3,63.1 L268.7,63.1 L269.1,63.1 L269.4,63.0 L269.8,63.0 L270.2,63.0 L270.6,63.0 L271.0,62.9 L271.3,62.9 L271.7,62.9 L272.1,62.8 L272.5,62.8 L272.8,62.8 L273.2,62.7 L273.6,62.7 L274.0,62.7 L274.4,62.7 L274.7,62.6 L275.1,62.6 L275.5,62.6 L275.9,62.5 L276.2,62.5 L276.6,62.5 L277.0,62.4 L277.4,62.4 L277.8,62.4 L278.1,62.3 L278.5,62.3 L278.9,62.3 L279.3,62.3 L279.6,62.2 L280.0,62.2 L280.4,62.2 L280.8,62.1 L281.2,62.1 L281.5,62.1 L281.9,62.0 L282.3,62.0 L282.7,62.0 L283.0,61.9 L283.4,61.9 L283.8,61.9 L284.2,61.8 L284.6,61.8 L284.9,61.8 L285.3,61.7 L285.7,61.7 L286.1,61.6 L286.4,61.6 L286.8,61.5 L287.2,61.5 L287.6,61.4 L288.0,61.3 L288.3,61.3 L288.7,61.2 L289.1,61.1 L289.5,61.0 L289.8,60.9 L290.2,60.8 L290.6,60.7 L291.0,60.6 L291.4,60.5 L291.7,60.4 L292.1,60.3 L292.5,60.2 L292.9,60.1 L293.2,59.9 L293.6,59.8 L294.0,59.7 L294.4,59.6 L294.8,59.4 L295.1,59.3 L295.5,59.2 L295.9,59.0 L296.3,58.9 L296.6,58.8 L297.0,58.6 L297.4,58.5 L297.8,58.3 L298.2,58.2 L298.5,58.1 L298.9,57.9 L299.3,57.8 L299.7,57.6 L300.0,57.5 L300.4,57.3 L300.8,57.2 L301.2,57.0 L301.6,56.9 L301.9,56.8 L302.3,56.6 L302.7,56.5 L303.1,56.3 L303.4,56.2 L303.8,56.0 L304.2,55.9 L304.6,55.8 L305.0,55.6 L305.3,55.5 L305.7,55.3 L306.1,55.2 L306.5,55.0 L306.8,54.9 L307.2,54.8 L307.6,54.6 L308.0,54.5 L308.3,54.4 L308.7,54.2 L309.1,54.1 L309.5,53.9 L309.9,53.8 L310.2,53.7 L310.6,53.5 L311.0,53.4 L311.4,53.3 L311.7,53.1 L312.1,53.0 L312.5,52.8 L312.9,52.7 L313.3,52.6 L313.6,52.4 L314.0,52.3 L314.4,52.2 L314.8,52.0 L315.1,51.9 L315.5,51.8 L315.9,51.7 L316.3,51.5 L316.7,51.4 L317.0,51.3 L317.4,51.2 L317.8,51.0 L318.2,50.9 L318.5,50.8 L318.9,50.7 L319.3,50.6 L319.7,50.5 L320.1,50.4 L320.4,50.3 L320.8,50.2 L321.2,50.1 L321.6,50.0 L321.9,50.0 L322.3,49.9 L322.7,49.8 L323.1,49.7 L323.5,49.7 L323.8,49.6 L324.2,49.5 L324.6,49.4 L325.0,49.4 L325.3,49.3 L325.7,49.2 L326.1,49.2 L326.5,49.1 L326.9,49.1 L327.2,49.0 L327.6,48.9 L328.0,48.9 L328.4,48.8 L328.7,48.8 L329.1,48.7 L329.5,48.7" fill="none" stroke="#62b22f" stroke-width="1.3"/>
</g>
<line x1="65.50" y1="19.50" x2="329.00" y2="19.50" stroke="#3a3a3a" stroke-width="1.1" />
<line x1="329.00" y1="19.50" x2="329.00" y2="231.50" stroke="#888" stroke-width="1.0" />
<line x1="65.50" y1="19.50" x2="65.50" y2="232.00" stroke="#1a1a1a" stroke-width="1.3" />
<line x1="65.00" y1="231.50" x2="329.00" y2="231.50" stroke="#1a1a1a" stroke-width="1.3" />
<line x1="69.89" y1="231.50" x2="69.89" y2="233.70" stroke="#1a1a1a" stroke-width="1.1" />
<line x1="92.60" y1="231.50" x2="92.60" y2="235.50" stroke="#1a1a1a" stroke-width="1.1" />
<text x="92.6" y="249.6" font-size="14" text-anchor="middle" fill="#1a1a1a" >1.0</text>
<line x1="115.31" y1="231.50" x2="115.31" y2="233.70" stroke="#1a1a1a" stroke-width="1.1" />
<line x1="138.02" y1="231.50" x2="138.02" y2="235.50" stroke="#1a1a1a" stroke-width="1.1" />
<text x="138.0" y="249.6" font-size="14" text-anchor="middle" fill="#1a1a1a" >1.5</text>
<line x1="160.74" y1="231.50" x2="160.74" y2="233.70" stroke="#1a1a1a" stroke-width="1.1" />
<line x1="183.45" y1="231.50" x2="183.45" y2="235.50" stroke="#1a1a1a" stroke-width="1.1" />
<text x="183.4" y="249.6" font-size="14" text-anchor="middle" fill="#1a1a1a" >2.0</text>
<line x1="206.16" y1="231.50" x2="206.16" y2="233.70" stroke="#1a1a1a" stroke-width="1.1" />
<line x1="228.87" y1="231.50" x2="228.87" y2="235.50" stroke="#1a1a1a" stroke-width="1.1" />
<text x="228.9" y="249.6" font-size="14" text-anchor="middle" fill="#1a1a1a" >2.5</text>
<line x1="251.59" y1="231.50" x2="251.59" y2="233.70" stroke="#1a1a1a" stroke-width="1.1" />
<line x1="274.30" y1="231.50" x2="274.30" y2="235.50" stroke="#1a1a1a" stroke-width="1.1" />
<text x="274.3" y="249.6" font-size="14" text-anchor="middle" fill="#1a1a1a" >3.0</text>
<line x1="297.01" y1="231.50" x2="297.01" y2="233.70" stroke="#1a1a1a" stroke-width="1.1" />
<line x1="319.73" y1="231.50" x2="319.73" y2="235.50" stroke="#1a1a1a" stroke-width="1.1" />
<text x="319.7" y="249.6" font-size="14" text-anchor="middle" fill="#1a1a1a" >3.5</text>
<line x1="65.50" y1="231.60" x2="61.50" y2="231.60" stroke="#1a1a1a" stroke-width="1.1" />
<text x="58.6" y="236.6" font-size="14" text-anchor="end" fill="#1a1a1a" >0.00</text>
<line x1="65.50" y1="200.27" x2="63.30" y2="200.27" stroke="#1a1a1a" stroke-width="1.1" />
<line x1="65.50" y1="168.95" x2="61.50" y2="168.95" stroke="#1a1a1a" stroke-width="1.1" />
<text x="58.6" y="173.9" font-size="14" text-anchor="end" fill="#1a1a1a" >0.05</text>
<line x1="65.50" y1="137.62" x2="63.30" y2="137.62" stroke="#1a1a1a" stroke-width="1.1" />
<line x1="65.50" y1="106.30" x2="61.50" y2="106.30" stroke="#1a1a1a" stroke-width="1.1" />
<text x="58.6" y="111.3" font-size="14" text-anchor="end" fill="#1a1a1a" >0.10</text>
<line x1="65.50" y1="74.97" x2="63.30" y2="74.97" stroke="#1a1a1a" stroke-width="1.1" />
<line x1="65.50" y1="43.65" x2="61.50" y2="43.65" stroke="#1a1a1a" stroke-width="1.1" />
<text x="58.6" y="48.7" font-size="14" text-anchor="end" fill="#1a1a1a" >0.15</text>
<text x="197.4" y="274.6" font-size="16" text-anchor="middle" fill="#1a1a1a" >Photon energy (eV)</text>
<text transform="translate(17.6,118.3) rotate(-90)" font-size="16" text-anchor="middle" fill="#1a1a1a">Absorbance (arb. units)</text>
<text x="0.0" y="19.2" font-size="25.5" text-anchor="start" fill="#111" >(a)</text>
<line x1="74.00" y1="30.60" x2="98.00" y2="30.60" stroke="#bdbdbd" stroke-width="3" />
<line x1="74.00" y1="44.00" x2="82.00" y2="44.00" stroke="#111" stroke-width="2" />
<line x1="94.50" y1="44.00" x2="98.00" y2="44.00" stroke="#111" stroke-width="2" />
<line x1="74.00" y1="57.60" x2="98.00" y2="57.60" stroke="#42a5dc" stroke-width="1.2" />
<line x1="74.00" y1="71.00" x2="98.00" y2="71.00" stroke="#62b22f" stroke-width="1.3" />
<text x="102.0" y="34.6" font-size="11" text-anchor="start" fill="#1a1a1a" >Abs</text>
<text x="102.0" y="48.0" font-size="11" text-anchor="start" fill="#1a1a1a" >Fit</text>
<text x="102.0" y="61.6" font-size="11" text-anchor="start" fill="#1a1a1a" >MMT</text>
<text x="102.0" y="75.0" font-size="11" text-anchor="start" fill="#1a1a1a" >LMCT</text>
<g id="heat"><g shape-rendering="crispEdges"><path fill="#fef3eb" d="M409.4 18.5h6.0v2.9h-6.0zM454.4 18.5h4.0v2.9h-4.0zM492.4 18.5h8.0v2.9h-8.0zM537.8 18.5h0.8v2.9h-0.8zM409.4 21.4h6.0v4.0h-6.0zM454.4 21.4h4.0v4.0h-4.0zM494.4 21.4h6.0v4.0h-6.0zM537.8 21.4h0.8v4.0h-0.8zM409.4 25.4h6.0v4.0h-6.0zM454.4 25.4h2.0v4.0h-2.0zM494.4 25.4h6.0v4.0h-6.0zM537.8 25.4h0.8v4.0h-0.8zM409.4 29.4h6.0v4.0h-6.0zM454.4 29.4h2.0v4.0h-2.0zM494.4 29.4h6.0v4.0h-6.0zM537.8 29.4h0.8v4.0h-0.8zM409.4 33.4h6.0v4.0h-6.0zM454.4 33.4h2.0v4.0h-2.0zM494.4 33.4h6.0v4.0h-6.0zM537.8 33.4h0.8v4.0h-0.8zM409.4 37.4h6.0v4.0h-6.0zM454.4 37.4h2.0v4.0h-2.0zM494.4 37.4h6.0v4.0h-6.0zM537.8 37.4h0.8v4.0h-0.8zM409.4 41.4h6.0v4.0h-6.0zM454.4 41.4h2.0v4.0h-2.0zM494.4 41.4h6.0v4.0h-6.0zM537.8 41.4h0.8v4.0h-0.8zM409.4 45.4h6.0v4.0h-6.0zM454.4 45.4h2.0v4.0h-2.0zM496.4 45.4h4.0v4.0h-4.0zM537.8 45.4h0.8v4.0h-0.8zM409.4 49.4h6.0v4.0h-6.0zM454.4 49.4h2.0v4.0h-2.0zM496.4 49.4h4.0v4.0h-4.0zM537.8 49.4h0.8v4.0h-0.8zM409.4 53.4h6.0v4.0h-6.0zM454.4 53.4h2.0v4.0h-2.0zM496.4 53.4h4.0v4.0h-4.0zM537.8 53.4h0.8v4.0h-0.8zM547.6 53.4h8.0v4.0h-8.0zM409.4 57.4h6.0v4.0h-6.0zM454.4 57.4h2.0v4.0h-2.0zM496.4 57.4h4.0v4.0h-4.0zM537.8 57.4h0.8v4.0h-0.8zM545.6 57.4h10.0v4.0h-10.0zM409.4 61.4h6.0v4.0h-6.0zM496.4 61.4h6.0v4.0h-6.0zM537.8 61.4h0.8v4.0h-0.8zM543.6 61.4h12.0v4.0h-12.0zM409.4 65.4h6.0v4.0h-6.0zM498.4 65.4h4.0v4.0h-4.0zM537.8 65.4h0.8v4.0h-0.8zM543.6 65.4h12.0v4.0h-12.0zM409.4 69.4h6.0v4.0h-6.0zM498.4 69.4h4.0v4.0h-4.0zM537.8 69.4h0.8v4.0h-0.8zM543.6 69.4h12.0v4.0h-12.0zM409.4 73.4h6.0v4.0h-6.0zM498.4 73.4h4.0v4.0h-4.0zM537.8 73.4h0.8v4.0h-0.8zM543.6 73.4h12.0v4.0h-12.0zM409.4 77.4h6.0v4.0h-6.0zM500.4 77.4h2.0v4.0h-2.0zM537.8 77.4h0.8v4.0h-0.8zM543.6 77.4h12.0v4.0h-12.0zM409.4 81.4h6.0v4.0h-6.0zM500.4 81.4h2.0v4.0h-2.0zM537.8 81.4h0.8v4.0h-0.8zM543.6 81.4h12.0v4.0h-12.0zM409.4 85.4h6.0v4.0h-6.0zM500.4 85.4h2.0v4.0h-2.0zM537.8 85.4h0.8v4.0h-0.8zM543.6 85.4h12.0v4.0h-12.0zM409.4 89.4h6.0v4.0h-6.0zM500.4 89.4h4.0v4.0h-4.0zM537.8 89.4h0.8v4.0h-0.8zM543.6 89.4h12.0v4.0h-12.0zM409.4 93.4h6.0v4.0h-6.0zM500.4 93.4h4.0v4.0h-4.0zM537.8 93.4h0.8v4.0h-0.8zM543.6 93.4h12.0v4.0h-12.0zM409.4 97.4h6.0v4.0h-6.0zM500.4 97.4h4.0v4.0h-4.0zM537.8 97.4h0.8v4.0h-0.8zM543.6 97.4h12.0v4.0h-12.0zM409.4 101.4h6.0v4.0h-6.0zM502.4 101.4h2.0v4.0h-2.0zM537.8 101.4h0.8v4.0h-0.8zM543.6 101.4h12.0v4.0h-12.0zM409.4 105.4h6.0v4.0h-6.0zM502.4 105.4h2.0v4.0h-2.0zM537.8 105.4h0.8v4.0h-0.8zM543.6 105.4h12.0v4.0h-12.0zM409.4 109.4h6.0v4.0h-6.0zM502.4 109.4h2.0v4.0h-2.0zM537.8 109.4h0.8v4.0h-0.8zM543.6 109.4h12.0v4.0h-12.0zM409.4 113.4h6.0v4.0h-6.0zM502.4 113.4h2.0v4.0h-2.0zM537.8 113.4h0.8v4.0h-0.8zM543.6 113.4h12.0v4.0h-12.0zM409.4 117.4h6.0v3.0h-6.0zM502.4 117.4h2.0v3.0h-2.0zM537.8 117.4h0.8v3.0h-0.8zM543.6 117.4h18.0v3.0h-18.0zM409.4 120.4h6.0v3.0h-6.0zM502.4 120.4h2.0v3.0h-2.0zM537.8 120.4h0.8v3.0h-0.8zM543.6 120.4h22.0v3.0h-22.0zM409.4 123.4h6.0v3.0h-6.0zM502.4 123.4h2.0v3.0h-2.0zM537.8 123.4h0.8v3.0h-0.8zM543.6 123.4h28.0v3.0h-28.0zM409.4 126.4h6.0v3.0h-6.0zM502.4 126.4h2.0v3.0h-2.0zM537.8 126.4h0.8v3.0h-0.8zM543.6 126.4h32.0v3.0h-32.0zM409.4 129.4h6.0v3.0h-6.0zM502.4 129.4h2.0v3.0h-2.0zM537.8 129.4h0.8v3.0h-0.8zM543.6 129.4h36.0v3.0h-36.0zM409.4 132.4h6.0v3.0h-6.0zM502.4 132.4h2.0v3.0h-2.0zM537.8 132.4h0.8v3.0h-0.8zM543.6 132.4h40.0v3.0h-40.0zM409.4 135.4h6.0v3.0h-6.0zM502.4 135.4h2.0v3.0h-2.0zM537.8 135.4h0.8v3.0h-0.8zM543.6 135.4h44.0v3.0h-44.0zM409.4 138.4h6.0v3.0h-6.0zM502.4 138.4h2.0v3.0h-2.0zM537.8 138.4h0.8v3.0h-0.8zM543.6 138.4h48.0v3.0h-48.0zM409.4 141.4h6.0v3.0h-6.0zM502.4 141.4h2.0v3.0h-2.0zM537.8 141.4h0.8v3.0h-0.8zM543.6 141.4h8.0v3.0h-8.0zM555.6 141.4h40.0v3.0h-40.0zM409.4 144.4h6.0v3.0h-6.0zM502.4 144.4h2.0v3.0h-2.0zM537.8 144.4h0.8v3.0h-0.8zM543.6 144.4h6.0v3.0h-6.0zM555.6 144.4h2.0v3.0h-2.0zM567.6 144.4h34.0v3.0h-34.0zM409.4 147.4h6.0v3.0h-6.0zM502.4 147.4h2.0v3.0h-2.0zM537.8 147.4h0.8v3.0h-0.8zM543.6 147.4h4.0v3.0h-4.0zM573.6 147.4h32.0v3.0h-32.0zM409.4 150.4h6.0v3.0h-6.0zM502.4 150.4h2.0v3.0h-2.0zM537.8 150.4h0.8v3.0h-0.8zM543.6 150.4h2.0v3.0h-2.0zM579.6 150.4h30.0v3.0h-30.0zM409.4 153.4h6.0v3.0h-6.0zM502.4 153.4h2.0v3.0h-2.0zM537.8 153.4h0.8v3.0h-0.8zM587.6 153.4h26.0v3.0h-26.0zM409.4 156.4h6.0v3.0h-6.0zM537.8 156.4h0.8v3.0h-0.8zM591.6 156.4h26.0v3.0h-26.0zM409.4 159.4h6.0v3.0h-6.0zM537.8 159.4h0.8v3.0h-0.8zM595.6 159.4h24.0v3.0h-24.0zM409.4 162.4h6.0v3.0h-6.0zM537.8 162.4h0.8v3.0h-0.8zM599.6 162.4h24.0v3.0h-24.0zM409.4 165.4h6.0v3.0h-6.0zM537.8 165.4h0.8v3.0h-0.8zM605.6 165.4h22.0v3.0h-22.0zM409.4 168.4h6.0v3.0h-6.0zM537.8 168.4h0.8v3.0h-0.8zM613.6 168.4h22.0v3.0h-22.0zM409.4 171.4h6.0v3.0h-6.0zM537.8 171.4h0.8v3.0h-0.8zM617.6 171.4h26.0v3.0h-26.0zM409.4 174.4h6.0v3.0h-6.0zM537.8 174.4h0.8v3.0h-0.8zM623.6 174.4h26.0v3.0h-26.0zM409.4 177.4h6.0v3.0h-6.0zM537.8 177.4h0.8v3.0h-0.8zM627.6 177.4h28.0v3.0h-28.0zM409.4 180.4h6.0v3.0h-6.0zM537.8 180.4h0.8v3.0h-0.8zM633.6 180.4h30.0v3.0h-30.0zM409.4 183.4h6.0v3.0h-6.0zM537.8 183.4h0.8v3.0h-0.8zM643.6 183.4h26.9v3.0h-26.9zM409.4 186.4h6.0v2.9h-6.0zM537.8 186.4h0.8v2.9h-0.8zM651.6 186.4h18.9v2.9h-18.9zM409.4 189.3h6.0v3.2h-6.0zM537.8 189.3h0.8v3.2h-0.8zM659.6 189.3h10.9v3.2h-10.9zM409.4 192.5h4.0v3.5h-4.0zM537.8 192.5h0.8v3.5h-0.8zM669.6 192.5h0.9v3.5h-0.9zM409.4 196.0h4.0v3.8h-4.0zM502.4 196.0h2.0v3.8h-2.0zM537.8 196.0h0.8v3.8h-0.8zM409.4 199.8h4.0v4.2h-4.0zM502.4 199.8h2.0v4.2h-2.0zM537.8 199.8h0.8v4.2h-0.8zM411.4 204.0h2.0v5.0h-2.0zM502.4 204.0h2.0v5.0h-2.0zM537.8 204.0h0.8v5.0h-0.8zM454.4 209.0h2.0v6.0h-2.0zM502.4 209.0h2.0v6.0h-2.0zM530.4 209.0h4.0v6.0h-4.0zM537.8 209.0h0.8v6.0h-0.8zM504.4 215.0h2.0v6.9h-2.0zM530.4 215.0h4.0v6.9h-4.0zM537.8 215.0h0.8v6.9h-0.8zM506.4 221.9h2.0v8.9h-2.0zM530.4 221.9h4.0v8.9h-4.0zM537.8 221.9h0.8v8.9h-0.8z"/><path fill="#fff9f5" d="M415.4 18.5h2.0v2.9h-2.0zM500.4 18.5h4.0v2.9h-4.0zM530.4 18.5h4.0v2.9h-4.0zM543.6 18.5h12.0v2.9h-12.0zM415.4 21.4h2.0v4.0h-2.0zM500.4 21.4h4.0v4.0h-4.0zM530.4 21.4h4.0v4.0h-4.0zM543.6 21.4h12.0v4.0h-12.0zM415.4 25.4h2.0v4.0h-2.0zM500.4 25.4h4.0v4.0h-4.0zM530.4 25.4h4.0v4.0h-4.0zM543.6 25.4h12.0v4.0h-12.0zM415.4 29.4h2.0v4.0h-2.0zM500.4 29.4h4.0v4.0h-4.0zM530.4 29.4h4.0v4.0h-4.0zM543.6 29.4h12.0v4.0h-12.0zM415.4 33.4h2.0v4.0h-2.0zM500.4 33.4h4.0v4.0h-4.0zM530.4 33.4h4.0v4.0h-4.0zM543.6 33.4h12.0v4.0h-12.0zM415.4 37.4h2.0v4.0h-2.0zM500.4 37.4h4.0v4.0h-4.0zM530.4 37.4h4.0v4.0h-4.0zM543.6 37.4h12.0v4.0h-12.0zM415.4 41.4h2.0v4.0h-2.0zM500.4 41.4h4.0v4.0h-4.0zM530.4 41.4h4.0v4.0h-4.0zM543.6 41.4h12.0v4.0h-12.0zM415.4 45.4h2.0v4.0h-2.0zM500.4 45.4h4.0v4.0h-4.0zM530.4 45.4h4.0v4.0h-4.0zM543.6 45.4h12.0v4.0h-12.0zM415.4 49.4h2.0v4.0h-2.0zM500.4 49.4h4.0v4.0h-4.0zM530.4 49.4h4.0v4.0h-4.0zM543.6 49.4h12.0v4.0h-12.0zM415.4 53.4h2.0v4.0h-2.0zM500.4 53.4h4.0v4.0h-4.0zM530.4 53.4h4.0v4.0h-4.0zM543.6 53.4h4.0v4.0h-4.0zM415.4 57.4h2.0v4.0h-2.0zM500.4 57.4h4.0v4.0h-4.0zM530.4 57.4h4.0v4.0h-4.0zM543.6 57.4h2.0v4.0h-2.0zM415.4 61.4h2.0v4.0h-2.0zM502.4 61.4h2.0v4.0h-2.0zM530.4 61.4h4.0v4.0h-4.0zM415.4 65.4h2.0v4.0h-2.0zM502.4 65.4h4.0v4.0h-4.0zM530.4 65.4h4.0v4.0h-4.0zM415.4 69.4h2.0v4.0h-2.0zM502.4 69.4h4.0v4.0h-4.0zM530.4 69.4h4.0v4.0h-4.0zM415.4 73.4h2.0v4.0h-2.0zM502.4 73.4h4.0v4.0h-4.0zM530.4 73.4h4.0v4.0h-4.0zM415.4 77.4h2.0v4.0h-2.0zM502.4 77.4h4.0v4.0h-4.0zM530.4 77.4h4.0v4.0h-4.0zM415.4 81.4h2.0v4.0h-2.0zM502.4 81.4h4.0v4.0h-4.0zM530.4 81.4h4.0v4.0h-4.0zM415.4 85.4h2.0v4.0h-2.0zM502.4 85.4h4.0v4.0h-4.0zM530.4 85.4h4.0v4.0h-4.0zM555.6 85.4h2.0v4.0h-2.0zM415.4 89.4h2.0v4.0h-2.0zM504.4 89.4h2.0v4.0h-2.0zM530.4 89.4h4.0v4.0h-4.0zM555.6 89.4h6.0v4.0h-6.0zM415.4 93.4h2.0v4.0h-2.0zM504.4 93.4h2.0v4.0h-2.0zM530.4 93.4h4.0v4.0h-4.0zM555.6 93.4h10.0v4.0h-10.0zM415.4 97.4h2.0v4.0h-2.0zM504.4 97.4h2.0v4.0h-2.0zM530.4 97.4h4.0v4.0h-4.0zM555.6 97.4h16.0v4.0h-16.0zM415.4 101.4h2.0v4.0h-2.0zM504.4 101.4h2.0v4.0h-2.0zM530.4 101.4h4.0v4.0h-4.0zM555.6 101.4h20.0v4.0h-20.0zM415.4 105.4h2.0v4.0h-2.0zM504.4 105.4h2.0v4.0h-2.0zM530.4 105.4h4.0v4.0h-4.0zM555.6 105.4h26.0v4.0h-26.0zM415.4 109.4h2.0v4.0h-2.0zM504.4 109.4h2.0v4.0h-2.0zM530.4 109.4h4.0v4.0h-4.0zM555.6 109.4h32.0v4.0h-32.0zM415.4 113.4h2.0v4.0h-2.0zM504.4 113.4h2.0v4.0h-2.0zM530.4 113.4h4.0v4.0h-4.0zM555.6 113.4h38.0v4.0h-38.0zM415.4 117.4h2.0v3.0h-2.0zM504.4 117.4h2.0v3.0h-2.0zM530.4 117.4h4.0v3.0h-4.0zM561.6 117.4h36.0v3.0h-36.0zM415.4 120.4h2.0v3.0h-2.0zM504.4 120.4h2.0v3.0h-2.0zM530.4 120.4h4.0v3.0h-4.0zM565.6 120.4h36.0v3.0h-36.0zM415.4 123.4h2.0v3.0h-2.0zM504.4 123.4h2.0v3.0h-2.0zM530.4 123.4h4.0v3.0h-4.0zM571.6 123.4h34.0v3.0h-34.0zM415.4 126.4h2.0v3.0h-2.0zM504.4 126.4h2.0v3.0h-2.0zM530.4 126.4h4.0v3.0h-4.0zM575.6 126.4h34.0v3.0h-34.0zM415.4 129.4h2.0v3.0h-2.0zM504.4 129.4h2.0v3.0h-2.0zM530.4 129.4h4.0v3.0h-4.0zM579.6 129.4h32.0v3.0h-32.0zM415.4 132.4h2.0v3.0h-2.0zM504.4 132.4h2.0v3.0h-2.0zM530.4 132.4h4.0v3.0h-4.0zM583.6 132.4h32.0v3.0h-32.0zM415.4 135.4h2.0v3.0h-2.0zM504.4 135.4h2.0v3.0h-2.0zM530.4 135.4h4.0v3.0h-4.0zM587.6 135.4h32.0v3.0h-32.0zM415.4 138.4h2.0v3.0h-2.0zM504.4 138.4h2.0v3.0h-2.0zM530.4 138.4h4.0v3.0h-4.0zM591.6 138.4h30.0v3.0h-30.0zM415.4 141.4h2.0v3.0h-2.0zM504.4 141.4h2.0v3.0h-2.0zM530.4 141.4h4.0v3.0h-4.0zM595.6 141.4h30.0v3.0h-30.0zM415.4 144.4h2.0v3.0h-2.0zM504.4 144.4h2.0v3.0h-2.0zM530.4 144.4h4.0v3.0h-4.0zM601.6 144.4h28.0v3.0h-28.0zM415.4 147.4h2.0v3.0h-2.0zM504.4 147.4h2.0v3.0h-2.0zM530.4 147.4h4.0v3.0h-4.0zM605.6 147.4h28.0v3.0h-28.0zM415.4 150.4h2.0v3.0h-2.0zM504.4 150.4h2.0v3.0h-2.0zM530.4 150.4h4.0v3.0h-4.0zM609.6 150.4h30.0v3.0h-30.0zM415.4 153.4h2.0v3.0h-2.0zM504.4 153.4h2.0v3.0h-2.0zM530.4 153.4h4.0v3.0h-4.0zM613.6 153.4h30.0v3.0h-30.0zM415.4 156.4h2.0v3.0h-2.0zM504.4 156.4h2.0v3.0h-2.0zM530.4 156.4h4.0v3.0h-4.0zM617.6 156.4h30.0v3.0h-30.0zM415.4 159.4h2.0v3.0h-2.0zM504.4 159.4h2.0v3.0h-2.0zM530.4 159.4h4.0v3.0h-4.0zM619.6 159.4h34.0v3.0h-34.0zM415.4 162.4h2.0v3.0h-2.0zM504.4 162.4h2.0v3.0h-2.0zM530.4 162.4h4.0v3.0h-4.0zM623.6 162.4h34.0v3.0h-34.0zM415.4 165.4h2.0v3.0h-2.0zM504.4 165.4h2.0v3.0h-2.0zM530.4 165.4h4.0v3.0h-4.0zM627.6 165.4h36.0v3.0h-36.0zM415.4 168.4h2.0v3.0h-2.0zM504.4 168.4h2.0v3.0h-2.0zM530.4 168.4h4.0v3.0h-4.0zM635.6 168.4h34.9v3.0h-34.9zM415.4 171.4h2.0v3.0h-2.0zM504.4 171.4h2.0v3.0h-2.0zM530.4 171.4h4.0v3.0h-4.0zM643.6 171.4h26.9v3.0h-26.9zM415.4 174.4h2.0v3.0h-2.0zM504.4 174.4h2.0v3.0h-2.0zM530.4 174.4h4.0v3.0h-4.0zM649.6 174.4h20.9v3.0h-20.9zM415.4 177.4h2.0v3.0h-2.0zM504.4 177.4h2.0v3.0h-2.0zM530.4 177.4h4.0v3.0h-4.0zM655.6 177.4h14.9v3.0h-14.9zM504.4 180.4h2.0v3.0h-2.0zM530.4 180.4h4.0v3.0h-4.0zM663.6 180.4h6.9v3.0h-6.9zM504.4 183.4h2.0v3.0h-2.0zM530.4 183.4h4.0v3.0h-4.0zM504.4 186.4h2.0v2.9h-2.0zM530.4 186.4h4.0v2.9h-4.0zM504.4 189.3h2.0v3.2h-2.0zM530.4 189.3h4.0v3.2h-4.0zM413.4 192.5h2.0v3.5h-2.0zM504.4 192.5h2.0v3.5h-2.0zM530.4 192.5h4.0v3.5h-4.0zM413.4 196.0h2.0v3.8h-2.0zM504.4 196.0h2.0v3.8h-2.0zM530.4 196.0h4.0v3.8h-4.0zM413.4 199.8h2.0v4.2h-2.0zM504.4 199.8h2.0v4.2h-2.0zM530.4 199.8h4.0v4.2h-4.0zM409.4 204.0h2.0v5.0h-2.0zM413.4 204.0h2.0v5.0h-2.0zM504.4 204.0h2.0v5.0h-2.0zM530.4 204.0h4.0v5.0h-4.0zM504.4 209.0h4.0v6.0h-4.0zM506.4 215.0h2.0v6.9h-2.0zM508.4 221.9h2.0v8.9h-2.0z"/><path fill="#f5f8fd" d="M419.4 18.5h4.0v2.9h-4.0zM443.4 18.5h2.0v2.9h-2.0zM419.4 21.4h4.0v4.0h-4.0zM443.4 21.4h2.0v4.0h-2.0zM419.4 25.4h4.0v4.0h-4.0zM443.4 25.4h2.0v4.0h-2.0zM419.4 29.4h2.0v4.0h-2.0zM443.4 29.4h2.0v4.0h-2.0zM419.4 33.4h2.0v4.0h-2.0zM443.4 33.4h2.0v4.0h-2.0zM419.4 37.4h2.0v4.0h-2.0zM443.4 37.4h2.0v4.0h-2.0zM419.4 41.4h2.0v4.0h-2.0zM443.4 41.4h2.0v4.0h-2.0zM419.4 45.4h2.0v4.0h-2.0zM443.4 45.4h2.0v4.0h-2.0zM419.4 49.4h2.0v4.0h-2.0zM443.4 49.4h2.0v4.0h-2.0zM419.4 53.4h2.0v4.0h-2.0zM443.4 53.4h4.0v4.0h-4.0zM419.4 57.4h2.0v4.0h-2.0zM443.4 57.4h4.0v4.0h-4.0zM419.4 61.4h2.0v4.0h-2.0zM443.4 61.4h4.0v4.0h-4.0zM419.4 65.4h2.0v4.0h-2.0zM443.4 65.4h4.0v4.0h-4.0zM419.4 69.4h2.0v4.0h-2.0zM443.4 69.4h4.0v4.0h-4.0zM419.4 73.4h2.0v4.0h-2.0zM443.4 73.4h4.0v4.0h-4.0zM419.4 77.4h2.0v4.0h-2.0zM445.4 77.4h2.0v4.0h-2.0zM419.4 81.4h2.0v4.0h-2.0zM445.4 81.4h2.0v4.0h-2.0zM419.4 85.4h2.0v4.0h-2.0zM445.4 85.4h2.0v4.0h-2.0zM419.4 89.4h2.0v4.0h-2.0zM445.4 89.4h2.0v4.0h-2.0zM419.4 93.4h2.0v4.0h-2.0zM445.4 93.4h2.0v4.0h-2.0zM419.4 97.4h2.0v4.0h-2.0zM445.4 97.4h2.0v4.0h-2.0zM516.4 97.4h6.0v4.0h-6.0zM419.4 101.4h2.0v4.0h-2.0zM445.4 101.4h2.0v4.0h-2.0zM514.4 101.4h10.0v4.0h-10.0zM419.4 105.4h2.0v4.0h-2.0zM445.4 105.4h2.0v4.0h-2.0zM514.4 105.4h12.0v4.0h-12.0zM419.4 109.4h2.0v4.0h-2.0zM445.4 109.4h2.0v4.0h-2.0zM512.4 109.4h14.0v4.0h-14.0zM419.4 113.4h2.0v4.0h-2.0zM445.4 113.4h2.0v4.0h-2.0zM512.4 113.4h14.0v4.0h-14.0zM419.4 117.4h2.0v3.0h-2.0zM445.4 117.4h2.0v3.0h-2.0zM512.4 117.4h4.0v3.0h-4.0zM520.4 117.4h8.0v3.0h-8.0zM419.4 120.4h2.0v3.0h-2.0zM445.4 120.4h2.0v3.0h-2.0zM512.4 120.4h2.0v3.0h-2.0zM522.4 120.4h6.0v3.0h-6.0zM419.4 123.4h2.0v3.0h-2.0zM445.4 123.4h4.0v3.0h-4.0zM512.4 123.4h2.0v3.0h-2.0zM522.4 123.4h6.0v3.0h-6.0zM419.4 126.4h2.0v3.0h-2.0zM445.4 126.4h4.0v3.0h-4.0zM510.4 126.4h4.0v3.0h-4.0zM522.4 126.4h6.0v3.0h-6.0zM419.4 129.4h2.0v3.0h-2.0zM445.4 129.4h4.0v3.0h-4.0zM510.4 129.4h4.0v3.0h-4.0zM524.4 129.4h4.0v3.0h-4.0zM419.4 132.4h2.0v3.0h-2.0zM447.4 132.4h2.0v3.0h-2.0zM510.4 132.4h2.0v3.0h-2.0zM524.4 132.4h4.0v3.0h-4.0zM419.4 135.4h2.0v3.0h-2.0zM447.4 135.4h2.0v3.0h-2.0zM510.4 135.4h2.0v3.0h-2.0zM524.4 135.4h6.0v3.0h-6.0zM419.4 138.4h2.0v3.0h-2.0zM447.4 138.4h2.0v3.0h-2.0zM510.4 138.4h2.0v3.0h-2.0zM524.4 138.4h6.0v3.0h-6.0zM419.4 141.4h2.0v3.0h-2.0zM447.4 141.4h2.0v3.0h-2.0zM510.4 141.4h2.0v3.0h-2.0zM524.4 141.4h6.0v3.0h-6.0zM419.4 144.4h2.0v3.0h-2.0zM447.4 144.4h2.0v3.0h-2.0zM510.4 144.4h2.0v3.0h-2.0zM524.4 144.4h6.0v3.0h-6.0zM419.4 147.4h2.0v3.0h-2.0zM447.4 147.4h2.2v3.0h-2.2zM510.4 147.4h2.0v3.0h-2.0zM526.4 147.4h4.0v3.0h-4.0zM419.4 150.4h2.0v3.0h-2.0zM447.4 150.4h2.2v3.0h-2.2zM510.4 150.4h2.0v3.0h-2.0zM526.4 150.4h4.0v3.0h-4.0zM419.4 153.4h2.0v3.0h-2.0zM447.4 153.4h2.2v3.0h-2.2zM510.4 153.4h2.0v3.0h-2.0zM526.4 153.4h4.0v3.0h-4.0zM419.4 156.4h2.0v3.0h-2.0zM449.4 156.4h0.2v3.0h-0.2zM510.4 156.4h2.0v3.0h-2.0zM526.4 156.4h4.0v3.0h-4.0zM419.4 159.4h2.0v3.0h-2.0zM449.4 159.4h0.2v3.0h-0.2zM510.4 159.4h2.0v3.0h-2.0zM526.4 159.4h4.0v3.0h-4.0zM419.4 162.4h2.0v3.0h-2.0zM449.4 162.4h0.2v3.0h-0.2zM510.4 162.4h2.0v3.0h-2.0zM526.4 162.4h4.0v3.0h-4.0zM419.4 165.4h2.0v3.0h-2.0zM449.4 165.4h0.2v3.0h-0.2zM510.4 165.4h2.0v3.0h-2.0zM526.4 165.4h4.0v3.0h-4.0zM419.4 168.4h2.0v3.0h-2.0zM510.4 168.4h2.0v3.0h-2.0zM526.4 168.4h4.0v3.0h-4.0zM419.4 171.4h2.0v3.0h-2.0zM510.4 171.4h2.0v3.0h-2.0zM526.4 171.4h4.0v3.0h-4.0zM510.4 174.4h2.0v3.0h-2.0zM526.4 174.4h4.0v3.0h-4.0zM510.4 177.4h2.0v3.0h-2.0zM526.4 177.4h4.0v3.0h-4.0zM510.4 180.4h2.0v3.0h-2.0zM524.4 180.4h6.0v3.0h-6.0zM510.4 183.4h2.0v3.0h-2.0zM524.4 183.4h6.0v3.0h-6.0zM510.4 186.4h2.0v2.9h-2.0zM524.4 186.4h6.0v2.9h-6.0zM417.4 189.3h2.0v3.2h-2.0zM510.4 189.3h2.0v3.2h-2.0zM524.4 189.3h6.0v3.2h-6.0zM417.4 192.5h2.0v3.5h-2.0zM510.4 192.5h2.0v3.5h-2.0zM524.4 192.5h4.0v3.5h-4.0zM417.4 196.0h2.0v3.8h-2.0zM510.4 196.0h4.0v3.8h-4.0zM522.4 196.0h6.0v3.8h-6.0zM417.4 199.8h2.0v4.2h-2.0zM512.4 199.8h2.0v4.2h-2.0zM522.4 199.8h4.0v4.2h-4.0zM512.4 204.0h12.0v5.0h-12.0zM411.4 209.0h2.0v6.0h-2.0zM514.4 209.0h8.0v6.0h-8.0zM460.4 215.0h2.0v6.9h-2.0zM460.4 221.9h2.0v8.9h-2.0z"/><path fill="#eff5fc" d="M423.4 18.5h2.0v2.9h-2.0zM439.4 18.5h4.0v2.9h-4.0zM423.4 21.4h2.0v4.0h-2.0zM439.4 21.4h4.0v4.0h-4.0zM423.4 25.4h2.0v4.0h-2.0zM439.4 25.4h4.0v4.0h-4.0zM421.4 29.4h4.0v4.0h-4.0zM441.4 29.4h2.0v4.0h-2.0zM421.4 33.4h4.0v4.0h-4.0zM441.4 33.4h2.0v4.0h-2.0zM421.4 37.4h4.0v4.0h-4.0zM441.4 37.4h2.0v4.0h-2.0zM421.4 41.4h4.0v4.0h-4.0zM441.4 41.4h2.0v4.0h-2.0zM421.4 45.4h4.0v4.0h-4.0zM441.4 45.4h2.0v4.0h-2.0zM421.4 49.4h2.0v4.0h-2.0zM441.4 49.4h2.0v4.0h-2.0zM421.4 53.4h2.0v4.0h-2.0zM441.4 53.4h2.0v4.0h-2.0zM421.4 57.4h2.0v4.0h-2.0zM441.4 57.4h2.0v4.0h-2.0zM421.4 61.4h2.0v4.0h-2.0zM441.4 61.4h2.0v4.0h-2.0zM421.4 65.4h2.0v4.0h-2.0zM441.4 65.4h2.0v4.0h-2.0zM421.4 69.4h2.0v4.0h-2.0zM441.4 69.4h2.0v4.0h-2.0zM421.4 73.4h2.0v4.0h-2.0zM441.4 73.4h2.0v4.0h-2.0zM421.4 77.4h2.0v4.0h-2.0zM441.4 77.4h4.0v4.0h-4.0zM421.4 81.4h2.0v4.0h-2.0zM443.4 81.4h2.0v4.0h-2.0zM421.4 85.4h2.0v4.0h-2.0zM443.4 85.4h2.0v4.0h-2.0zM421.4 89.4h2.0v4.0h-2.0zM443.4 89.4h2.0v4.0h-2.0zM421.4 93.4h2.0v4.0h-2.0zM443.4 93.4h2.0v4.0h-2.0zM421.4 97.4h2.0v4.0h-2.0zM443.4 97.4h2.0v4.0h-2.0zM421.4 101.4h2.0v4.0h-2.0zM443.4 101.4h2.0v4.0h-2.0zM421.4 105.4h2.0v4.0h-2.0zM443.4 105.4h2.0v4.0h-2.0zM421.4 109.4h2.0v4.0h-2.0zM443.4 109.4h2.0v4.0h-2.0zM421.4 113.4h2.0v4.0h-2.0zM443.4 113.4h2.0v4.0h-2.0zM421.4 117.4h2.0v3.0h-2.0zM443.4 117.4h2.0v3.0h-2.0zM516.4 117.4h4.0v3.0h-4.0zM421.4 120.4h2.0v3.0h-2.0zM443.4 120.4h2.0v3.0h-2.0zM514.4 120.4h8.0v3.0h-8.0zM421.4 123.4h2.0v3.0h-2.0zM443.4 123.4h2.0v3.0h-2.0zM514.4 123.4h8.0v3.0h-8.0zM421.4 126.4h2.0v3.0h-2.0zM443.4 126.4h2.0v3.0h-2.0zM514.4 126.4h8.0v3.0h-8.0zM421.4 129.4h2.0v3.0h-2.0zM514.4 129.4h2.0v3.0h-2.0zM520.4 129.4h4.0v3.0h-4.0zM445.4 132.4h2.0v3.0h-2.0zM512.4 132.4h4.0v3.0h-4.0zM520.4 132.4h4.0v3.0h-4.0zM445.4 135.4h2.0v3.0h-2.0zM512.4 135.4h2.0v3.0h-2.0zM522.4 135.4h2.0v3.0h-2.0zM445.4 138.4h2.0v3.0h-2.0zM512.4 138.4h2.0v3.0h-2.0zM522.4 138.4h2.0v3.0h-2.0zM445.4 141.4h2.0v3.0h-2.0zM512.4 141.4h2.0v3.0h-2.0zM522.4 141.4h2.0v3.0h-2.0zM445.4 144.4h2.0v3.0h-2.0zM512.4 144.4h2.0v3.0h-2.0zM522.4 144.4h2.0v3.0h-2.0zM445.4 147.4h2.0v3.0h-2.0zM512.4 147.4h2.0v3.0h-2.0zM522.4 147.4h4.0v3.0h-4.0zM445.4 150.4h2.0v3.0h-2.0zM512.4 150.4h2.0v3.0h-2.0zM522.4 150.4h4.0v3.0h-4.0zM522.4 153.4h4.0v3.0h-4.0zM447.4 156.4h2.0v3.0h-2.0zM524.4 156.4h2.0v3.0h-2.0zM447.4 159.4h2.0v3.0h-2.0zM524.4 159.4h2.0v3.0h-2.0zM447.4 162.4h2.0v3.0h-2.0zM524.4 162.4h2.0v3.0h-2.0zM447.4 165.4h2.0v3.0h-2.0zM524.4 165.4h2.0v3.0h-2.0zM447.4 168.4h2.2v3.0h-2.2zM524.4 168.4h2.0v3.0h-2.0zM447.4 171.4h2.2v3.0h-2.2zM522.4 171.4h4.0v3.0h-4.0zM419.4 174.4h2.0v3.0h-2.0zM449.4 174.4h0.2v3.0h-0.2zM512.4 174.4h2.0v3.0h-2.0zM522.4 174.4h4.0v3.0h-4.0zM419.4 177.4h2.0v3.0h-2.0zM449.4 177.4h0.2v3.0h-0.2zM512.4 177.4h2.0v3.0h-2.0zM522.4 177.4h4.0v3.0h-4.0zM419.4 180.4h2.0v3.0h-2.0zM512.4 180.4h2.0v3.0h-2.0zM522.4 180.4h2.0v3.0h-2.0zM419.4 183.4h2.0v3.0h-2.0zM512.4 183.4h2.0v3.0h-2.0zM522.4 183.4h2.0v3.0h-2.0zM419.4 186.4h2.0v2.9h-2.0zM512.4 186.4h2.0v2.9h-2.0zM522.4 186.4h2.0v2.9h-2.0zM419.4 189.3h2.0v3.2h-2.0zM512.4 189.3h2.0v3.2h-2.0zM520.4 189.3h4.0v3.2h-4.0zM512.4 192.5h4.0v3.5h-4.0zM520.4 192.5h4.0v3.5h-4.0zM514.4 196.0h8.0v3.8h-8.0zM514.4 199.8h8.0v4.2h-8.0zM417.4 204.0h2.0v5.0h-2.0zM413.4 209.0h2.0v6.0h-2.0z"/><path fill="#e9f1fb" d="M425.4 18.5h2.0v2.9h-2.0zM437.4 18.5h2.0v2.9h-2.0zM425.4 21.4h2.0v4.0h-2.0zM437.4 21.4h2.0v4.0h-2.0zM425.4 25.4h2.0v4.0h-2.0zM437.4 25.4h2.0v4.0h-2.0zM425.4 29.4h2.0v4.0h-2.0zM437.4 29.4h4.0v4.0h-4.0zM425.4 33.4h2.0v4.0h-2.0zM437.4 33.4h4.0v4.0h-4.0zM425.4 37.4h2.0v4.0h-2.0zM437.4 37.4h4.0v4.0h-4.0zM425.4 41.4h2.0v4.0h-2.0zM437.4 41.4h4.0v4.0h-4.0zM425.4 45.4h2.0v4.0h-2.0zM439.4 45.4h2.0v4.0h-2.0zM423.4 49.4h4.0v4.0h-4.0zM439.4 49.4h2.0v4.0h-2.0zM423.4 53.4h4.0v4.0h-4.0zM439.4 53.4h2.0v4.0h-2.0zM423.4 57.4h4.0v4.0h-4.0zM439.4 57.4h2.0v4.0h-2.0zM423.4 61.4h4.0v4.0h-4.0zM439.4 61.4h2.0v4.0h-2.0zM423.4 65.4h2.0v4.0h-2.0zM439.4 65.4h2.0v4.0h-2.0zM423.4 69.4h2.0v4.0h-2.0zM439.4 69.4h2.0v4.0h-2.0zM423.4 73.4h2.0v4.0h-2.0zM439.4 73.4h2.0v4.0h-2.0zM423.4 77.4h2.0v4.0h-2.0zM439.4 77.4h2.0v4.0h-2.0zM423.4 81.4h2.0v4.0h-2.0zM439.4 81.4h4.0v4.0h-4.0zM423.4 85.4h2.0v4.0h-2.0zM441.4 85.4h2.0v4.0h-2.0zM423.4 89.4h2.0v4.0h-2.0zM441.4 89.4h2.0v4.0h-2.0zM423.4 93.4h2.0v4.0h-2.0zM441.4 93.4h2.0v4.0h-2.0zM423.4 97.4h2.0v4.0h-2.0zM441.4 97.4h2.0v4.0h-2.0zM423.4 101.4h2.0v4.0h-2.0zM441.4 101.4h2.0v4.0h-2.0zM423.4 105.4h2.0v4.0h-2.0zM441.4 105.4h2.0v4.0h-2.0zM423.4 109.4h2.0v4.0h-2.0zM441.4 109.4h2.0v4.0h-2.0zM423.4 113.4h2.0v4.0h-2.0zM441.4 113.4h2.0v4.0h-2.0zM423.4 117.4h2.0v3.0h-2.0zM441.4 117.4h2.0v3.0h-2.0zM443.4 129.4h2.0v3.0h-2.0zM516.4 129.4h4.0v3.0h-4.0zM421.4 132.4h2.0v3.0h-2.0zM443.4 132.4h2.0v3.0h-2.0zM516.4 132.4h4.0v3.0h-4.0zM421.4 135.4h2.0v3.0h-2.0zM443.4 135.4h2.0v3.0h-2.0zM514.4 135.4h8.0v3.0h-8.0zM421.4 138.4h2.0v3.0h-2.0zM443.4 138.4h2.0v3.0h-2.0zM514.4 138.4h8.0v3.0h-8.0zM421.4 141.4h2.0v3.0h-2.0zM443.4 141.4h2.0v3.0h-2.0zM514.4 141.4h8.0v3.0h-8.0zM421.4 144.4h2.0v3.0h-2.0zM443.4 144.4h2.0v3.0h-2.0zM514.4 144.4h2.0v3.0h-2.0zM520.4 144.4h2.0v3.0h-2.0zM421.4 147.4h2.0v3.0h-2.0zM443.4 147.4h2.0v3.0h-2.0zM514.4 147.4h2.0v3.0h-2.0zM520.4 147.4h2.0v3.0h-2.0zM421.4 150.4h2.0v3.0h-2.0zM514.4 150.4h2.0v3.0h-2.0zM520.4 150.4h2.0v3.0h-2.0zM421.4 153.4h2.0v3.0h-2.0zM445.4 153.4h2.0v3.0h-2.0zM512.4 153.4h2.0v3.0h-2.0zM520.4 153.4h2.0v3.0h-2.0zM421.4 156.4h2.0v3.0h-2.0zM445.4 156.4h2.0v3.0h-2.0zM512.4 156.4h2.0v3.0h-2.0zM520.4 156.4h4.0v3.0h-4.0zM421.4 159.4h2.0v3.0h-2.0zM445.4 159.4h2.0v3.0h-2.0zM512.4 159.4h2.0v3.0h-2.0zM522.4 159.4h2.0v3.0h-2.0zM421.4 162.4h2.0v3.0h-2.0zM445.4 162.4h2.0v3.0h-2.0zM512.4 162.4h2.0v3.0h-2.0zM522.4 162.4h2.0v3.0h-2.0zM421.4 165.4h2.0v3.0h-2.0zM445.4 165.4h2.0v3.0h-2.0zM512.4 165.4h2.0v3.0h-2.0zM520.4 165.4h4.0v3.0h-4.0zM421.4 168.4h2.0v3.0h-2.0zM512.4 168.4h2.0v3.0h-2.0zM520.4 168.4h4.0v3.0h-4.0zM421.4 171.4h2.0v3.0h-2.0zM512.4 171.4h2.0v3.0h-2.0zM520.4 171.4h2.0v3.0h-2.0zM421.4 174.4h2.0v3.0h-2.0zM447.4 174.4h2.0v3.0h-2.0zM514.4 174.4h2.0v3.0h-2.0zM520.4 174.4h2.0v3.0h-2.0zM421.4 177.4h2.0v3.0h-2.0zM447.4 177.4h2.0v3.0h-2.0zM514.4 177.4h2.0v3.0h-2.0zM520.4 177.4h2.0v3.0h-2.0zM421.4 180.4h2.0v3.0h-2.0zM447.4 180.4h2.2v3.0h-2.2zM514.4 180.4h2.0v3.0h-2.0zM520.4 180.4h2.0v3.0h-2.0zM449.4 183.4h0.2v3.0h-0.2zM514.4 183.4h8.0v3.0h-8.0zM449.4 186.4h0.2v2.9h-0.2zM514.4 186.4h8.0v2.9h-8.0zM514.4 189.3h6.0v3.2h-6.0zM419.4 192.5h2.0v3.5h-2.0zM516.4 192.5h4.0v3.5h-4.0zM419.4 196.0h2.0v3.8h-2.0zM415.4 209.0h2.0v6.0h-2.0z"/><path fill="#e3eefa" d="M427.4 18.5h10.0v2.9h-10.0zM427.4 21.4h10.0v4.0h-10.0zM427.4 25.4h10.0v4.0h-10.0zM427.4 29.4h10.0v4.0h-10.0zM427.4 33.4h10.0v4.0h-10.0zM427.4 37.4h10.0v4.0h-10.0zM427.4 41.4h10.0v4.0h-10.0zM427.4 45.4h12.0v4.0h-12.0zM427.4 49.4h4.0v4.0h-4.0zM433.4 49.4h6.0v4.0h-6.0zM427.4 53.4h4.0v4.0h-4.0zM435.4 53.4h4.0v4.0h-4.0zM427.4 57.4h2.0v4.0h-2.0zM435.4 57.4h4.0v4.0h-4.0zM427.4 61.4h2.0v4.0h-2.0zM435.4 61.4h4.0v4.0h-4.0zM425.4 65.4h4.0v4.0h-4.0zM435.4 65.4h4.0v4.0h-4.0zM425.4 69.4h4.0v4.0h-4.0zM437.4 69.4h2.0v4.0h-2.0zM425.4 73.4h4.0v4.0h-4.0zM437.4 73.4h2.0v4.0h-2.0zM425.4 77.4h4.0v4.0h-4.0zM437.4 77.4h2.0v4.0h-2.0zM425.4 81.4h2.0v4.0h-2.0zM437.4 81.4h2.0v4.0h-2.0zM425.4 85.4h2.0v4.0h-2.0zM437.4 85.4h4.0v4.0h-4.0zM425.4 89.4h2.0v4.0h-2.0zM439.4 89.4h2.0v4.0h-2.0zM425.4 93.4h2.0v4.0h-2.0zM439.4 93.4h2.0v4.0h-2.0zM425.4 97.4h2.0v4.0h-2.0zM439.4 97.4h2.0v4.0h-2.0zM425.4 101.4h2.0v4.0h-2.0zM439.4 101.4h2.0v4.0h-2.0zM425.4 105.4h2.0v4.0h-2.0zM439.4 105.4h2.0v4.0h-2.0zM425.4 109.4h2.0v4.0h-2.0zM439.4 109.4h2.0v4.0h-2.0zM439.4 113.4h2.0v4.0h-2.0zM423.4 120.4h2.0v3.0h-2.0zM441.4 120.4h2.0v3.0h-2.0zM423.4 123.4h2.0v3.0h-2.0zM441.4 123.4h2.0v3.0h-2.0zM423.4 126.4h2.0v3.0h-2.0zM441.4 126.4h2.0v3.0h-2.0zM423.4 129.4h2.0v3.0h-2.0zM441.4 129.4h2.0v3.0h-2.0zM423.4 132.4h2.0v3.0h-2.0zM441.4 132.4h2.0v3.0h-2.0zM423.4 135.4h2.0v3.0h-2.0zM441.4 135.4h2.0v3.0h-2.0zM423.4 138.4h2.0v3.0h-2.0zM441.4 138.4h2.0v3.0h-2.0zM423.4 141.4h2.0v3.0h-2.0zM441.4 141.4h2.0v3.0h-2.0zM423.4 144.4h2.0v3.0h-2.0zM516.4 144.4h4.0v3.0h-4.0zM423.4 147.4h2.0v3.0h-2.0zM516.4 147.4h4.0v3.0h-4.0zM423.4 150.4h2.0v3.0h-2.0zM443.4 150.4h2.0v3.0h-2.0zM516.4 150.4h4.0v3.0h-4.0zM423.4 153.4h2.0v3.0h-2.0zM443.4 153.4h2.0v3.0h-2.0zM514.4 153.4h6.0v3.0h-6.0zM423.4 156.4h2.0v3.0h-2.0zM443.4 156.4h2.0v3.0h-2.0zM514.4 156.4h6.0v3.0h-6.0zM423.4 159.4h2.0v3.0h-2.0zM443.4 159.4h2.0v3.0h-2.0zM514.4 159.4h8.0v3.0h-8.0zM423.4 162.4h2.0v3.0h-2.0zM514.4 162.4h8.0v3.0h-8.0zM514.4 165.4h6.0v3.0h-6.0zM445.4 168.4h2.0v3.0h-2.0zM514.4 168.4h6.0v3.0h-6.0zM445.4 171.4h2.0v3.0h-2.0zM514.4 171.4h6.0v3.0h-6.0zM445.4 174.4h2.0v3.0h-2.0zM516.4 174.4h4.0v3.0h-4.0zM516.4 177.4h4.0v3.0h-4.0zM516.4 180.4h4.0v3.0h-4.0zM421.4 183.4h2.0v3.0h-2.0zM447.4 183.4h2.0v3.0h-2.0zM421.4 186.4h2.0v2.9h-2.0zM447.4 186.4h2.0v2.9h-2.0zM421.4 189.3h2.0v3.2h-2.0zM449.4 189.3h0.2v3.2h-0.2zM419.4 199.8h2.0v4.2h-2.0z"/><path fill="#fafcfe" d="M445.4 18.5h4.2v2.9h-4.2zM512.4 18.5h18.0v2.9h-18.0zM555.6 18.5h114.9v2.9h-114.9zM445.4 21.4h4.2v4.0h-4.2zM512.4 21.4h18.0v4.0h-18.0zM555.6 21.4h114.9v4.0h-114.9zM445.4 25.4h4.2v4.0h-4.2zM512.4 25.4h18.0v4.0h-18.0zM555.6 25.4h114.9v4.0h-114.9zM445.4 29.4h4.2v4.0h-4.2zM512.4 29.4h18.0v4.0h-18.0zM557.6 29.4h112.9v4.0h-112.9zM445.4 33.4h4.2v4.0h-4.2zM512.4 33.4h18.0v4.0h-18.0zM561.6 33.4h108.9v4.0h-108.9zM445.4 37.4h4.2v4.0h-4.2zM510.4 37.4h20.0v4.0h-20.0zM565.6 37.4h104.9v4.0h-104.9zM445.4 41.4h4.2v4.0h-4.2zM510.4 41.4h20.0v4.0h-20.0zM569.6 41.4h100.9v4.0h-100.9zM445.4 45.4h4.2v4.0h-4.2zM510.4 45.4h20.0v4.0h-20.0zM573.6 45.4h96.9v4.0h-96.9zM445.4 49.4h4.2v4.0h-4.2zM510.4 49.4h20.0v4.0h-20.0zM577.6 49.4h92.9v4.0h-92.9zM447.4 53.4h2.2v4.0h-2.2zM510.4 53.4h20.0v4.0h-20.0zM581.6 53.4h88.9v4.0h-88.9zM447.4 57.4h2.2v4.0h-2.2zM510.4 57.4h20.0v4.0h-20.0zM585.6 57.4h84.9v4.0h-84.9zM447.4 61.4h2.2v4.0h-2.2zM510.4 61.4h20.0v4.0h-20.0zM589.6 61.4h80.9v4.0h-80.9zM417.4 65.4h2.0v4.0h-2.0zM447.4 65.4h2.2v4.0h-2.2zM510.4 65.4h20.0v4.0h-20.0zM593.6 65.4h76.9v4.0h-76.9zM417.4 69.4h2.0v4.0h-2.0zM447.4 69.4h2.2v4.0h-2.2zM510.4 69.4h20.0v4.0h-20.0zM597.6 69.4h72.9v4.0h-72.9zM417.4 73.4h2.0v4.0h-2.0zM447.4 73.4h2.2v4.0h-2.2zM510.4 73.4h20.0v4.0h-20.0zM601.6 73.4h68.9v4.0h-68.9zM417.4 77.4h2.0v4.0h-2.0zM447.4 77.4h2.2v4.0h-2.2zM510.4 77.4h20.0v4.0h-20.0zM605.6 77.4h64.9v4.0h-64.9zM417.4 81.4h2.0v4.0h-2.0zM447.4 81.4h2.2v4.0h-2.2zM510.4 81.4h20.0v4.0h-20.0zM609.6 81.4h60.9v4.0h-60.9zM417.4 85.4h2.0v4.0h-2.0zM447.4 85.4h2.2v4.0h-2.2zM510.4 85.4h20.0v4.0h-20.0zM613.6 85.4h56.9v4.0h-56.9zM417.4 89.4h2.0v4.0h-2.0zM447.4 89.4h2.2v4.0h-2.2zM510.4 89.4h20.0v4.0h-20.0zM617.6 89.4h52.9v4.0h-52.9zM417.4 93.4h2.0v4.0h-2.0zM447.4 93.4h2.2v4.0h-2.2zM510.4 93.4h20.0v4.0h-20.0zM621.6 93.4h48.9v4.0h-48.9zM417.4 97.4h2.0v4.0h-2.0zM447.4 97.4h2.2v4.0h-2.2zM510.4 97.4h6.0v4.0h-6.0zM522.4 97.4h8.0v4.0h-8.0zM627.6 97.4h42.9v4.0h-42.9zM417.4 101.4h2.0v4.0h-2.0zM447.4 101.4h2.2v4.0h-2.2zM510.4 101.4h4.0v4.0h-4.0zM524.4 101.4h6.0v4.0h-6.0zM635.6 101.4h34.9v4.0h-34.9zM417.4 105.4h2.0v4.0h-2.0zM447.4 105.4h2.2v4.0h-2.2zM510.4 105.4h4.0v4.0h-4.0zM526.4 105.4h4.0v4.0h-4.0zM641.6 105.4h28.9v4.0h-28.9zM417.4 109.4h2.0v4.0h-2.0zM447.4 109.4h2.2v4.0h-2.2zM510.4 109.4h2.0v4.0h-2.0zM526.4 109.4h4.0v4.0h-4.0zM647.6 109.4h22.9v4.0h-22.9zM417.4 113.4h2.0v4.0h-2.0zM447.4 113.4h2.2v4.0h-2.2zM508.4 113.4h4.0v4.0h-4.0zM526.4 113.4h4.0v4.0h-4.0zM655.6 113.4h14.9v4.0h-14.9zM417.4 117.4h2.0v3.0h-2.0zM447.4 117.4h2.2v3.0h-2.2zM508.4 117.4h4.0v3.0h-4.0zM528.4 117.4h2.0v3.0h-2.0zM661.6 117.4h8.9v3.0h-8.9zM417.4 120.4h2.0v3.0h-2.0zM447.4 120.4h2.2v3.0h-2.2zM508.4 120.4h4.0v3.0h-4.0zM528.4 120.4h2.0v3.0h-2.0zM665.6 120.4h4.9v3.0h-4.9zM417.4 123.4h2.0v3.0h-2.0zM449.4 123.4h0.2v3.0h-0.2zM508.4 123.4h4.0v3.0h-4.0zM528.4 123.4h2.0v3.0h-2.0zM417.4 126.4h2.0v3.0h-2.0zM449.4 126.4h0.2v3.0h-0.2zM508.4 126.4h2.0v3.0h-2.0zM528.4 126.4h2.0v3.0h-2.0zM417.4 129.4h2.0v3.0h-2.0zM449.4 129.4h0.2v3.0h-0.2zM508.4 129.4h2.0v3.0h-2.0zM528.4 129.4h2.0v3.0h-2.0zM417.4 132.4h2.0v3.0h-2.0zM449.4 132.4h0.2v3.0h-0.2zM508.4 132.4h2.0v3.0h-2.0zM528.4 132.4h2.0v3.0h-2.0zM417.4 135.4h2.0v3.0h-2.0zM449.4 135.4h0.2v3.0h-0.2zM508.4 135.4h2.0v3.0h-2.0zM417.4 138.4h2.0v3.0h-2.0zM449.4 138.4h0.2v3.0h-0.2zM508.4 138.4h2.0v3.0h-2.0zM417.4 141.4h2.0v3.0h-2.0zM449.4 141.4h0.2v3.0h-0.2zM508.4 141.4h2.0v3.0h-2.0zM417.4 144.4h2.0v3.0h-2.0zM449.4 144.4h0.2v3.0h-0.2zM508.4 144.4h2.0v3.0h-2.0zM417.4 147.4h2.0v3.0h-2.0zM508.4 147.4h2.0v3.0h-2.0zM417.4 150.4h2.0v3.0h-2.0zM508.4 150.4h2.0v3.0h-2.0zM417.4 153.4h2.0v3.0h-2.0zM508.4 153.4h2.0v3.0h-2.0zM417.4 156.4h2.0v3.0h-2.0zM508.4 156.4h2.0v3.0h-2.0zM417.4 159.4h2.0v3.0h-2.0zM508.4 159.4h2.0v3.0h-2.0zM417.4 162.4h2.0v3.0h-2.0zM508.4 162.4h2.0v3.0h-2.0zM417.4 165.4h2.0v3.0h-2.0zM508.4 165.4h2.0v3.0h-2.0zM417.4 168.4h2.0v3.0h-2.0zM508.4 168.4h2.0v3.0h-2.0zM417.4 171.4h2.0v3.0h-2.0zM508.4 171.4h2.0v3.0h-2.0zM417.4 174.4h2.0v3.0h-2.0zM508.4 174.4h2.0v3.0h-2.0zM417.4 177.4h2.0v3.0h-2.0zM508.4 177.4h2.0v3.0h-2.0zM417.4 180.4h2.0v3.0h-2.0zM508.4 180.4h2.0v3.0h-2.0zM417.4 183.4h2.0v3.0h-2.0zM508.4 183.4h2.0v3.0h-2.0zM417.4 186.4h2.0v2.9h-2.0zM508.4 186.4h2.0v2.9h-2.0zM508.4 189.3h2.0v3.2h-2.0zM508.4 192.5h2.0v3.5h-2.0zM528.4 192.5h2.0v3.5h-2.0zM508.4 196.0h2.0v3.8h-2.0zM528.4 196.0h2.0v3.8h-2.0zM508.4 199.8h4.0v4.2h-4.0zM526.4 199.8h4.0v4.2h-4.0zM415.4 204.0h2.0v5.0h-2.0zM510.4 204.0h2.0v5.0h-2.0zM524.4 204.0h6.0v5.0h-6.0zM409.4 209.0h2.0v6.0h-2.0zM510.4 209.0h4.0v6.0h-4.0zM522.4 209.0h8.0v6.0h-8.0zM512.4 215.0h14.0v6.9h-14.0zM516.4 221.9h6.0v8.9h-6.0z"/><path fill="#feeee2" d="M458.4 18.5h6.0v2.9h-6.0zM486.4 18.5h6.0v2.9h-6.0zM534.4 18.5h1.4v2.9h-1.4zM458.4 21.4h6.0v4.0h-6.0zM486.4 21.4h8.0v4.0h-8.0zM534.4 21.4h1.4v4.0h-1.4zM456.4 25.4h8.0v4.0h-8.0zM488.4 25.4h6.0v4.0h-6.0zM534.4 25.4h1.4v4.0h-1.4zM456.4 29.4h6.0v4.0h-6.0zM488.4 29.4h6.0v4.0h-6.0zM534.4 29.4h1.4v4.0h-1.4zM456.4 33.4h6.0v4.0h-6.0zM488.4 33.4h6.0v4.0h-6.0zM534.4 33.4h1.4v4.0h-1.4zM456.4 37.4h6.0v4.0h-6.0zM490.4 37.4h4.0v4.0h-4.0zM534.4 37.4h1.4v4.0h-1.4zM456.4 41.4h6.0v4.0h-6.0zM490.4 41.4h4.0v4.0h-4.0zM534.4 41.4h1.4v4.0h-1.4zM456.4 45.4h4.0v4.0h-4.0zM490.4 45.4h6.0v4.0h-6.0zM534.4 45.4h1.4v4.0h-1.4zM456.4 49.4h4.0v4.0h-4.0zM490.4 49.4h6.0v4.0h-6.0zM534.4 49.4h1.4v4.0h-1.4zM456.4 53.4h4.0v4.0h-4.0zM490.4 53.4h6.0v4.0h-6.0zM534.4 53.4h1.4v4.0h-1.4zM456.4 57.4h4.0v4.0h-4.0zM492.4 57.4h4.0v4.0h-4.0zM534.4 57.4h1.4v4.0h-1.4zM454.4 61.4h4.0v4.0h-4.0zM492.4 61.4h4.0v4.0h-4.0zM534.4 61.4h1.4v4.0h-1.4zM454.4 65.4h4.0v4.0h-4.0zM494.4 65.4h4.0v4.0h-4.0zM534.4 65.4h1.4v4.0h-1.4zM454.4 69.4h4.0v4.0h-4.0zM494.4 69.4h4.0v4.0h-4.0zM534.4 69.4h1.4v4.0h-1.4zM454.4 73.4h2.0v4.0h-2.0zM496.4 73.4h2.0v4.0h-2.0zM534.4 73.4h1.4v4.0h-1.4zM454.4 77.4h2.0v4.0h-2.0zM496.4 77.4h4.0v4.0h-4.0zM534.4 77.4h1.4v4.0h-1.4zM454.4 81.4h2.0v4.0h-2.0zM496.4 81.4h4.0v4.0h-4.0zM534.4 81.4h1.4v4.0h-1.4zM498.4 85.4h2.0v4.0h-2.0zM534.4 85.4h1.4v4.0h-1.4zM498.4 89.4h2.0v4.0h-2.0zM534.4 89.4h1.4v4.0h-1.4zM498.4 93.4h2.0v4.0h-2.0zM534.4 93.4h1.4v4.0h-1.4zM498.4 97.4h2.0v4.0h-2.0zM534.4 97.4h1.4v4.0h-1.4zM498.4 101.4h4.0v4.0h-4.0zM534.4 101.4h1.4v4.0h-1.4zM500.4 105.4h2.0v4.0h-2.0zM534.4 105.4h1.4v4.0h-1.4zM500.4 109.4h2.0v4.0h-2.0zM534.4 109.4h1.4v4.0h-1.4zM500.4 113.4h2.0v4.0h-2.0zM534.4 113.4h1.4v4.0h-1.4zM500.4 117.4h2.0v3.0h-2.0zM534.4 117.4h1.4v3.0h-1.4zM500.4 120.4h2.0v3.0h-2.0zM534.4 120.4h1.4v3.0h-1.4zM500.4 123.4h2.0v3.0h-2.0zM534.4 123.4h1.4v3.0h-1.4zM500.4 126.4h2.0v3.0h-2.0zM534.4 126.4h1.4v3.0h-1.4zM500.4 129.4h2.0v3.0h-2.0zM534.4 129.4h1.4v3.0h-1.4zM500.4 132.4h2.0v3.0h-2.0zM534.4 132.4h1.4v3.0h-1.4zM500.4 135.4h2.0v3.0h-2.0zM534.4 135.4h1.4v3.0h-1.4zM534.4 138.4h1.4v3.0h-1.4zM534.4 141.4h1.4v3.0h-1.4zM551.6 141.4h4.0v3.0h-4.0zM534.4 144.4h1.4v3.0h-1.4zM549.6 144.4h6.0v3.0h-6.0zM557.6 144.4h10.0v3.0h-10.0zM534.4 147.4h1.4v3.0h-1.4zM547.6 147.4h26.0v3.0h-26.0zM534.4 150.4h1.4v3.0h-1.4zM545.6 150.4h34.0v3.0h-34.0zM534.4 153.4h1.4v3.0h-1.4zM543.6 153.4h44.0v3.0h-44.0zM502.4 156.4h2.0v3.0h-2.0zM534.4 156.4h1.4v3.0h-1.4zM543.6 156.4h48.0v3.0h-48.0zM502.4 159.4h2.0v3.0h-2.0zM534.4 159.4h1.4v3.0h-1.4zM543.6 159.4h52.0v3.0h-52.0zM502.4 162.4h2.0v3.0h-2.0zM534.4 162.4h1.4v3.0h-1.4zM543.6 162.4h14.0v3.0h-14.0zM567.6 162.4h32.0v3.0h-32.0zM502.4 165.4h2.0v3.0h-2.0zM534.4 165.4h1.4v3.0h-1.4zM543.6 165.4h14.0v3.0h-14.0zM579.6 165.4h26.0v3.0h-26.0zM502.4 168.4h2.0v3.0h-2.0zM534.4 168.4h1.4v3.0h-1.4zM543.6 168.4h12.0v3.0h-12.0zM591.6 168.4h22.0v3.0h-22.0zM502.4 171.4h2.0v3.0h-2.0zM534.4 171.4h1.4v3.0h-1.4zM543.6 171.4h12.0v3.0h-12.0zM599.6 171.4h18.0v3.0h-18.0zM502.4 174.4h2.0v3.0h-2.0zM534.4 174.4h1.4v3.0h-1.4zM543.6 174.4h10.0v3.0h-10.0zM605.6 174.4h18.0v3.0h-18.0zM502.4 177.4h2.0v3.0h-2.0zM534.4 177.4h1.4v3.0h-1.4zM543.6 177.4h8.0v3.0h-8.0zM609.6 177.4h18.0v3.0h-18.0zM502.4 180.4h2.0v3.0h-2.0zM534.4 180.4h1.4v3.0h-1.4zM543.6 180.4h6.0v3.0h-6.0zM615.6 180.4h18.0v3.0h-18.0zM502.4 183.4h2.0v3.0h-2.0zM534.4 183.4h1.4v3.0h-1.4zM543.6 183.4h4.0v3.0h-4.0zM621.6 183.4h22.0v3.0h-22.0zM502.4 186.4h2.0v2.9h-2.0zM534.4 186.4h1.4v2.9h-1.4zM543.6 186.4h2.0v2.9h-2.0zM627.6 186.4h24.0v2.9h-24.0zM502.4 189.3h2.0v3.2h-2.0zM534.4 189.3h1.4v3.2h-1.4zM633.6 189.3h26.0v3.2h-26.0zM502.4 192.5h2.0v3.5h-2.0zM534.4 192.5h1.4v3.5h-1.4zM643.6 192.5h26.0v3.5h-26.0zM534.4 196.0h1.4v3.8h-1.4zM655.6 196.0h14.9v3.8h-14.9zM534.4 199.8h1.4v4.2h-1.4zM667.6 199.8h2.9v4.2h-2.9zM454.4 204.0h2.0v5.0h-2.0zM534.4 204.0h1.4v5.0h-1.4zM456.4 209.0h2.0v6.0h-2.0zM500.4 209.0h2.0v6.0h-2.0zM534.4 209.0h1.4v6.0h-1.4zM462.4 215.0h2.0v6.9h-2.0zM502.4 215.0h2.0v6.9h-2.0zM462.4 221.9h2.0v8.9h-2.0zM504.4 221.9h2.0v8.9h-2.0z"/><path fill="#fdeada" d="M464.4 18.5h22.0v2.9h-22.0zM535.8 18.5h2.0v2.9h-2.0zM464.4 21.4h22.0v4.0h-22.0zM535.8 21.4h2.0v4.0h-2.0zM464.4 25.4h24.0v4.0h-24.0zM535.8 25.4h2.0v4.0h-2.0zM462.4 29.4h26.0v4.0h-26.0zM535.8 29.4h2.0v4.0h-2.0zM462.4 33.4h12.0v4.0h-12.0zM478.4 33.4h10.0v4.0h-10.0zM535.8 33.4h2.0v4.0h-2.0zM462.4 37.4h8.0v4.0h-8.0zM480.4 37.4h10.0v4.0h-10.0zM535.8 37.4h2.0v4.0h-2.0zM462.4 41.4h6.0v4.0h-6.0zM482.4 41.4h8.0v4.0h-8.0zM535.8 41.4h2.0v4.0h-2.0zM460.4 45.4h8.0v4.0h-8.0zM484.4 45.4h6.0v4.0h-6.0zM535.8 45.4h2.0v4.0h-2.0zM460.4 49.4h6.0v4.0h-6.0zM484.4 49.4h6.0v4.0h-6.0zM535.8 49.4h2.0v4.0h-2.0zM460.4 53.4h6.0v4.0h-6.0zM486.4 53.4h4.0v4.0h-4.0zM535.8 53.4h2.0v4.0h-2.0zM460.4 57.4h6.0v4.0h-6.0zM486.4 57.4h6.0v4.0h-6.0zM535.8 57.4h2.0v4.0h-2.0zM458.4 61.4h6.0v4.0h-6.0zM488.4 61.4h4.0v4.0h-4.0zM535.8 61.4h2.0v4.0h-2.0zM458.4 65.4h4.0v4.0h-4.0zM490.4 65.4h4.0v4.0h-4.0zM535.8 65.4h2.0v4.0h-2.0zM458.4 69.4h4.0v4.0h-4.0zM490.4 69.4h4.0v4.0h-4.0zM535.8 69.4h2.0v4.0h-2.0zM456.4 73.4h4.0v4.0h-4.0zM492.4 73.4h4.0v4.0h-4.0zM535.8 73.4h2.0v4.0h-2.0zM456.4 77.4h4.0v4.0h-4.0zM492.4 77.4h4.0v4.0h-4.0zM535.8 77.4h2.0v4.0h-2.0zM456.4 81.4h2.0v4.0h-2.0zM494.4 81.4h2.0v4.0h-2.0zM535.8 81.4h2.0v4.0h-2.0zM454.4 85.4h4.0v4.0h-4.0zM494.4 85.4h4.0v4.0h-4.0zM535.8 85.4h2.0v4.0h-2.0zM454.4 89.4h4.0v4.0h-4.0zM494.4 89.4h4.0v4.0h-4.0zM535.8 89.4h2.0v4.0h-2.0zM454.4 93.4h4.0v4.0h-4.0zM496.4 93.4h2.0v4.0h-2.0zM535.8 93.4h2.0v4.0h-2.0zM454.4 97.4h2.0v4.0h-2.0zM496.4 97.4h2.0v4.0h-2.0zM535.8 97.4h2.0v4.0h-2.0zM454.4 101.4h2.0v4.0h-2.0zM496.4 101.4h2.0v4.0h-2.0zM535.8 101.4h2.0v4.0h-2.0zM454.4 105.4h2.0v4.0h-2.0zM498.4 105.4h2.0v4.0h-2.0zM535.8 105.4h2.0v4.0h-2.0zM498.4 109.4h2.0v4.0h-2.0zM535.8 109.4h2.0v4.0h-2.0zM498.4 113.4h2.0v4.0h-2.0zM535.8 113.4h2.0v4.0h-2.0zM498.4 117.4h2.0v3.0h-2.0zM535.8 117.4h2.0v3.0h-2.0zM498.4 120.4h2.0v3.0h-2.0zM535.8 120.4h2.0v3.0h-2.0zM535.8 123.4h2.0v3.0h-2.0zM535.8 126.4h2.0v3.0h-2.0zM535.8 129.4h2.0v3.0h-2.0zM535.8 132.4h2.0v3.0h-2.0zM535.8 135.4h2.0v3.0h-2.0zM500.4 138.4h2.0v3.0h-2.0zM535.8 138.4h2.0v3.0h-2.0zM500.4 141.4h2.0v3.0h-2.0zM535.8 141.4h2.0v3.0h-2.0zM500.4 144.4h2.0v3.0h-2.0zM535.8 144.4h2.0v3.0h-2.0zM500.4 147.4h2.0v3.0h-2.0zM535.8 147.4h2.0v3.0h-2.0zM500.4 150.4h2.0v3.0h-2.0zM535.8 150.4h2.0v3.0h-2.0zM500.4 153.4h2.0v3.0h-2.0zM535.8 153.4h2.0v3.0h-2.0zM500.4 156.4h2.0v3.0h-2.0zM535.8 156.4h2.0v3.0h-2.0zM500.4 159.4h2.0v3.0h-2.0zM535.8 159.4h2.0v3.0h-2.0zM500.4 162.4h2.0v3.0h-2.0zM535.8 162.4h2.0v3.0h-2.0zM557.6 162.4h10.0v3.0h-10.0zM500.4 165.4h2.0v3.0h-2.0zM535.8 165.4h2.0v3.0h-2.0zM557.6 165.4h22.0v3.0h-22.0zM500.4 168.4h2.0v3.0h-2.0zM535.8 168.4h2.0v3.0h-2.0zM555.6 168.4h36.0v3.0h-36.0zM500.4 171.4h2.0v3.0h-2.0zM535.8 171.4h2.0v3.0h-2.0zM555.6 171.4h6.0v3.0h-6.0zM567.6 171.4h32.0v3.0h-32.0zM500.4 174.4h2.0v3.0h-2.0zM535.8 174.4h2.0v3.0h-2.0zM553.6 174.4h4.0v3.0h-4.0zM581.6 174.4h24.0v3.0h-24.0zM500.4 177.4h2.0v3.0h-2.0zM535.8 177.4h2.0v3.0h-2.0zM551.6 177.4h6.0v3.0h-6.0zM593.6 177.4h16.0v3.0h-16.0zM535.8 180.4h2.0v3.0h-2.0zM549.6 180.4h8.0v3.0h-8.0zM599.6 180.4h16.0v3.0h-16.0zM535.8 183.4h2.0v3.0h-2.0zM547.6 183.4h8.0v3.0h-8.0zM607.6 183.4h14.0v3.0h-14.0zM500.4 186.4h2.0v2.9h-2.0zM535.8 186.4h2.0v2.9h-2.0zM545.6 186.4h10.0v2.9h-10.0zM613.6 186.4h14.0v2.9h-14.0zM500.4 189.3h2.0v3.2h-2.0zM535.8 189.3h2.0v3.2h-2.0zM543.6 189.3h12.0v3.2h-12.0zM619.6 189.3h14.0v3.2h-14.0zM454.4 192.5h2.0v3.5h-2.0zM500.4 192.5h2.0v3.5h-2.0zM535.8 192.5h2.0v3.5h-2.0zM543.6 192.5h12.0v3.5h-12.0zM623.6 192.5h20.0v3.5h-20.0zM454.4 196.0h2.0v3.8h-2.0zM500.4 196.0h2.0v3.8h-2.0zM535.8 196.0h2.0v3.8h-2.0zM543.6 196.0h10.0v3.8h-10.0zM629.6 196.0h26.0v3.8h-26.0zM454.4 199.8h2.0v4.2h-2.0zM500.4 199.8h2.0v4.2h-2.0zM535.8 199.8h2.0v4.2h-2.0zM543.6 199.8h8.0v4.2h-8.0zM643.6 199.8h24.0v4.2h-24.0zM500.4 204.0h2.0v5.0h-2.0zM535.8 204.0h2.0v5.0h-2.0zM543.6 204.0h4.0v5.0h-4.0zM665.6 204.0h4.9v5.0h-4.9zM535.8 209.0h2.0v6.0h-2.0zM543.6 209.0h2.0v6.0h-2.0zM500.4 215.0h2.0v6.9h-2.0zM534.4 215.0h3.4v6.9h-3.4zM502.4 221.9h2.0v8.9h-2.0zM534.4 221.9h3.4v8.9h-3.4z"/><path fill="#fde5d3" d="M474.4 33.4h4.0v4.0h-4.0zM470.4 37.4h10.0v4.0h-10.0zM468.4 41.4h14.0v4.0h-14.0zM468.4 45.4h16.0v4.0h-16.0zM466.4 49.4h18.0v4.0h-18.0zM466.4 53.4h20.0v4.0h-20.0zM466.4 57.4h20.0v4.0h-20.0zM464.4 61.4h8.0v4.0h-8.0zM480.4 61.4h8.0v4.0h-8.0zM462.4 65.4h6.0v4.0h-6.0zM484.4 65.4h6.0v4.0h-6.0zM462.4 69.4h4.0v4.0h-4.0zM486.4 69.4h4.0v4.0h-4.0zM460.4 73.4h4.0v4.0h-4.0zM488.4 73.4h4.0v4.0h-4.0zM460.4 77.4h4.0v4.0h-4.0zM488.4 77.4h4.0v4.0h-4.0zM458.4 81.4h4.0v4.0h-4.0zM490.4 81.4h4.0v4.0h-4.0zM458.4 85.4h4.0v4.0h-4.0zM490.4 85.4h4.0v4.0h-4.0zM458.4 89.4h2.0v4.0h-2.0zM492.4 89.4h2.0v4.0h-2.0zM458.4 93.4h2.0v4.0h-2.0zM492.4 93.4h4.0v4.0h-4.0zM456.4 97.4h4.0v4.0h-4.0zM492.4 97.4h4.0v4.0h-4.0zM456.4 101.4h2.0v4.0h-2.0zM494.4 101.4h2.0v4.0h-2.0zM456.4 105.4h2.0v4.0h-2.0zM494.4 105.4h4.0v4.0h-4.0zM454.4 109.4h2.0v4.0h-2.0zM496.4 109.4h2.0v4.0h-2.0zM454.4 113.4h2.0v4.0h-2.0zM496.4 113.4h2.0v4.0h-2.0zM454.4 117.4h2.0v3.0h-2.0zM496.4 117.4h2.0v3.0h-2.0zM454.4 120.4h2.0v3.0h-2.0zM454.4 123.4h2.0v3.0h-2.0zM498.4 123.4h2.0v3.0h-2.0zM454.4 126.4h2.0v3.0h-2.0zM498.4 126.4h2.0v3.0h-2.0zM454.4 129.4h2.0v3.0h-2.0zM498.4 129.4h2.0v3.0h-2.0zM454.4 132.4h2.0v3.0h-2.0zM498.4 132.4h2.0v3.0h-2.0zM454.4 135.4h2.0v3.0h-2.0zM498.4 135.4h2.0v3.0h-2.0zM454.4 138.4h2.0v3.0h-2.0zM498.4 138.4h2.0v3.0h-2.0zM454.4 141.4h2.0v3.0h-2.0zM498.4 141.4h2.0v3.0h-2.0zM498.4 144.4h2.0v3.0h-2.0zM498.4 147.4h2.0v3.0h-2.0zM498.4 150.4h2.0v3.0h-2.0zM561.6 171.4h6.0v3.0h-6.0zM557.6 174.4h24.0v3.0h-24.0zM454.4 177.4h2.0v3.0h-2.0zM557.6 177.4h36.0v3.0h-36.0zM454.4 180.4h2.0v3.0h-2.0zM500.4 180.4h2.0v3.0h-2.0zM557.6 180.4h2.0v3.0h-2.0zM573.6 180.4h26.0v3.0h-26.0zM454.4 183.4h2.0v3.0h-2.0zM500.4 183.4h2.0v3.0h-2.0zM555.6 183.4h2.0v3.0h-2.0zM591.6 183.4h16.0v3.0h-16.0zM454.4 186.4h2.0v2.9h-2.0zM555.6 186.4h2.0v2.9h-2.0zM599.6 186.4h14.0v2.9h-14.0zM454.4 189.3h2.0v3.2h-2.0zM555.6 189.3h2.0v3.2h-2.0zM605.6 189.3h14.0v3.2h-14.0zM613.6 192.5h10.0v3.5h-10.0zM553.6 196.0h2.0v3.8h-2.0zM619.6 196.0h10.0v3.8h-10.0zM456.4 199.8h2.0v4.2h-2.0zM551.6 199.8h4.0v4.2h-4.0zM625.6 199.8h18.0v4.2h-18.0zM456.4 204.0h2.0v5.0h-2.0zM498.4 204.0h2.0v5.0h-2.0zM547.6 204.0h8.0v5.0h-8.0zM643.6 204.0h22.0v5.0h-22.0zM458.4 209.0h2.0v6.0h-2.0zM498.4 209.0h2.0v6.0h-2.0zM545.6 209.0h6.0v6.0h-6.0zM669.6 209.0h0.9v6.0h-0.9zM543.6 215.0h6.0v6.9h-6.0zM500.4 221.9h2.0v8.9h-2.0zM543.6 221.9h2.0v8.9h-2.0z"/><path fill="#dceafa" d="M431.4 49.4h2.0v4.0h-2.0zM431.4 53.4h4.0v4.0h-4.0zM429.4 57.4h6.0v4.0h-6.0zM429.4 61.4h6.0v4.0h-6.0zM429.4 65.4h6.0v4.0h-6.0zM429.4 69.4h8.0v4.0h-8.0zM429.4 73.4h8.0v4.0h-8.0zM429.4 77.4h8.0v4.0h-8.0zM427.4 81.4h10.0v4.0h-10.0zM427.4 85.4h10.0v4.0h-10.0zM427.4 89.4h4.0v4.0h-4.0zM433.4 89.4h6.0v4.0h-6.0zM427.4 93.4h4.0v4.0h-4.0zM435.4 93.4h4.0v4.0h-4.0zM427.4 97.4h4.0v4.0h-4.0zM435.4 97.4h4.0v4.0h-4.0zM427.4 101.4h2.0v4.0h-2.0zM437.4 101.4h2.0v4.0h-2.0zM427.4 105.4h2.0v4.0h-2.0zM437.4 105.4h2.0v4.0h-2.0zM427.4 109.4h2.0v4.0h-2.0zM437.4 109.4h2.0v4.0h-2.0zM425.4 113.4h4.0v4.0h-4.0zM437.4 113.4h2.0v4.0h-2.0zM425.4 117.4h2.0v3.0h-2.0zM439.4 117.4h2.0v3.0h-2.0zM425.4 120.4h2.0v3.0h-2.0zM439.4 120.4h2.0v3.0h-2.0zM425.4 123.4h2.0v3.0h-2.0zM439.4 123.4h2.0v3.0h-2.0zM425.4 126.4h2.0v3.0h-2.0zM439.4 126.4h2.0v3.0h-2.0zM425.4 129.4h2.0v3.0h-2.0zM439.4 129.4h2.0v3.0h-2.0zM425.4 132.4h2.0v3.0h-2.0zM439.4 132.4h2.0v3.0h-2.0zM425.4 135.4h2.0v3.0h-2.0zM439.4 135.4h2.0v3.0h-2.0zM425.4 138.4h2.0v3.0h-2.0zM439.4 138.4h2.0v3.0h-2.0zM425.4 141.4h2.0v3.0h-2.0zM425.4 144.4h2.0v3.0h-2.0zM441.4 144.4h2.0v3.0h-2.0zM441.4 147.4h2.0v3.0h-2.0zM441.4 150.4h2.0v3.0h-2.0zM441.4 153.4h2.0v3.0h-2.0zM443.4 162.4h2.0v3.0h-2.0zM423.4 165.4h2.0v3.0h-2.0zM443.4 165.4h2.0v3.0h-2.0zM423.4 168.4h2.0v3.0h-2.0zM443.4 168.4h2.0v3.0h-2.0zM423.4 171.4h2.0v3.0h-2.0zM423.4 174.4h2.0v3.0h-2.0zM423.4 177.4h2.0v3.0h-2.0zM445.4 177.4h2.0v3.0h-2.0zM423.4 180.4h2.0v3.0h-2.0zM445.4 180.4h2.0v3.0h-2.0zM447.4 189.3h2.0v3.2h-2.0zM421.4 192.5h2.0v3.5h-2.0zM449.4 192.5h0.2v3.5h-0.2zM421.4 196.0h2.0v3.8h-2.0zM419.4 204.0h2.0v5.0h-2.0zM417.4 209.0h2.0v6.0h-2.0zM458.4 215.0h2.0v6.9h-2.0z"/><path fill="#fde1ca" d="M472.4 61.4h8.0v4.0h-8.0zM468.4 65.4h16.0v4.0h-16.0zM466.4 69.4h20.0v4.0h-20.0zM464.4 73.4h6.0v4.0h-6.0zM482.4 73.4h6.0v4.0h-6.0zM464.4 77.4h4.0v4.0h-4.0zM484.4 77.4h4.0v4.0h-4.0zM462.4 81.4h4.0v4.0h-4.0zM486.4 81.4h4.0v4.0h-4.0zM462.4 85.4h2.0v4.0h-2.0zM488.4 85.4h2.0v4.0h-2.0zM460.4 89.4h4.0v4.0h-4.0zM488.4 89.4h4.0v4.0h-4.0zM460.4 93.4h2.0v4.0h-2.0zM490.4 93.4h2.0v4.0h-2.0zM460.4 97.4h2.0v4.0h-2.0zM490.4 97.4h2.0v4.0h-2.0zM458.4 101.4h2.0v4.0h-2.0zM492.4 101.4h2.0v4.0h-2.0zM458.4 105.4h2.0v4.0h-2.0zM492.4 105.4h2.0v4.0h-2.0zM456.4 109.4h2.0v4.0h-2.0zM494.4 109.4h2.0v4.0h-2.0zM456.4 113.4h2.0v4.0h-2.0zM494.4 113.4h2.0v4.0h-2.0zM456.4 117.4h2.0v3.0h-2.0zM456.4 120.4h2.0v3.0h-2.0zM496.4 120.4h2.0v3.0h-2.0zM456.4 123.4h2.0v3.0h-2.0zM496.4 123.4h2.0v3.0h-2.0zM496.4 126.4h2.0v3.0h-2.0zM496.4 129.4h2.0v3.0h-2.0zM496.4 132.4h2.0v3.0h-2.0zM496.4 135.4h2.0v3.0h-2.0zM496.4 138.4h2.0v3.0h-2.0zM496.4 141.4h2.0v3.0h-2.0zM454.4 144.4h2.0v3.0h-2.0zM454.4 147.4h2.0v3.0h-2.0zM454.4 150.4h2.0v3.0h-2.0zM454.4 153.4h2.0v3.0h-2.0zM498.4 153.4h2.0v3.0h-2.0zM454.4 156.4h2.0v3.0h-2.0zM498.4 156.4h2.0v3.0h-2.0zM454.4 159.4h2.0v3.0h-2.0zM498.4 159.4h2.0v3.0h-2.0zM454.4 162.4h2.0v3.0h-2.0zM498.4 162.4h2.0v3.0h-2.0zM454.4 165.4h2.0v3.0h-2.0zM498.4 165.4h2.0v3.0h-2.0zM454.4 168.4h2.0v3.0h-2.0zM498.4 168.4h2.0v3.0h-2.0zM454.4 171.4h2.0v3.0h-2.0zM498.4 171.4h2.0v3.0h-2.0zM454.4 174.4h2.0v3.0h-2.0zM498.4 174.4h2.0v3.0h-2.0zM498.4 177.4h2.0v3.0h-2.0zM498.4 180.4h2.0v3.0h-2.0zM559.6 180.4h14.0v3.0h-14.0zM498.4 183.4h2.0v3.0h-2.0zM557.6 183.4h34.0v3.0h-34.0zM498.4 186.4h2.0v2.9h-2.0zM557.6 186.4h2.0v2.9h-2.0zM577.6 186.4h22.0v2.9h-22.0zM456.4 189.3h2.0v3.2h-2.0zM498.4 189.3h2.0v3.2h-2.0zM593.6 189.3h12.0v3.2h-12.0zM456.4 192.5h2.0v3.5h-2.0zM498.4 192.5h2.0v3.5h-2.0zM555.6 192.5h2.0v3.5h-2.0zM601.6 192.5h12.0v3.5h-12.0zM456.4 196.0h2.0v3.8h-2.0zM498.4 196.0h2.0v3.8h-2.0zM555.6 196.0h2.0v3.8h-2.0zM607.6 196.0h12.0v3.8h-12.0zM498.4 199.8h2.0v4.2h-2.0zM615.6 199.8h10.0v4.2h-10.0zM458.4 204.0h2.0v5.0h-2.0zM627.6 204.0h16.0v5.0h-16.0zM460.4 209.0h2.0v6.0h-2.0zM551.6 209.0h4.0v6.0h-4.0zM649.6 209.0h20.0v6.0h-20.0zM498.4 215.0h2.0v6.9h-2.0zM549.6 215.0h6.0v6.9h-6.0zM545.6 221.9h6.0v8.9h-6.0z"/><path fill="#fddcc1" d="M470.4 73.4h12.0v4.0h-12.0zM468.4 77.4h16.0v4.0h-16.0zM466.4 81.4h20.0v4.0h-20.0zM464.4 85.4h6.0v4.0h-6.0zM482.4 85.4h6.0v4.0h-6.0zM464.4 89.4h4.0v4.0h-4.0zM484.4 89.4h4.0v4.0h-4.0zM462.4 93.4h4.0v4.0h-4.0zM486.4 93.4h4.0v4.0h-4.0zM462.4 97.4h4.0v4.0h-4.0zM486.4 97.4h4.0v4.0h-4.0zM460.4 101.4h4.0v4.0h-4.0zM490.4 101.4h2.0v4.0h-2.0zM460.4 105.4h2.0v4.0h-2.0zM490.4 105.4h2.0v4.0h-2.0zM458.4 109.4h2.0v4.0h-2.0zM492.4 109.4h2.0v4.0h-2.0zM458.4 113.4h2.0v4.0h-2.0zM492.4 113.4h2.0v4.0h-2.0zM458.4 117.4h2.0v3.0h-2.0zM494.4 117.4h2.0v3.0h-2.0zM494.4 120.4h2.0v3.0h-2.0zM494.4 123.4h2.0v3.0h-2.0zM456.4 126.4h2.0v3.0h-2.0zM494.4 126.4h2.0v3.0h-2.0zM456.4 129.4h2.0v3.0h-2.0zM494.4 129.4h2.0v3.0h-2.0zM456.4 132.4h2.0v3.0h-2.0zM456.4 135.4h2.0v3.0h-2.0zM456.4 138.4h2.0v3.0h-2.0zM456.4 141.4h2.0v3.0h-2.0zM456.4 144.4h2.0v3.0h-2.0zM496.4 144.4h2.0v3.0h-2.0zM456.4 147.4h2.0v3.0h-2.0zM496.4 147.4h2.0v3.0h-2.0zM456.4 150.4h2.0v3.0h-2.0zM496.4 150.4h2.0v3.0h-2.0zM456.4 153.4h2.0v3.0h-2.0zM496.4 153.4h2.0v3.0h-2.0zM456.4 156.4h2.0v3.0h-2.0zM496.4 156.4h2.0v3.0h-2.0zM456.4 159.4h2.0v3.0h-2.0zM496.4 159.4h2.0v3.0h-2.0zM456.4 162.4h2.0v3.0h-2.0zM456.4 165.4h2.0v3.0h-2.0zM456.4 168.4h2.0v3.0h-2.0zM456.4 171.4h2.0v3.0h-2.0zM456.4 174.4h2.0v3.0h-2.0zM456.4 177.4h2.0v3.0h-2.0zM456.4 180.4h2.0v3.0h-2.0zM456.4 183.4h2.0v3.0h-2.0zM456.4 186.4h2.0v2.9h-2.0zM559.6 186.4h18.0v2.9h-18.0zM557.6 189.3h36.0v3.2h-36.0zM589.6 192.5h12.0v3.5h-12.0zM458.4 196.0h2.0v3.8h-2.0zM597.6 196.0h10.0v3.8h-10.0zM458.4 199.8h2.0v4.2h-2.0zM555.6 199.8h2.0v4.2h-2.0zM607.6 199.8h8.0v4.2h-8.0zM496.4 204.0h2.0v5.0h-2.0zM619.6 204.0h8.0v5.0h-8.0zM496.4 209.0h2.0v6.0h-2.0zM629.6 209.0h20.0v6.0h-20.0zM464.4 215.0h2.0v6.9h-2.0zM653.6 215.0h16.9v6.9h-16.9zM464.4 221.9h2.0v8.9h-2.0zM498.4 221.9h2.0v8.9h-2.0zM551.6 221.9h4.0v8.9h-4.0z"/><path fill="#fdd7b8" d="M470.4 85.4h12.0v4.0h-12.0zM468.4 89.4h16.0v4.0h-16.0zM466.4 93.4h6.0v4.0h-6.0zM480.4 93.4h6.0v4.0h-6.0zM466.4 97.4h4.0v4.0h-4.0zM482.4 97.4h4.0v4.0h-4.0zM464.4 101.4h2.0v4.0h-2.0zM486.4 101.4h4.0v4.0h-4.0zM462.4 105.4h2.0v4.0h-2.0zM488.4 105.4h2.0v4.0h-2.0zM460.4 109.4h2.0v4.0h-2.0zM490.4 109.4h2.0v4.0h-2.0zM460.4 113.4h2.0v4.0h-2.0zM490.4 113.4h2.0v4.0h-2.0zM492.4 117.4h2.0v3.0h-2.0zM458.4 120.4h2.0v3.0h-2.0zM492.4 120.4h2.0v3.0h-2.0zM458.4 123.4h2.0v3.0h-2.0zM492.4 123.4h2.0v3.0h-2.0zM458.4 126.4h2.0v3.0h-2.0zM458.4 129.4h2.0v3.0h-2.0zM458.4 132.4h2.0v3.0h-2.0zM494.4 132.4h2.0v3.0h-2.0zM458.4 135.4h2.0v3.0h-2.0zM494.4 135.4h2.0v3.0h-2.0zM494.4 138.4h2.0v3.0h-2.0zM494.4 141.4h2.0v3.0h-2.0zM494.4 144.4h2.0v3.0h-2.0zM494.4 147.4h2.0v3.0h-2.0zM496.4 162.4h2.0v3.0h-2.0zM496.4 165.4h2.0v3.0h-2.0zM496.4 168.4h2.0v3.0h-2.0zM496.4 171.4h2.0v3.0h-2.0zM496.4 174.4h2.0v3.0h-2.0zM496.4 177.4h2.0v3.0h-2.0zM496.4 180.4h2.0v3.0h-2.0zM496.4 183.4h2.0v3.0h-2.0zM496.4 186.4h2.0v2.9h-2.0zM458.4 189.3h2.0v3.2h-2.0zM496.4 189.3h2.0v3.2h-2.0zM458.4 192.5h2.0v3.5h-2.0zM496.4 192.5h2.0v3.5h-2.0zM557.6 192.5h32.0v3.5h-32.0zM496.4 196.0h2.0v3.8h-2.0zM557.6 196.0h4.0v3.8h-4.0zM579.6 196.0h18.0v3.8h-18.0zM496.4 199.8h2.0v4.2h-2.0zM597.6 199.8h10.0v4.2h-10.0zM460.4 204.0h2.0v5.0h-2.0zM555.6 204.0h2.0v5.0h-2.0zM611.6 204.0h8.0v5.0h-8.0zM462.4 209.0h2.0v6.0h-2.0zM494.4 209.0h2.0v6.0h-2.0zM623.6 209.0h6.0v6.0h-6.0zM496.4 215.0h2.0v6.9h-2.0zM635.6 215.0h18.0v6.9h-18.0zM663.6 221.9h6.9v8.9h-6.9z"/><path fill="#d4e6f9" d="M431.4 89.4h2.0v4.0h-2.0zM431.4 93.4h4.0v4.0h-4.0zM431.4 97.4h4.0v4.0h-4.0zM429.4 101.4h8.0v4.0h-8.0zM429.4 105.4h8.0v4.0h-8.0zM429.4 109.4h8.0v4.0h-8.0zM429.4 113.4h8.0v4.0h-8.0zM427.4 117.4h4.0v3.0h-4.0zM435.4 117.4h4.0v3.0h-4.0zM427.4 120.4h4.0v3.0h-4.0zM435.4 120.4h4.0v3.0h-4.0zM427.4 123.4h4.0v3.0h-4.0zM435.4 123.4h4.0v3.0h-4.0zM427.4 126.4h2.0v3.0h-2.0zM437.4 126.4h2.0v3.0h-2.0zM427.4 129.4h2.0v3.0h-2.0zM437.4 129.4h2.0v3.0h-2.0zM427.4 132.4h2.0v3.0h-2.0zM437.4 132.4h2.0v3.0h-2.0zM427.4 135.4h2.0v3.0h-2.0zM437.4 135.4h2.0v3.0h-2.0zM427.4 138.4h2.0v3.0h-2.0zM437.4 138.4h2.0v3.0h-2.0zM427.4 141.4h2.0v3.0h-2.0zM439.4 141.4h2.0v3.0h-2.0zM439.4 144.4h2.0v3.0h-2.0zM425.4 147.4h2.0v3.0h-2.0zM439.4 147.4h2.0v3.0h-2.0zM425.4 150.4h2.0v3.0h-2.0zM439.4 150.4h2.0v3.0h-2.0zM425.4 153.4h2.0v3.0h-2.0zM425.4 156.4h2.0v3.0h-2.0zM441.4 156.4h2.0v3.0h-2.0zM425.4 159.4h2.0v3.0h-2.0zM441.4 159.4h2.0v3.0h-2.0zM425.4 162.4h2.0v3.0h-2.0zM441.4 162.4h2.0v3.0h-2.0zM425.4 165.4h2.0v3.0h-2.0zM425.4 168.4h2.0v3.0h-2.0zM425.4 171.4h2.0v3.0h-2.0zM443.4 171.4h2.0v3.0h-2.0zM443.4 174.4h2.0v3.0h-2.0zM423.4 183.4h2.0v3.0h-2.0zM445.4 183.4h2.0v3.0h-2.0zM423.4 186.4h2.0v2.9h-2.0zM445.4 186.4h2.0v2.9h-2.0zM447.4 192.5h2.0v3.5h-2.0zM449.4 196.0h0.2v3.8h-0.2zM421.4 199.8h2.0v4.2h-2.0zM458.4 221.9h2.0v8.9h-2.0z"/><path fill="#fdd1af" d="M472.4 93.4h8.0v4.0h-8.0zM470.4 97.4h12.0v4.0h-12.0zM466.4 101.4h4.0v4.0h-4.0zM482.4 101.4h4.0v4.0h-4.0zM464.4 105.4h2.0v4.0h-2.0zM486.4 105.4h2.0v4.0h-2.0zM462.4 109.4h4.0v4.0h-4.0zM488.4 109.4h2.0v4.0h-2.0zM462.4 113.4h2.0v4.0h-2.0zM488.4 113.4h2.0v4.0h-2.0zM460.4 117.4h2.0v3.0h-2.0zM490.4 117.4h2.0v3.0h-2.0zM460.4 120.4h2.0v3.0h-2.0zM490.4 120.4h2.0v3.0h-2.0zM460.4 123.4h2.0v3.0h-2.0zM460.4 126.4h2.0v3.0h-2.0zM492.4 126.4h2.0v3.0h-2.0zM492.4 129.4h2.0v3.0h-2.0zM492.4 132.4h2.0v3.0h-2.0zM492.4 135.4h2.0v3.0h-2.0zM458.4 138.4h2.0v3.0h-2.0zM458.4 141.4h2.0v3.0h-2.0zM458.4 144.4h2.0v3.0h-2.0zM458.4 147.4h2.0v3.0h-2.0zM458.4 150.4h2.0v3.0h-2.0zM494.4 150.4h2.0v3.0h-2.0zM458.4 153.4h2.0v3.0h-2.0zM494.4 153.4h2.0v3.0h-2.0zM458.4 156.4h2.0v3.0h-2.0zM494.4 156.4h2.0v3.0h-2.0zM458.4 159.4h2.0v3.0h-2.0zM494.4 159.4h2.0v3.0h-2.0zM458.4 162.4h2.0v3.0h-2.0zM458.4 165.4h2.0v3.0h-2.0zM458.4 168.4h2.0v3.0h-2.0zM458.4 171.4h2.0v3.0h-2.0zM458.4 174.4h2.0v3.0h-2.0zM458.4 177.4h2.0v3.0h-2.0zM458.4 180.4h2.0v3.0h-2.0zM458.4 183.4h2.0v3.0h-2.0zM458.4 186.4h2.0v2.9h-2.0zM561.6 196.0h18.0v3.8h-18.0zM460.4 199.8h2.0v4.2h-2.0zM557.6 199.8h4.0v4.2h-4.0zM583.6 199.8h14.0v4.2h-14.0zM494.4 204.0h2.0v5.0h-2.0zM603.6 204.0h8.0v5.0h-8.0zM555.6 209.0h2.0v6.0h-2.0zM617.6 209.0h6.0v6.0h-6.0zM625.6 215.0h10.0v6.9h-10.0zM647.6 221.9h16.0v8.9h-16.0z"/><path fill="#fccba5" d="M470.4 101.4h12.0v4.0h-12.0zM466.4 105.4h6.0v4.0h-6.0zM482.4 105.4h4.0v4.0h-4.0zM466.4 109.4h2.0v4.0h-2.0zM484.4 109.4h4.0v4.0h-4.0zM464.4 113.4h2.0v4.0h-2.0zM486.4 113.4h2.0v4.0h-2.0zM462.4 117.4h2.0v3.0h-2.0zM488.4 117.4h2.0v3.0h-2.0zM462.4 120.4h2.0v3.0h-2.0zM462.4 123.4h2.0v3.0h-2.0zM490.4 123.4h2.0v3.0h-2.0zM490.4 126.4h2.0v3.0h-2.0zM460.4 129.4h2.0v3.0h-2.0zM490.4 129.4h2.0v3.0h-2.0zM460.4 132.4h2.0v3.0h-2.0zM460.4 135.4h2.0v3.0h-2.0zM460.4 138.4h2.0v3.0h-2.0zM492.4 138.4h2.0v3.0h-2.0zM460.4 141.4h2.0v3.0h-2.0zM492.4 141.4h2.0v3.0h-2.0zM492.4 144.4h2.0v3.0h-2.0zM492.4 147.4h2.0v3.0h-2.0zM494.4 162.4h2.0v3.0h-2.0zM494.4 165.4h2.0v3.0h-2.0zM494.4 168.4h2.0v3.0h-2.0zM494.4 171.4h2.0v3.0h-2.0zM494.4 174.4h2.0v3.0h-2.0zM494.4 177.4h2.0v3.0h-2.0zM494.4 180.4h2.0v3.0h-2.0zM494.4 186.4h2.0v2.9h-2.0zM494.4 189.3h2.0v3.2h-2.0zM460.4 192.5h2.0v3.5h-2.0zM494.4 192.5h2.0v3.5h-2.0zM460.4 196.0h2.0v3.8h-2.0zM494.4 196.0h2.0v3.8h-2.0zM494.4 199.8h2.0v4.2h-2.0zM561.6 199.8h22.0v4.2h-22.0zM595.6 204.0h8.0v5.0h-8.0zM464.4 209.0h2.0v6.0h-2.0zM492.4 209.0h2.0v6.0h-2.0zM609.6 209.0h8.0v6.0h-8.0zM494.4 215.0h2.0v6.9h-2.0zM555.6 215.0h2.0v6.9h-2.0zM621.6 215.0h4.0v6.9h-4.0zM496.4 221.9h2.0v8.9h-2.0zM631.6 221.9h16.0v8.9h-16.0z"/><path fill="#fcc49c" d="M472.4 105.4h10.0v4.0h-10.0zM468.4 109.4h4.0v4.0h-4.0zM480.4 109.4h4.0v4.0h-4.0zM466.4 113.4h2.0v4.0h-2.0zM484.4 113.4h2.0v4.0h-2.0zM464.4 117.4h2.0v3.0h-2.0zM486.4 117.4h2.0v3.0h-2.0zM464.4 120.4h2.0v3.0h-2.0zM488.4 120.4h2.0v3.0h-2.0zM488.4 123.4h2.0v3.0h-2.0zM462.4 126.4h2.0v3.0h-2.0zM488.4 126.4h2.0v3.0h-2.0zM462.4 129.4h2.0v3.0h-2.0zM462.4 132.4h2.0v3.0h-2.0zM490.4 132.4h2.0v3.0h-2.0zM490.4 135.4h2.0v3.0h-2.0zM490.4 138.4h2.0v3.0h-2.0zM460.4 144.4h2.0v3.0h-2.0zM460.4 147.4h2.0v3.0h-2.0zM460.4 150.4h2.0v3.0h-2.0zM492.4 150.4h2.0v3.0h-2.0zM460.4 153.4h2.0v3.0h-2.0zM492.4 153.4h2.0v3.0h-2.0zM460.4 156.4h2.0v3.0h-2.0zM492.4 156.4h2.0v3.0h-2.0zM460.4 159.4h2.0v3.0h-2.0zM492.4 159.4h2.0v3.0h-2.0zM460.4 162.4h2.0v3.0h-2.0zM460.4 165.4h2.0v3.0h-2.0zM460.4 168.4h2.0v3.0h-2.0zM460.4 171.4h2.0v3.0h-2.0zM460.4 174.4h2.0v3.0h-2.0zM460.4 177.4h2.0v3.0h-2.0zM494.4 183.4h2.0v3.0h-2.0zM460.4 186.4h2.0v2.9h-2.0zM460.4 189.3h2.0v3.2h-2.0zM462.4 199.8h2.0v4.2h-2.0zM462.4 204.0h2.0v5.0h-2.0zM557.6 204.0h4.0v5.0h-4.0zM583.6 204.0h12.0v5.0h-12.0zM603.6 209.0h6.0v6.0h-6.0zM466.4 215.0h2.0v6.9h-2.0zM615.6 215.0h6.0v6.9h-6.0zM466.4 221.9h2.0v8.9h-2.0zM625.6 221.9h6.0v8.9h-6.0z"/><path fill="#fcb995" d="M472.4 109.4h8.0v4.0h-8.0zM468.4 113.4h4.0v4.0h-4.0zM480.4 113.4h4.0v4.0h-4.0zM466.4 117.4h4.0v3.0h-4.0zM484.4 117.4h2.0v3.0h-2.0zM466.4 120.4h2.0v3.0h-2.0zM486.4 120.4h2.0v3.0h-2.0zM464.4 123.4h2.0v3.0h-2.0zM486.4 123.4h2.0v3.0h-2.0zM464.4 126.4h2.0v3.0h-2.0zM464.4 129.4h2.0v3.0h-2.0zM488.4 129.4h2.0v3.0h-2.0zM488.4 132.4h2.0v3.0h-2.0zM462.4 135.4h2.0v3.0h-2.0zM488.4 135.4h2.0v3.0h-2.0zM462.4 138.4h2.0v3.0h-2.0zM462.4 141.4h2.0v3.0h-2.0zM490.4 141.4h2.0v3.0h-2.0zM462.4 144.4h2.0v3.0h-2.0zM490.4 144.4h2.0v3.0h-2.0zM490.4 147.4h2.0v3.0h-2.0zM490.4 150.4h2.0v3.0h-2.0zM492.4 162.4h2.0v3.0h-2.0zM492.4 165.4h2.0v3.0h-2.0zM492.4 168.4h2.0v3.0h-2.0zM492.4 171.4h2.0v3.0h-2.0zM492.4 174.4h2.0v3.0h-2.0zM460.4 180.4h2.0v3.0h-2.0zM460.4 183.4h2.0v3.0h-2.0zM462.4 192.5h2.0v3.5h-2.0zM492.4 192.5h2.0v3.5h-2.0zM462.4 196.0h2.0v3.8h-2.0zM492.4 196.0h2.0v3.8h-2.0zM492.4 199.8h2.0v4.2h-2.0zM492.4 204.0h2.0v5.0h-2.0zM561.6 204.0h22.0v5.0h-22.0zM466.4 209.0h2.0v6.0h-2.0zM490.4 209.0h2.0v6.0h-2.0zM597.6 209.0h6.0v6.0h-6.0zM492.4 215.0h2.0v6.9h-2.0zM609.6 215.0h6.0v6.9h-6.0zM494.4 221.9h2.0v8.9h-2.0zM555.6 221.9h2.0v8.9h-2.0zM621.6 221.9h4.0v8.9h-4.0z"/><path fill="#fbaf8d" d="M472.4 113.4h8.0v4.0h-8.0zM470.4 117.4h4.0v3.0h-4.0zM478.4 117.4h6.0v3.0h-6.0zM468.4 120.4h2.0v3.0h-2.0zM482.4 120.4h4.0v3.0h-4.0zM466.4 123.4h2.0v3.0h-2.0zM484.4 123.4h2.0v3.0h-2.0zM466.4 126.4h2.0v3.0h-2.0zM486.4 126.4h2.0v3.0h-2.0zM486.4 129.4h2.0v3.0h-2.0zM464.4 132.4h2.0v3.0h-2.0zM486.4 132.4h2.0v3.0h-2.0zM464.4 135.4h2.0v3.0h-2.0zM464.4 138.4h2.0v3.0h-2.0zM488.4 138.4h2.0v3.0h-2.0zM488.4 141.4h2.0v3.0h-2.0zM462.4 147.4h2.0v3.0h-2.0zM462.4 150.4h2.0v3.0h-2.0zM462.4 153.4h2.0v3.0h-2.0zM490.4 153.4h2.0v3.0h-2.0zM462.4 156.4h2.0v3.0h-2.0zM490.4 156.4h2.0v3.0h-2.0zM462.4 159.4h2.0v3.0h-2.0zM490.4 159.4h2.0v3.0h-2.0zM462.4 162.4h2.0v3.0h-2.0zM462.4 165.4h2.0v3.0h-2.0zM492.4 177.4h2.0v3.0h-2.0zM492.4 180.4h2.0v3.0h-2.0zM492.4 183.4h2.0v3.0h-2.0zM492.4 186.4h2.0v2.9h-2.0zM462.4 189.3h2.0v3.2h-2.0zM492.4 189.3h2.0v3.2h-2.0zM464.4 204.0h2.0v5.0h-2.0zM557.6 209.0h2.0v6.0h-2.0zM591.6 209.0h6.0v6.0h-6.0zM605.6 215.0h4.0v6.9h-4.0zM617.6 221.9h4.0v8.9h-4.0z"/><path fill="#cce2f8" d="M431.4 117.4h4.0v3.0h-4.0zM431.4 120.4h4.0v3.0h-4.0zM431.4 123.4h4.0v3.0h-4.0zM429.4 126.4h8.0v3.0h-8.0zM429.4 129.4h8.0v3.0h-8.0zM429.4 132.4h8.0v3.0h-8.0zM429.4 135.4h8.0v3.0h-8.0zM429.4 138.4h8.0v3.0h-8.0zM429.4 141.4h2.0v3.0h-2.0zM435.4 141.4h4.0v3.0h-4.0zM427.4 144.4h4.0v3.0h-4.0zM437.4 144.4h2.0v3.0h-2.0zM427.4 147.4h2.0v3.0h-2.0zM437.4 147.4h2.0v3.0h-2.0zM427.4 150.4h2.0v3.0h-2.0zM427.4 153.4h2.0v3.0h-2.0zM439.4 153.4h2.0v3.0h-2.0zM427.4 156.4h2.0v3.0h-2.0zM439.4 156.4h2.0v3.0h-2.0zM427.4 159.4h2.0v3.0h-2.0zM439.4 159.4h2.0v3.0h-2.0zM441.4 165.4h2.0v3.0h-2.0zM441.4 168.4h2.0v3.0h-2.0zM441.4 171.4h2.0v3.0h-2.0zM425.4 174.4h2.0v3.0h-2.0zM425.4 177.4h2.0v3.0h-2.0zM443.4 177.4h2.0v3.0h-2.0zM425.4 180.4h2.0v3.0h-2.0zM443.4 180.4h2.0v3.0h-2.0zM423.4 189.3h2.0v3.2h-2.0zM445.4 189.3h2.0v3.2h-2.0zM423.4 192.5h2.0v3.5h-2.0zM447.4 196.0h2.0v3.8h-2.0zM449.4 199.8h0.2v4.2h-0.2zM421.4 204.0h2.0v5.0h-2.0zM419.4 209.0h2.0v6.0h-2.0z"/><path fill="#fba486" d="M474.4 117.4h4.0v3.0h-4.0zM470.4 120.4h12.0v3.0h-12.0zM468.4 123.4h4.0v3.0h-4.0zM480.4 123.4h4.0v3.0h-4.0zM468.4 126.4h2.0v3.0h-2.0zM482.4 126.4h4.0v3.0h-4.0zM466.4 129.4h2.0v3.0h-2.0zM484.4 129.4h2.0v3.0h-2.0zM466.4 132.4h2.0v3.0h-2.0zM486.4 135.4h2.0v3.0h-2.0zM486.4 138.4h2.0v3.0h-2.0zM464.4 141.4h2.0v3.0h-2.0zM464.4 144.4h2.0v3.0h-2.0zM488.4 144.4h2.0v3.0h-2.0zM464.4 147.4h2.0v3.0h-2.0zM488.4 147.4h2.0v3.0h-2.0zM488.4 150.4h2.0v3.0h-2.0zM490.4 162.4h2.0v3.0h-2.0zM490.4 165.4h2.0v3.0h-2.0zM462.4 168.4h2.0v3.0h-2.0zM490.4 168.4h2.0v3.0h-2.0zM462.4 171.4h2.0v3.0h-2.0zM490.4 171.4h2.0v3.0h-2.0zM462.4 174.4h2.0v3.0h-2.0zM462.4 177.4h2.0v3.0h-2.0zM462.4 180.4h2.0v3.0h-2.0zM462.4 183.4h2.0v3.0h-2.0zM462.4 186.4h2.0v2.9h-2.0zM464.4 196.0h2.0v3.8h-2.0zM464.4 199.8h2.0v4.2h-2.0zM490.4 204.0h2.0v5.0h-2.0zM468.4 209.0h2.0v6.0h-2.0zM488.4 209.0h2.0v6.0h-2.0zM559.6 209.0h32.0v6.0h-32.0zM468.4 215.0h2.0v6.9h-2.0zM490.4 215.0h2.0v6.9h-2.0zM599.6 215.0h6.0v6.9h-6.0zM468.4 221.9h2.0v8.9h-2.0zM611.6 221.9h6.0v8.9h-6.0z"/><path fill="#fb9a7f" d="M472.4 123.4h8.0v3.0h-8.0zM470.4 126.4h6.0v3.0h-6.0zM478.4 126.4h4.0v3.0h-4.0zM468.4 129.4h4.0v3.0h-4.0zM482.4 129.4h2.0v3.0h-2.0zM468.4 132.4h2.0v3.0h-2.0zM484.4 132.4h2.0v3.0h-2.0zM466.4 135.4h2.0v3.0h-2.0zM484.4 135.4h2.0v3.0h-2.0zM466.4 138.4h2.0v3.0h-2.0zM466.4 141.4h2.0v3.0h-2.0zM486.4 141.4h2.0v3.0h-2.0zM486.4 144.4h2.0v3.0h-2.0zM464.4 150.4h2.0v3.0h-2.0zM464.4 153.4h2.0v3.0h-2.0zM488.4 153.4h2.0v3.0h-2.0zM464.4 156.4h2.0v3.0h-2.0zM488.4 156.4h2.0v3.0h-2.0zM464.4 159.4h2.0v3.0h-2.0zM488.4 159.4h2.0v3.0h-2.0zM464.4 162.4h2.0v3.0h-2.0zM490.4 174.4h2.0v3.0h-2.0zM490.4 177.4h2.0v3.0h-2.0zM490.4 180.4h2.0v3.0h-2.0zM490.4 183.4h2.0v3.0h-2.0zM490.4 186.4h2.0v2.9h-2.0zM464.4 189.3h2.0v3.2h-2.0zM490.4 189.3h2.0v3.2h-2.0zM464.4 192.5h2.0v3.5h-2.0zM490.4 192.5h2.0v3.5h-2.0zM490.4 196.0h2.0v3.8h-2.0zM490.4 199.8h2.0v4.2h-2.0zM466.4 204.0h2.0v5.0h-2.0zM595.6 215.0h4.0v6.9h-4.0zM492.4 221.9h2.0v8.9h-2.0zM607.6 221.9h4.0v8.9h-4.0z"/><path fill="#fc8f78" d="M476.4 126.4h2.0v3.0h-2.0zM472.4 129.4h10.0v3.0h-10.0zM470.4 132.4h4.0v3.0h-4.0zM480.4 132.4h4.0v3.0h-4.0zM468.4 135.4h4.0v3.0h-4.0zM482.4 135.4h2.0v3.0h-2.0zM468.4 138.4h2.0v3.0h-2.0zM484.4 138.4h2.0v3.0h-2.0zM468.4 141.4h2.0v3.0h-2.0zM484.4 141.4h2.0v3.0h-2.0zM466.4 144.4h2.0v3.0h-2.0zM466.4 147.4h2.0v3.0h-2.0zM486.4 147.4h2.0v3.0h-2.0zM466.4 150.4h2.0v3.0h-2.0zM486.4 150.4h2.0v3.0h-2.0zM466.4 153.4h2.0v3.0h-2.0zM486.4 153.4h2.0v3.0h-2.0zM488.4 162.4h2.0v3.0h-2.0zM464.4 165.4h2.0v3.0h-2.0zM488.4 165.4h2.0v3.0h-2.0zM464.4 168.4h2.0v3.0h-2.0zM488.4 168.4h2.0v3.0h-2.0zM464.4 171.4h2.0v3.0h-2.0zM488.4 171.4h2.0v3.0h-2.0zM464.4 174.4h2.0v3.0h-2.0zM464.4 177.4h2.0v3.0h-2.0zM464.4 180.4h2.0v3.0h-2.0zM464.4 183.4h2.0v3.0h-2.0zM464.4 186.4h2.0v2.9h-2.0zM466.4 199.8h2.0v4.2h-2.0zM488.4 204.0h2.0v5.0h-2.0zM470.4 209.0h2.0v6.0h-2.0zM486.4 209.0h2.0v6.0h-2.0zM470.4 215.0h2.0v6.9h-2.0zM488.4 215.0h2.0v6.9h-2.0zM557.6 215.0h6.0v6.9h-6.0zM587.6 215.0h8.0v6.9h-8.0zM603.6 221.9h4.0v8.9h-4.0z"/><path fill="#fc8571" d="M474.4 132.4h6.0v3.0h-6.0zM472.4 135.4h10.0v3.0h-10.0zM470.4 138.4h2.0v3.0h-2.0zM480.4 138.4h4.0v3.0h-4.0zM470.4 141.4h2.0v3.0h-2.0zM482.4 141.4h2.0v3.0h-2.0zM468.4 144.4h2.0v3.0h-2.0zM484.4 144.4h2.0v3.0h-2.0zM468.4 147.4h2.0v3.0h-2.0zM484.4 147.4h2.0v3.0h-2.0zM484.4 150.4h2.0v3.0h-2.0zM466.4 156.4h2.0v3.0h-2.0zM486.4 156.4h2.0v3.0h-2.0zM466.4 159.4h2.0v3.0h-2.0zM486.4 159.4h2.0v3.0h-2.0zM466.4 162.4h2.0v3.0h-2.0zM466.4 165.4h2.0v3.0h-2.0zM488.4 174.4h2.0v3.0h-2.0zM488.4 177.4h2.0v3.0h-2.0zM488.4 180.4h2.0v3.0h-2.0zM488.4 186.4h2.0v2.9h-2.0zM488.4 189.3h2.0v3.2h-2.0zM466.4 192.5h2.0v3.5h-2.0zM488.4 192.5h2.0v3.5h-2.0zM466.4 196.0h2.0v3.8h-2.0zM488.4 196.0h2.0v3.8h-2.0zM488.4 199.8h2.0v4.2h-2.0zM468.4 204.0h2.0v5.0h-2.0zM472.4 209.0h2.0v6.0h-2.0zM484.4 209.0h2.0v6.0h-2.0zM563.6 215.0h24.0v6.9h-24.0zM470.4 221.9h2.0v8.9h-2.0zM490.4 221.9h2.0v8.9h-2.0zM599.6 221.9h4.0v8.9h-4.0z"/><path fill="#fc7c6b" d="M472.4 138.4h8.0v3.0h-8.0zM472.4 141.4h10.0v3.0h-10.0zM470.4 144.4h4.0v3.0h-4.0zM480.4 144.4h4.0v3.0h-4.0zM470.4 147.4h2.0v3.0h-2.0zM482.4 147.4h2.0v3.0h-2.0zM468.4 150.4h2.0v3.0h-2.0zM468.4 153.4h2.0v3.0h-2.0zM484.4 153.4h2.0v3.0h-2.0zM468.4 156.4h2.0v3.0h-2.0zM484.4 156.4h2.0v3.0h-2.0zM486.4 162.4h2.0v3.0h-2.0zM486.4 165.4h2.0v3.0h-2.0zM466.4 168.4h2.0v3.0h-2.0zM486.4 168.4h2.0v3.0h-2.0zM466.4 171.4h2.0v3.0h-2.0zM486.4 171.4h2.0v3.0h-2.0zM466.4 174.4h2.0v3.0h-2.0zM466.4 177.4h2.0v3.0h-2.0zM466.4 180.4h2.0v3.0h-2.0zM466.4 183.4h2.0v3.0h-2.0zM488.4 183.4h2.0v3.0h-2.0zM466.4 186.4h2.0v2.9h-2.0zM466.4 189.3h2.0v3.2h-2.0zM468.4 199.8h2.0v4.2h-2.0zM486.4 204.0h2.0v5.0h-2.0zM474.4 209.0h10.0v6.0h-10.0zM472.4 215.0h2.0v6.9h-2.0zM486.4 215.0h2.0v6.9h-2.0zM557.6 221.9h2.0v8.9h-2.0zM595.6 221.9h4.0v8.9h-4.0z"/><path fill="#c3ddf8" d="M431.4 141.4h4.0v3.0h-4.0zM431.4 144.4h6.0v3.0h-6.0zM429.4 147.4h8.0v3.0h-8.0zM429.4 150.4h4.0v3.0h-4.0zM435.4 150.4h4.0v3.0h-4.0zM429.4 153.4h2.0v3.0h-2.0zM437.4 153.4h2.0v3.0h-2.0zM429.4 156.4h2.0v3.0h-2.0zM437.4 156.4h2.0v3.0h-2.0zM429.4 159.4h2.0v3.0h-2.0zM437.4 159.4h2.0v3.0h-2.0zM427.4 162.4h2.0v3.0h-2.0zM439.4 162.4h2.0v3.0h-2.0zM427.4 165.4h2.0v3.0h-2.0zM439.4 165.4h2.0v3.0h-2.0zM427.4 168.4h2.0v3.0h-2.0zM439.4 168.4h2.0v3.0h-2.0zM427.4 171.4h2.0v3.0h-2.0zM427.4 174.4h2.0v3.0h-2.0zM441.4 174.4h2.0v3.0h-2.0zM441.4 177.4h2.0v3.0h-2.0zM425.4 183.4h2.0v3.0h-2.0zM443.4 183.4h2.0v3.0h-2.0zM425.4 186.4h2.0v2.9h-2.0zM445.4 192.5h2.0v3.5h-2.0zM423.4 196.0h2.0v3.8h-2.0zM447.4 199.8h2.0v4.2h-2.0zM409.4 215.0h2.0v6.9h-2.0zM409.4 221.9h2.0v8.9h-2.0z"/><path fill="#fc7364" d="M474.4 144.4h6.0v3.0h-6.0zM472.4 147.4h10.0v3.0h-10.0zM470.4 150.4h4.0v3.0h-4.0zM480.4 150.4h4.0v3.0h-4.0zM470.4 153.4h2.0v3.0h-2.0zM482.4 153.4h2.0v3.0h-2.0zM470.4 156.4h2.0v3.0h-2.0zM482.4 156.4h2.0v3.0h-2.0zM468.4 159.4h2.0v3.0h-2.0zM484.4 159.4h2.0v3.0h-2.0zM468.4 162.4h2.0v3.0h-2.0zM484.4 162.4h2.0v3.0h-2.0zM468.4 165.4h2.0v3.0h-2.0zM484.4 165.4h2.0v3.0h-2.0zM468.4 168.4h2.0v3.0h-2.0zM486.4 174.4h2.0v3.0h-2.0zM486.4 177.4h2.0v3.0h-2.0zM486.4 180.4h2.0v3.0h-2.0zM486.4 189.3h2.0v3.2h-2.0zM468.4 192.5h2.0v3.5h-2.0zM486.4 192.5h2.0v3.5h-2.0zM468.4 196.0h2.0v3.8h-2.0zM486.4 196.0h2.0v3.8h-2.0zM486.4 199.8h2.0v4.2h-2.0zM470.4 204.0h2.0v5.0h-2.0zM474.4 215.0h2.0v6.9h-2.0zM484.4 215.0h2.0v6.9h-2.0zM472.4 221.9h2.0v8.9h-2.0zM488.4 221.9h2.0v8.9h-2.0zM559.6 221.9h2.0v8.9h-2.0zM591.6 221.9h4.0v8.9h-4.0z"/><path fill="#b8d8f9" d="M433.4 150.4h2.0v3.0h-2.0zM431.4 153.4h6.0v3.0h-6.0zM431.4 156.4h6.0v3.0h-6.0zM431.4 159.4h6.0v3.0h-6.0zM429.4 162.4h4.0v3.0h-4.0zM435.4 162.4h4.0v3.0h-4.0zM429.4 165.4h2.0v3.0h-2.0zM437.4 165.4h2.0v3.0h-2.0zM429.4 168.4h2.0v3.0h-2.0zM437.4 168.4h2.0v3.0h-2.0zM429.4 171.4h2.0v3.0h-2.0zM439.4 171.4h2.0v3.0h-2.0zM439.4 174.4h2.0v3.0h-2.0zM427.4 177.4h2.0v3.0h-2.0zM427.4 180.4h2.0v3.0h-2.0zM441.4 180.4h2.0v3.0h-2.0zM443.4 186.4h2.0v2.9h-2.0zM425.4 189.3h2.0v3.2h-2.0zM425.4 192.5h2.0v3.5h-2.0zM445.4 196.0h2.0v3.8h-2.0zM423.4 199.8h2.0v4.2h-2.0zM449.4 204.0h0.2v5.0h-0.2zM411.4 215.0h2.0v6.9h-2.0zM456.4 215.0h2.0v6.9h-2.0zM411.4 221.9h2.0v8.9h-2.0z"/><path fill="#fc6a5e" d="M474.4 150.4h6.0v3.0h-6.0zM472.4 153.4h10.0v3.0h-10.0zM472.4 156.4h2.0v3.0h-2.0zM480.4 156.4h2.0v3.0h-2.0zM470.4 159.4h2.0v3.0h-2.0zM482.4 159.4h2.0v3.0h-2.0zM470.4 162.4h2.0v3.0h-2.0zM482.4 162.4h2.0v3.0h-2.0zM470.4 165.4h2.0v3.0h-2.0zM484.4 168.4h2.0v3.0h-2.0zM468.4 171.4h2.0v3.0h-2.0zM484.4 171.4h2.0v3.0h-2.0zM468.4 174.4h2.0v3.0h-2.0zM484.4 174.4h2.0v3.0h-2.0zM468.4 177.4h2.0v3.0h-2.0zM468.4 180.4h2.0v3.0h-2.0zM468.4 183.4h2.0v3.0h-2.0zM486.4 183.4h2.0v3.0h-2.0zM468.4 186.4h2.0v2.9h-2.0zM486.4 186.4h2.0v2.9h-2.0zM468.4 189.3h2.0v3.2h-2.0zM470.4 199.8h2.0v4.2h-2.0zM472.4 204.0h2.0v5.0h-2.0zM484.4 204.0h2.0v5.0h-2.0zM476.4 215.0h8.0v6.9h-8.0zM561.6 221.9h30.0v8.9h-30.0z"/><path fill="#fc6359" d="M474.4 156.4h6.0v3.0h-6.0zM472.4 159.4h10.0v3.0h-10.0zM472.4 162.4h4.0v3.0h-4.0zM480.4 162.4h2.0v3.0h-2.0zM472.4 165.4h2.0v3.0h-2.0zM480.4 165.4h4.0v3.0h-4.0zM470.4 168.4h2.0v3.0h-2.0zM482.4 168.4h2.0v3.0h-2.0zM470.4 171.4h2.0v3.0h-2.0zM482.4 171.4h2.0v3.0h-2.0zM470.4 174.4h2.0v3.0h-2.0zM470.4 177.4h2.0v3.0h-2.0zM484.4 177.4h2.0v3.0h-2.0zM484.4 180.4h2.0v3.0h-2.0zM484.4 183.4h2.0v3.0h-2.0zM484.4 186.4h2.0v2.9h-2.0zM470.4 189.3h2.0v3.2h-2.0zM484.4 189.3h2.0v3.2h-2.0zM470.4 192.5h2.0v3.5h-2.0zM484.4 192.5h2.0v3.5h-2.0zM470.4 196.0h2.0v3.8h-2.0zM484.4 196.0h2.0v3.8h-2.0zM472.4 199.8h2.0v4.2h-2.0zM484.4 199.8h2.0v4.2h-2.0zM474.4 204.0h2.0v5.0h-2.0zM482.4 204.0h2.0v5.0h-2.0zM474.4 221.9h2.0v8.9h-2.0zM486.4 221.9h2.0v8.9h-2.0z"/><path fill="#add3fa" d="M433.4 162.4h2.0v3.0h-2.0zM431.4 165.4h6.0v3.0h-6.0zM431.4 168.4h6.0v3.0h-6.0zM431.4 171.4h8.0v3.0h-8.0zM429.4 174.4h2.0v3.0h-2.0zM437.4 174.4h2.0v3.0h-2.0zM429.4 177.4h2.0v3.0h-2.0zM439.4 177.4h2.0v3.0h-2.0zM427.4 183.4h2.0v3.0h-2.0zM441.4 183.4h2.0v3.0h-2.0zM427.4 186.4h2.0v2.9h-2.0zM443.4 189.3h2.0v3.2h-2.0zM425.4 196.0h2.0v3.8h-2.0zM423.4 204.0h2.0v5.0h-2.0zM447.4 204.0h2.0v5.0h-2.0zM421.4 209.0h2.0v6.0h-2.0zM413.4 215.0h2.0v6.9h-2.0zM413.4 221.9h2.0v8.9h-2.0zM456.4 221.9h2.0v8.9h-2.0z"/><path fill="#fb5c54" d="M476.4 162.4h4.0v3.0h-4.0zM474.4 165.4h6.0v3.0h-6.0zM472.4 168.4h10.0v3.0h-10.0zM472.4 171.4h4.0v3.0h-4.0zM480.4 171.4h2.0v3.0h-2.0zM472.4 174.4h2.0v3.0h-2.0zM480.4 174.4h4.0v3.0h-4.0zM472.4 177.4h2.0v3.0h-2.0zM482.4 177.4h2.0v3.0h-2.0zM470.4 180.4h2.0v3.0h-2.0zM482.4 180.4h2.0v3.0h-2.0zM470.4 183.4h2.0v3.0h-2.0zM470.4 186.4h2.0v2.9h-2.0zM482.4 189.3h2.0v3.2h-2.0zM472.4 192.5h2.0v3.5h-2.0zM482.4 192.5h2.0v3.5h-2.0zM472.4 196.0h2.0v3.8h-2.0zM482.4 196.0h2.0v3.8h-2.0zM474.4 199.8h2.0v4.2h-2.0zM482.4 199.8h2.0v4.2h-2.0zM476.4 204.0h6.0v5.0h-6.0zM476.4 221.9h4.0v8.9h-4.0zM482.4 221.9h4.0v8.9h-4.0z"/><path fill="#fb5450" d="M476.4 171.4h4.0v3.0h-4.0zM474.4 174.4h6.0v3.0h-6.0zM474.4 177.4h8.0v3.0h-8.0zM472.4 180.4h4.0v3.0h-4.0zM480.4 180.4h2.0v3.0h-2.0zM472.4 183.4h2.0v3.0h-2.0zM480.4 183.4h4.0v3.0h-4.0zM472.4 186.4h2.0v2.9h-2.0zM480.4 186.4h4.0v2.9h-4.0zM472.4 189.3h4.0v3.2h-4.0zM480.4 189.3h2.0v3.2h-2.0zM474.4 192.5h8.0v3.5h-8.0zM474.4 196.0h8.0v3.8h-8.0zM476.4 199.8h6.0v4.2h-6.0zM480.4 221.9h2.0v8.9h-2.0z"/><path fill="#a2cdfa" d="M431.4 174.4h6.0v3.0h-6.0zM431.4 177.4h2.0v3.0h-2.0zM437.4 177.4h2.0v3.0h-2.0zM429.4 180.4h2.0v3.0h-2.0zM439.4 180.4h2.0v3.0h-2.0zM429.4 183.4h2.0v3.0h-2.0zM441.4 186.4h2.0v2.9h-2.0zM427.4 189.3h2.0v3.2h-2.0zM443.4 192.5h2.0v3.5h-2.0zM425.4 199.8h2.0v4.2h-2.0zM445.4 199.8h2.0v4.2h-2.0zM454.4 215.0h2.0v6.9h-2.0z"/><path fill="#97c6f9" d="M433.4 177.4h4.0v3.0h-4.0zM431.4 180.4h2.0v3.0h-2.0zM435.4 180.4h4.0v3.0h-4.0zM439.4 183.4h2.0v3.0h-2.0zM429.4 186.4h2.0v2.9h-2.0zM439.4 186.4h2.0v2.9h-2.0zM441.4 189.3h2.0v3.2h-2.0zM427.4 192.5h2.0v3.5h-2.0zM427.4 196.0h2.0v3.8h-2.0zM443.4 196.0h2.0v3.8h-2.0zM449.4 209.0h0.2v6.0h-0.2zM415.4 215.0h2.0v6.9h-2.0zM415.4 221.9h2.0v8.9h-2.0zM454.4 221.9h2.0v8.9h-2.0z"/><path fill="#8cc0f8" d="M433.4 180.4h2.0v3.0h-2.0zM431.4 183.4h8.0v3.0h-8.0zM431.4 186.4h2.0v2.9h-2.0zM429.4 189.3h2.0v3.2h-2.0zM439.4 189.3h2.0v3.2h-2.0zM441.4 192.5h2.0v3.5h-2.0zM443.4 199.8h2.0v4.2h-2.0zM425.4 204.0h2.0v5.0h-2.0zM445.4 204.0h2.0v5.0h-2.0zM423.4 209.0h2.0v6.0h-2.0z"/><path fill="#fa4d4b" d="M476.4 180.4h4.0v3.0h-4.0zM474.4 183.4h6.0v3.0h-6.0zM474.4 186.4h6.0v2.9h-6.0zM476.4 189.3h4.0v3.2h-4.0z"/><path fill="#8bb4f0" d="M433.4 186.4h6.0v2.9h-6.0zM431.4 189.3h2.0v3.2h-2.0zM429.4 192.5h2.0v3.5h-2.0zM439.4 192.5h2.0v3.5h-2.0zM441.4 196.0h2.0v3.8h-2.0zM427.4 199.8h2.0v4.2h-2.0zM447.4 209.0h2.0v6.0h-2.0zM417.4 215.0h2.0v6.9h-2.0zM417.4 221.9h2.0v8.9h-2.0zM423.4 221.9h2.0v8.9h-2.0zM449.4 221.9h0.2v8.9h-0.2z"/><path fill="#8aa8e8" d="M433.4 189.3h6.0v3.2h-6.0zM431.4 192.5h2.0v3.5h-2.0zM429.4 196.0h2.0v3.8h-2.0zM449.4 215.0h0.2v6.9h-0.2zM447.4 221.9h2.0v8.9h-2.0z"/><path fill="#89a0e3" d="M433.4 192.5h6.0v3.5h-6.0zM431.4 196.0h2.0v3.8h-2.0zM439.4 196.0h2.0v3.8h-2.0zM429.4 199.8h2.0v4.2h-2.0zM441.4 199.8h2.0v4.2h-2.0zM427.4 204.0h2.0v5.0h-2.0zM443.4 204.0h2.0v5.0h-2.0zM425.4 209.0h2.0v6.0h-2.0zM423.4 215.0h2.0v6.9h-2.0zM419.4 221.9h2.0v8.9h-2.0zM425.4 221.9h2.0v8.9h-2.0z"/><path fill="#8998dd" d="M433.4 196.0h6.0v3.8h-6.0zM445.4 209.0h2.0v6.0h-2.0zM419.4 215.0h2.0v6.9h-2.0zM447.4 215.0h2.0v6.9h-2.0z"/><path fill="#8890d8" d="M431.4 199.8h2.0v4.2h-2.0zM439.4 199.8h2.0v4.2h-2.0zM421.4 221.9h2.0v8.9h-2.0zM445.4 221.9h2.0v8.9h-2.0z"/><path fill="#8583d2" d="M433.4 199.8h6.0v4.2h-6.0zM429.4 204.0h2.0v5.0h-2.0zM441.4 204.0h2.0v5.0h-2.0zM427.4 209.0h2.0v6.0h-2.0zM425.4 215.0h2.0v6.9h-2.0zM427.4 221.9h2.0v8.9h-2.0z"/><path fill="#7d68c4" d="M431.4 204.0h2.0v5.0h-2.0zM439.4 204.0h2.0v5.0h-2.0zM441.4 221.9h2.0v8.9h-2.0z"/><path fill="#7858bc" d="M433.4 204.0h6.0v5.0h-6.0zM429.4 209.0h2.0v6.0h-2.0zM441.4 209.0h2.0v6.0h-2.0zM427.4 215.0h2.0v6.9h-2.0zM443.4 215.0h2.0v6.9h-2.0zM431.4 221.9h2.0v8.9h-2.0zM439.4 221.9h2.0v8.9h-2.0z"/><path fill="#6a30a0" d="M431.4 209.0h10.0v6.0h-10.0zM429.4 215.0h14.0v6.9h-14.0z"/><path fill="#8276cb" d="M443.4 209.0h2.0v6.0h-2.0zM421.4 215.0h2.0v6.9h-2.0zM445.4 215.0h2.0v6.9h-2.0zM429.4 221.9h2.0v8.9h-2.0zM443.4 221.9h2.0v8.9h-2.0z"/><path fill="#7348b4" d="M433.4 221.9h6.0v8.9h-6.0z"/></g></g>
<line x1="409.40" y1="18.50" x2="670.50" y2="18.50" stroke="#1a1a1a" stroke-width="1.1" />
<line x1="670.50" y1="18.50" x2="670.50" y2="230.80" stroke="#1a1a1a" stroke-width="1.1" />
<line x1="409.40" y1="18.50" x2="409.40" y2="231.30" stroke="#1a1a1a" stroke-width="1.3" />
<line x1="408.90" y1="230.80" x2="670.50" y2="230.80" stroke="#1a1a1a" stroke-width="1.3" />
<line x1="409.40" y1="230.80" x2="405.40" y2="230.80" stroke="#1a1a1a" stroke-width="1.1" />
<text x="401.8" y="235.8" font-size="14" text-anchor="end" fill="#1a1a1a" >0.1</text>
<line x1="409.40" y1="217.16" x2="407.20" y2="217.16" stroke="#1a1a1a" stroke-width="0.9" />
<line x1="409.40" y1="209.19" x2="407.20" y2="209.19" stroke="#1a1a1a" stroke-width="0.9" />
<line x1="409.40" y1="203.53" x2="407.20" y2="203.53" stroke="#1a1a1a" stroke-width="0.9" />
<line x1="409.40" y1="199.14" x2="407.20" y2="199.14" stroke="#1a1a1a" stroke-width="0.9" />
<line x1="409.40" y1="195.55" x2="407.20" y2="195.55" stroke="#1a1a1a" stroke-width="0.9" />
<line x1="409.40" y1="192.52" x2="407.20" y2="192.52" stroke="#1a1a1a" stroke-width="0.9" />
<line x1="409.40" y1="189.89" x2="407.20" y2="189.89" stroke="#1a1a1a" stroke-width="0.9" />
<line x1="409.40" y1="187.57" x2="407.20" y2="187.57" stroke="#1a1a1a" stroke-width="0.9" />
<line x1="409.40" y1="185.50" x2="405.40" y2="185.50" stroke="#1a1a1a" stroke-width="1.1" />
<text x="401.8" y="190.5" font-size="14" text-anchor="end" fill="#1a1a1a" >1</text>
<line x1="409.40" y1="171.86" x2="407.20" y2="171.86" stroke="#1a1a1a" stroke-width="0.9" />
<line x1="409.40" y1="163.89" x2="407.20" y2="163.89" stroke="#1a1a1a" stroke-width="0.9" />
<line x1="409.40" y1="158.23" x2="407.20" y2="158.23" stroke="#1a1a1a" stroke-width="0.9" />
<line x1="409.40" y1="153.84" x2="407.20" y2="153.84" stroke="#1a1a1a" stroke-width="0.9" />
<line x1="409.40" y1="150.25" x2="407.20" y2="150.25" stroke="#1a1a1a" stroke-width="0.9" />
<line x1="409.40" y1="147.22" x2="407.20" y2="147.22" stroke="#1a1a1a" stroke-width="0.9" />
<line x1="409.40" y1="144.59" x2="407.20" y2="144.59" stroke="#1a1a1a" stroke-width="0.9" />
<line x1="409.40" y1="142.27" x2="407.20" y2="142.27" stroke="#1a1a1a" stroke-width="0.9" />
<line x1="409.40" y1="140.20" x2="405.40" y2="140.20" stroke="#1a1a1a" stroke-width="1.1" />
<text x="401.8" y="145.2" font-size="14" text-anchor="end" fill="#1a1a1a" >10</text>
<line x1="409.40" y1="126.56" x2="407.20" y2="126.56" stroke="#1a1a1a" stroke-width="0.9" />
<line x1="409.40" y1="118.59" x2="407.20" y2="118.59" stroke="#1a1a1a" stroke-width="0.9" />
<line x1="409.40" y1="112.93" x2="407.20" y2="112.93" stroke="#1a1a1a" stroke-width="0.9" />
<line x1="409.40" y1="108.54" x2="407.20" y2="108.54" stroke="#1a1a1a" stroke-width="0.9" />
<line x1="409.40" y1="104.95" x2="407.20" y2="104.95" stroke="#1a1a1a" stroke-width="0.9" />
<line x1="409.40" y1="101.92" x2="407.20" y2="101.92" stroke="#1a1a1a" stroke-width="0.9" />
<line x1="409.40" y1="99.29" x2="407.20" y2="99.29" stroke="#1a1a1a" stroke-width="0.9" />
<line x1="409.40" y1="96.97" x2="407.20" y2="96.97" stroke="#1a1a1a" stroke-width="0.9" />
<line x1="409.40" y1="94.90" x2="405.40" y2="94.90" stroke="#1a1a1a" stroke-width="1.1" />
<text x="401.8" y="99.9" font-size="14" text-anchor="end" fill="#1a1a1a" >100</text>
<line x1="409.40" y1="81.26" x2="407.20" y2="81.26" stroke="#1a1a1a" stroke-width="0.9" />
<line x1="409.40" y1="73.29" x2="407.20" y2="73.29" stroke="#1a1a1a" stroke-width="0.9" />
<line x1="409.40" y1="67.63" x2="407.20" y2="67.63" stroke="#1a1a1a" stroke-width="0.9" />
<line x1="409.40" y1="63.24" x2="407.20" y2="63.24" stroke="#1a1a1a" stroke-width="0.9" />
<line x1="409.40" y1="59.65" x2="407.20" y2="59.65" stroke="#1a1a1a" stroke-width="0.9" />
<line x1="409.40" y1="56.62" x2="407.20" y2="56.62" stroke="#1a1a1a" stroke-width="0.9" />
<line x1="409.40" y1="53.99" x2="407.20" y2="53.99" stroke="#1a1a1a" stroke-width="0.9" />
<line x1="409.40" y1="51.67" x2="407.20" y2="51.67" stroke="#1a1a1a" stroke-width="0.9" />
<line x1="409.40" y1="49.60" x2="405.40" y2="49.60" stroke="#1a1a1a" stroke-width="1.1" />
<text x="401.8" y="54.6" font-size="14" text-anchor="end" fill="#1a1a1a" >1000</text>
<line x1="409.40" y1="35.96" x2="407.20" y2="35.96" stroke="#1a1a1a" stroke-width="0.9" />
<line x1="409.40" y1="27.99" x2="407.20" y2="27.99" stroke="#1a1a1a" stroke-width="0.9" />
<line x1="409.40" y1="22.33" x2="407.20" y2="22.33" stroke="#1a1a1a" stroke-width="0.9" />
<line x1="410.00" y1="230.80" x2="410.00" y2="234.80" stroke="#1a1a1a" stroke-width="1.1" />
<text x="410.0" y="249.3" font-size="14" text-anchor="middle" fill="#1a1a1a" >350</text>
<text x="454.0" y="249.3" font-size="14" text-anchor="middle" fill="#1a1a1a" >500</text>
<line x1="510.60" y1="230.80" x2="510.60" y2="234.80" stroke="#1a1a1a" stroke-width="1.1" />
<text x="510.6" y="249.3" font-size="14" text-anchor="middle" fill="#1a1a1a" >700</text>
<line x1="557.30" y1="230.80" x2="557.30" y2="234.80" stroke="#1a1a1a" stroke-width="1.1" />
<text x="557.3" y="249.3" font-size="14" text-anchor="middle" fill="#1a1a1a" >900</text>
<line x1="614.00" y1="230.80" x2="614.00" y2="234.80" stroke="#1a1a1a" stroke-width="1.1" />
<text x="614.0" y="249.3" font-size="14" text-anchor="middle" fill="#1a1a1a" >1100</text>
<line x1="670.60" y1="230.80" x2="670.60" y2="234.80" stroke="#1a1a1a" stroke-width="1.1" />
<text x="670.6" y="249.3" font-size="14" text-anchor="middle" fill="#1a1a1a" >1300</text>
<line x1="431.60" y1="230.80" x2="431.60" y2="233.00" stroke="#1a1a1a" stroke-width="1.0" />
<line x1="482.40" y1="230.80" x2="482.40" y2="233.00" stroke="#1a1a1a" stroke-width="1.0" />
<line x1="585.50" y1="230.80" x2="585.50" y2="233.00" stroke="#1a1a1a" stroke-width="1.0" />
<line x1="642.40" y1="230.80" x2="642.40" y2="233.00" stroke="#1a1a1a" stroke-width="1.0" />
<rect x="449.3" y="227.8" width="5.2" height="6" fill="#fff"/>
<line x1="447.50" y1="234.70" x2="451.50" y2="227.20" stroke="#1a1a1a" stroke-width="1.1" />
<line x1="452.50" y1="234.70" x2="456.50" y2="227.20" stroke="#1a1a1a" stroke-width="1.1" />
<rect x="539.0" y="227.8" width="5.2" height="6" fill="#fff"/>
<line x1="537.20" y1="234.70" x2="541.20" y2="227.20" stroke="#1a1a1a" stroke-width="1.1" />
<line x1="542.20" y1="234.70" x2="546.20" y2="227.20" stroke="#1a1a1a" stroke-width="1.1" />
<text x="540.6" y="274.4" font-size="16" text-anchor="middle" fill="#1a1a1a" >Wavelength (nm)</text>
<text transform="translate(364.3,123.8) rotate(-90)" font-size="16" text-anchor="middle" fill="#1a1a1a">Delay time (ps)</text>
<text x="341.0" y="19.2" font-size="25.5" text-anchor="start" fill="#111" >(b)</text>
<defs><linearGradient id="cbar" x1="0" y1="0" x2="0" y2="1"><stop offset="0.000" stop-color="#fa4646"/><stop offset="0.100" stop-color="#fc6a5e"/><stop offset="0.170" stop-color="#fc8a74"/><stop offset="0.220" stop-color="#fba486"/><stop offset="0.280" stop-color="#fcc49c"/><stop offset="0.335" stop-color="#fdd6b6"/><stop offset="0.393" stop-color="#fde4d0"/><stop offset="0.450" stop-color="#fef0e6"/><stop offset="0.500" stop-color="#ffffff"/><stop offset="0.535" stop-color="#f6f9fd"/><stop offset="0.610" stop-color="#e0ecfa"/><stop offset="0.670" stop-color="#c8e0f8"/><stop offset="0.730" stop-color="#a8d0fa"/><stop offset="0.780" stop-color="#8cc0f8"/><stop offset="0.820" stop-color="#8aa8e8"/><stop offset="0.880" stop-color="#8890d8"/><stop offset="0.930" stop-color="#8070c8"/><stop offset="0.990" stop-color="#7040b0"/><stop offset="1.000" stop-color="#6a30a0"/></linearGradient></defs>
<rect x="628.6" y="27.7" width="17.9" height="95.7" fill="url(#cbar)" stroke="#333" stroke-width="0.8"/>
<line x1="642.50" y1="75.50" x2="646.50" y2="75.50" stroke="#333" stroke-width="0.9" />
<text x="651.5" y="32.5" font-size="14" text-anchor="start" fill="#1a1a1a" >5</text>
<text x="651.5" y="80.5" font-size="14" text-anchor="start" fill="#1a1a1a" >0</text>
<text x="650.0" y="129.3" font-size="14" text-anchor="start" fill="#1a1a1a" >-5</text>
<text transform="translate(623.2,78) rotate(-90)" font-size="14" text-anchor="middle" fill="#1a1a1a">Δ<tspan font-style="italic">A</tspan> (mOD)</text>
<line x1="64.40" y1="306.40" x2="328.20" y2="306.40" stroke="#333" stroke-width="1.1" />
<line x1="328.20" y1="306.40" x2="328.20" y2="518.40" stroke="#444" stroke-width="1.1" />
<line x1="64.40" y1="306.40" x2="64.40" y2="518.90" stroke="#1a1a1a" stroke-width="1.3" />
<line x1="63.90" y1="518.40" x2="328.20" y2="518.40" stroke="#1a1a1a" stroke-width="1.3" />
<line x1="64.40" y1="518.40" x2="64.40" y2="522.40" stroke="#1a1a1a" stroke-width="1.1" />
<text x="64.4" y="537.3" font-size="14" text-anchor="middle" fill="#1a1a1a" >0.1</text>
<line x1="81.32" y1="518.40" x2="81.32" y2="520.60" stroke="#1a1a1a" stroke-width="0.9" />
<line x1="91.21" y1="518.40" x2="91.21" y2="520.60" stroke="#1a1a1a" stroke-width="0.9" />
<line x1="98.24" y1="518.40" x2="98.24" y2="520.60" stroke="#1a1a1a" stroke-width="0.9" />
<line x1="103.68" y1="518.40" x2="103.68" y2="520.60" stroke="#1a1a1a" stroke-width="0.9" />
<line x1="108.13" y1="518.40" x2="108.13" y2="520.60" stroke="#1a1a1a" stroke-width="0.9" />
<line x1="111.89" y1="518.40" x2="111.89" y2="520.60" stroke="#1a1a1a" stroke-width="0.9" />
<line x1="115.15" y1="518.40" x2="115.15" y2="520.60" stroke="#1a1a1a" stroke-width="0.9" />
<line x1="118.03" y1="518.40" x2="118.03" y2="520.60" stroke="#1a1a1a" stroke-width="0.9" />
<line x1="120.60" y1="518.40" x2="120.60" y2="522.40" stroke="#1a1a1a" stroke-width="1.1" />
<text x="120.6" y="537.3" font-size="14" text-anchor="middle" fill="#1a1a1a" >1</text>
<line x1="137.52" y1="518.40" x2="137.52" y2="520.60" stroke="#1a1a1a" stroke-width="0.9" />
<line x1="147.41" y1="518.40" x2="147.41" y2="520.60" stroke="#1a1a1a" stroke-width="0.9" />
<line x1="154.44" y1="518.40" x2="154.44" y2="520.60" stroke="#1a1a1a" stroke-width="0.9" />
<line x1="159.88" y1="518.40" x2="159.88" y2="520.60" stroke="#1a1a1a" stroke-width="0.9" />
<line x1="164.33" y1="518.40" x2="164.33" y2="520.60" stroke="#1a1a1a" stroke-width="0.9" />
<line x1="168.09" y1="518.40" x2="168.09" y2="520.60" stroke="#1a1a1a" stroke-width="0.9" />
<line x1="171.35" y1="518.40" x2="171.35" y2="520.60" stroke="#1a1a1a" stroke-width="0.9" />
<line x1="174.23" y1="518.40" x2="174.23" y2="520.60" stroke="#1a1a1a" stroke-width="0.9" />
<line x1="176.80" y1="518.40" x2="176.80" y2="522.40" stroke="#1a1a1a" stroke-width="1.1" />
<text x="176.8" y="537.3" font-size="14" text-anchor="middle" fill="#1a1a1a" >10</text>
<line x1="193.72" y1="518.40" x2="193.72" y2="520.60" stroke="#1a1a1a" stroke-width="0.9" />
<line x1="203.61" y1="518.40" x2="203.61" y2="520.60" stroke="#1a1a1a" stroke-width="0.9" />
<line x1="210.64" y1="518.40" x2="210.64" y2="520.60" stroke="#1a1a1a" stroke-width="0.9" />
<line x1="216.08" y1="518.40" x2="216.08" y2="520.60" stroke="#1a1a1a" stroke-width="0.9" />
<line x1="220.53" y1="518.40" x2="220.53" y2="520.60" stroke="#1a1a1a" stroke-width="0.9" />
<line x1="224.29" y1="518.40" x2="224.29" y2="520.60" stroke="#1a1a1a" stroke-width="0.9" />
<line x1="227.55" y1="518.40" x2="227.55" y2="520.60" stroke="#1a1a1a" stroke-width="0.9" />
<line x1="230.43" y1="518.40" x2="230.43" y2="520.60" stroke="#1a1a1a" stroke-width="0.9" />
<line x1="233.00" y1="518.40" x2="233.00" y2="522.40" stroke="#1a1a1a" stroke-width="1.1" />
<text x="233.0" y="537.3" font-size="14" text-anchor="middle" fill="#1a1a1a" >100</text>
<line x1="249.92" y1="518.40" x2="249.92" y2="520.60" stroke="#1a1a1a" stroke-width="0.9" />
<line x1="259.81" y1="518.40" x2="259.81" y2="520.60" stroke="#1a1a1a" stroke-width="0.9" />
<line x1="266.84" y1="518.40" x2="266.84" y2="520.60" stroke="#1a1a1a" stroke-width="0.9" />
<line x1="272.28" y1="518.40" x2="272.28" y2="520.60" stroke="#1a1a1a" stroke-width="0.9" />
<line x1="276.73" y1="518.40" x2="276.73" y2="520.60" stroke="#1a1a1a" stroke-width="0.9" />
<line x1="280.49" y1="518.40" x2="280.49" y2="520.60" stroke="#1a1a1a" stroke-width="0.9" />
<line x1="283.75" y1="518.40" x2="283.75" y2="520.60" stroke="#1a1a1a" stroke-width="0.9" />
<line x1="286.63" y1="518.40" x2="286.63" y2="520.60" stroke="#1a1a1a" stroke-width="0.9" />
<line x1="289.20" y1="518.40" x2="289.20" y2="522.40" stroke="#1a1a1a" stroke-width="1.1" />
<text x="289.2" y="537.3" font-size="14" text-anchor="middle" fill="#1a1a1a" >1000</text>
<line x1="306.12" y1="518.40" x2="306.12" y2="520.60" stroke="#1a1a1a" stroke-width="0.9" />
<line x1="316.01" y1="518.40" x2="316.01" y2="520.60" stroke="#1a1a1a" stroke-width="0.9" />
<line x1="323.04" y1="518.40" x2="323.04" y2="520.60" stroke="#1a1a1a" stroke-width="0.9" />
<line x1="64.40" y1="501.00" x2="60.40" y2="501.00" stroke="#1a1a1a" stroke-width="1.1" />
<text x="57.8" y="506.0" font-size="14" text-anchor="end" fill="#1a1a1a" >0.0</text>
<line x1="64.40" y1="483.34" x2="62.20" y2="483.34" stroke="#1a1a1a" stroke-width="1.1" />
<line x1="64.40" y1="465.68" x2="60.40" y2="465.68" stroke="#1a1a1a" stroke-width="1.1" />
<text x="57.8" y="470.7" font-size="14" text-anchor="end" fill="#1a1a1a" >0.2</text>
<line x1="64.40" y1="448.02" x2="62.20" y2="448.02" stroke="#1a1a1a" stroke-width="1.1" />
<line x1="64.40" y1="430.36" x2="60.40" y2="430.36" stroke="#1a1a1a" stroke-width="1.1" />
<text x="57.8" y="435.4" font-size="14" text-anchor="end" fill="#1a1a1a" >0.4</text>
<line x1="64.40" y1="412.70" x2="62.20" y2="412.70" stroke="#1a1a1a" stroke-width="1.1" />
<line x1="64.40" y1="395.04" x2="60.40" y2="395.04" stroke="#1a1a1a" stroke-width="1.1" />
<text x="57.8" y="400.0" font-size="14" text-anchor="end" fill="#1a1a1a" >0.6</text>
<line x1="64.40" y1="377.38" x2="62.20" y2="377.38" stroke="#1a1a1a" stroke-width="1.1" />
<line x1="64.40" y1="359.72" x2="60.40" y2="359.72" stroke="#1a1a1a" stroke-width="1.1" />
<text x="57.8" y="364.7" font-size="14" text-anchor="end" fill="#1a1a1a" >0.8</text>
<line x1="64.40" y1="342.06" x2="62.20" y2="342.06" stroke="#1a1a1a" stroke-width="1.1" />
<line x1="64.40" y1="324.40" x2="60.40" y2="324.40" stroke="#1a1a1a" stroke-width="1.1" />
<text x="57.8" y="329.4" font-size="14" text-anchor="end" fill="#1a1a1a" >1.0</text>
<line x1="64.40" y1="306.74" x2="62.20" y2="306.74" stroke="#1a1a1a" stroke-width="1.1" />
<text x="196.8" y="561.2" font-size="16" text-anchor="middle" fill="#1a1a1a" >Delay time (ps)</text>
<text transform="translate(24.4,412.5) rotate(-90)" font-size="16" text-anchor="middle" fill="#1a1a1a">Intensity (norm.)</text>
<text x="0.0" y="294.6" font-size="25.5" text-anchor="start" fill="#111" >(c)</text>
<g clip-path="url(#clipc)">
<circle cx="64.4" cy="337.2" r="3.4" fill="#fbe3e3" fill-opacity="0.75" stroke="#e98585" stroke-width="0.9"/>
<circle cx="81.3" cy="370.3" r="3.4" fill="#fbe3e3" fill-opacity="0.75" stroke="#e98585" stroke-width="0.9"/>
<circle cx="91.2" cy="389.6" r="3.4" fill="#fbe3e3" fill-opacity="0.75" stroke="#e98585" stroke-width="0.9"/>
<circle cx="98.2" cy="406.9" r="3.4" fill="#fbe3e3" fill-opacity="0.75" stroke="#e98585" stroke-width="0.9"/>
<circle cx="103.7" cy="417.3" r="3.4" fill="#fbe3e3" fill-opacity="0.75" stroke="#e98585" stroke-width="0.9"/>
<circle cx="108.1" cy="428.8" r="3.4" fill="#fbe3e3" fill-opacity="0.75" stroke="#e98585" stroke-width="0.9"/>
<circle cx="111.9" cy="426.1" r="3.4" fill="#fbe3e3" fill-opacity="0.75" stroke="#e98585" stroke-width="0.9"/>
<circle cx="115.2" cy="430.5" r="3.4" fill="#fbe3e3" fill-opacity="0.75" stroke="#e98585" stroke-width="0.9"/>
<circle cx="118.0" cy="437.6" r="3.4" fill="#fbe3e3" fill-opacity="0.75" stroke="#e98585" stroke-width="0.9"/>
<circle cx="120.6" cy="439.2" r="3.4" fill="#fbe3e3" fill-opacity="0.75" stroke="#e98585" stroke-width="0.9"/>
<circle cx="122.6" cy="452.2" r="3.4" fill="#fbe3e3" fill-opacity="0.75" stroke="#e98585" stroke-width="0.9"/>
<circle cx="124.6" cy="442.1" r="3.4" fill="#fbe3e3" fill-opacity="0.75" stroke="#e98585" stroke-width="0.9"/>
<circle cx="126.6" cy="446.9" r="3.4" fill="#fbe3e3" fill-opacity="0.75" stroke="#e98585" stroke-width="0.9"/>
<circle cx="128.6" cy="445.1" r="3.4" fill="#fbe3e3" fill-opacity="0.75" stroke="#e98585" stroke-width="0.9"/>
<circle cx="130.6" cy="444.8" r="3.4" fill="#fbe3e3" fill-opacity="0.75" stroke="#e98585" stroke-width="0.9"/>
<circle cx="132.5" cy="450.8" r="3.4" fill="#fbe3e3" fill-opacity="0.75" stroke="#e98585" stroke-width="0.9"/>
<circle cx="134.5" cy="458.7" r="3.4" fill="#fbe3e3" fill-opacity="0.75" stroke="#e98585" stroke-width="0.9"/>
<circle cx="136.5" cy="448.9" r="3.4" fill="#fbe3e3" fill-opacity="0.75" stroke="#e98585" stroke-width="0.9"/>
<circle cx="138.5" cy="455.8" r="3.4" fill="#fbe3e3" fill-opacity="0.75" stroke="#e98585" stroke-width="0.9"/>
<circle cx="140.5" cy="454.6" r="3.4" fill="#fbe3e3" fill-opacity="0.75" stroke="#e98585" stroke-width="0.9"/>
<circle cx="142.5" cy="457.2" r="3.4" fill="#fbe3e3" fill-opacity="0.75" stroke="#e98585" stroke-width="0.9"/>
<circle cx="144.5" cy="456.7" r="3.4" fill="#fbe3e3" fill-opacity="0.75" stroke="#e98585" stroke-width="0.9"/>
<circle cx="146.5" cy="469.6" r="3.4" fill="#fbe3e3" fill-opacity="0.75" stroke="#e98585" stroke-width="0.9"/>
<circle cx="148.5" cy="449.3" r="3.4" fill="#fbe3e3" fill-opacity="0.75" stroke="#e98585" stroke-width="0.9"/>
<circle cx="150.5" cy="456.3" r="3.4" fill="#fbe3e3" fill-opacity="0.75" stroke="#e98585" stroke-width="0.9"/>
<circle cx="152.5" cy="452.2" r="3.4" fill="#fbe3e3" fill-opacity="0.75" stroke="#e98585" stroke-width="0.9"/>
<circle cx="154.4" cy="448.0" r="3.4" fill="#fbe3e3" fill-opacity="0.75" stroke="#e98585" stroke-width="0.9"/>
<circle cx="156.4" cy="461.2" r="3.4" fill="#fbe3e3" fill-opacity="0.75" stroke="#e98585" stroke-width="0.9"/>
<circle cx="158.4" cy="473.7" r="3.4" fill="#fbe3e3" fill-opacity="0.75" stroke="#e98585" stroke-width="0.9"/>
<circle cx="160.4" cy="469.3" r="3.4" fill="#fbe3e3" fill-opacity="0.75" stroke="#e98585" stroke-width="0.9"/>
<circle cx="162.4" cy="472.5" r="3.4" fill="#fbe3e3" fill-opacity="0.75" stroke="#e98585" stroke-width="0.9"/>
<circle cx="164.4" cy="469.3" r="3.4" fill="#fbe3e3" fill-opacity="0.75" stroke="#e98585" stroke-width="0.9"/>
<circle cx="166.4" cy="466.9" r="3.4" fill="#fbe3e3" fill-opacity="0.75" stroke="#e98585" stroke-width="0.9"/>
<circle cx="168.4" cy="480.9" r="3.4" fill="#fbe3e3" fill-opacity="0.75" stroke="#e98585" stroke-width="0.9"/>
<circle cx="170.4" cy="467.6" r="3.4" fill="#fbe3e3" fill-opacity="0.75" stroke="#e98585" stroke-width="0.9"/>
<circle cx="172.4" cy="480.1" r="3.4" fill="#fbe3e3" fill-opacity="0.75" stroke="#e98585" stroke-width="0.9"/>
<circle cx="174.4" cy="470.0" r="3.4" fill="#fbe3e3" fill-opacity="0.75" stroke="#e98585" stroke-width="0.9"/>
<circle cx="176.4" cy="473.5" r="3.4" fill="#fbe3e3" fill-opacity="0.75" stroke="#e98585" stroke-width="0.9"/>
<circle cx="178.3" cy="475.7" r="3.4" fill="#fbe3e3" fill-opacity="0.75" stroke="#e98585" stroke-width="0.9"/>
<circle cx="180.3" cy="475.0" r="3.4" fill="#fbe3e3" fill-opacity="0.75" stroke="#e98585" stroke-width="0.9"/>
<circle cx="182.3" cy="478.7" r="3.4" fill="#fbe3e3" fill-opacity="0.75" stroke="#e98585" stroke-width="0.9"/>
<circle cx="184.3" cy="479.8" r="3.4" fill="#fbe3e3" fill-opacity="0.75" stroke="#e98585" stroke-width="0.9"/>
<circle cx="186.3" cy="487.0" r="3.4" fill="#fbe3e3" fill-opacity="0.75" stroke="#e98585" stroke-width="0.9"/>
<circle cx="188.3" cy="477.4" r="3.4" fill="#fbe3e3" fill-opacity="0.75" stroke="#e98585" stroke-width="0.9"/>
<circle cx="190.3" cy="466.2" r="3.4" fill="#fbe3e3" fill-opacity="0.75" stroke="#e98585" stroke-width="0.9"/>
<circle cx="192.3" cy="465.8" r="3.4" fill="#fbe3e3" fill-opacity="0.75" stroke="#e98585" stroke-width="0.9"/>
<circle cx="194.3" cy="470.2" r="3.4" fill="#fbe3e3" fill-opacity="0.75" stroke="#e98585" stroke-width="0.9"/>
<circle cx="196.3" cy="474.3" r="3.4" fill="#fbe3e3" fill-opacity="0.75" stroke="#e98585" stroke-width="0.9"/>
<circle cx="198.3" cy="483.1" r="3.4" fill="#fbe3e3" fill-opacity="0.75" stroke="#e98585" stroke-width="0.9"/>
<circle cx="200.2" cy="470.2" r="3.4" fill="#fbe3e3" fill-opacity="0.75" stroke="#e98585" stroke-width="0.9"/>
<circle cx="202.2" cy="479.7" r="3.4" fill="#fbe3e3" fill-opacity="0.75" stroke="#e98585" stroke-width="0.9"/>
<circle cx="204.2" cy="480.0" r="3.4" fill="#fbe3e3" fill-opacity="0.75" stroke="#e98585" stroke-width="0.9"/>
<circle cx="206.2" cy="481.5" r="3.4" fill="#fbe3e3" fill-opacity="0.75" stroke="#e98585" stroke-width="0.9"/>
<circle cx="208.2" cy="479.3" r="3.4" fill="#fbe3e3" fill-opacity="0.75" stroke="#e98585" stroke-width="0.9"/>
<circle cx="210.2" cy="482.7" r="3.4" fill="#fbe3e3" fill-opacity="0.75" stroke="#e98585" stroke-width="0.9"/>
<circle cx="212.2" cy="480.7" r="3.4" fill="#fbe3e3" fill-opacity="0.75" stroke="#e98585" stroke-width="0.9"/>
<circle cx="214.2" cy="487.0" r="3.4" fill="#fbe3e3" fill-opacity="0.75" stroke="#e98585" stroke-width="0.9"/>
<circle cx="216.2" cy="482.8" r="3.4" fill="#fbe3e3" fill-opacity="0.75" stroke="#e98585" stroke-width="0.9"/>
<circle cx="218.2" cy="466.6" r="3.4" fill="#fbe3e3" fill-opacity="0.75" stroke="#e98585" stroke-width="0.9"/>
<circle cx="220.2" cy="481.4" r="3.4" fill="#fbe3e3" fill-opacity="0.75" stroke="#e98585" stroke-width="0.9"/>
<circle cx="222.1" cy="482.6" r="3.4" fill="#fbe3e3" fill-opacity="0.75" stroke="#e98585" stroke-width="0.9"/>
<circle cx="224.1" cy="478.1" r="3.4" fill="#fbe3e3" fill-opacity="0.75" stroke="#e98585" stroke-width="0.9"/>
<circle cx="226.1" cy="477.2" r="3.4" fill="#fbe3e3" fill-opacity="0.75" stroke="#e98585" stroke-width="0.9"/>
<circle cx="228.1" cy="488.8" r="3.4" fill="#fbe3e3" fill-opacity="0.75" stroke="#e98585" stroke-width="0.9"/>
<circle cx="230.1" cy="483.4" r="3.4" fill="#fbe3e3" fill-opacity="0.75" stroke="#e98585" stroke-width="0.9"/>
<circle cx="232.1" cy="476.8" r="3.4" fill="#fbe3e3" fill-opacity="0.75" stroke="#e98585" stroke-width="0.9"/>
<circle cx="234.1" cy="481.1" r="3.4" fill="#fbe3e3" fill-opacity="0.75" stroke="#e98585" stroke-width="0.9"/>
<circle cx="236.1" cy="482.3" r="3.4" fill="#fbe3e3" fill-opacity="0.75" stroke="#e98585" stroke-width="0.9"/>
<circle cx="238.1" cy="473.8" r="3.4" fill="#fbe3e3" fill-opacity="0.75" stroke="#e98585" stroke-width="0.9"/>
<circle cx="240.1" cy="488.0" r="3.4" fill="#fbe3e3" fill-opacity="0.75" stroke="#e98585" stroke-width="0.9"/>
<circle cx="242.1" cy="483.7" r="3.4" fill="#fbe3e3" fill-opacity="0.75" stroke="#e98585" stroke-width="0.9"/>
<circle cx="244.1" cy="487.8" r="3.4" fill="#fbe3e3" fill-opacity="0.75" stroke="#e98585" stroke-width="0.9"/>
<circle cx="246.0" cy="475.8" r="3.4" fill="#fbe3e3" fill-opacity="0.75" stroke="#e98585" stroke-width="0.9"/>
<circle cx="248.0" cy="497.5" r="3.4" fill="#fbe3e3" fill-opacity="0.75" stroke="#e98585" stroke-width="0.9"/>
<circle cx="250.0" cy="490.0" r="3.4" fill="#fbe3e3" fill-opacity="0.75" stroke="#e98585" stroke-width="0.9"/>
<circle cx="252.0" cy="489.6" r="3.4" fill="#fbe3e3" fill-opacity="0.75" stroke="#e98585" stroke-width="0.9"/>
<circle cx="254.0" cy="482.7" r="3.4" fill="#fbe3e3" fill-opacity="0.75" stroke="#e98585" stroke-width="0.9"/>
<circle cx="256.0" cy="483.5" r="3.4" fill="#fbe3e3" fill-opacity="0.75" stroke="#e98585" stroke-width="0.9"/>
<circle cx="258.0" cy="479.1" r="3.4" fill="#fbe3e3" fill-opacity="0.75" stroke="#e98585" stroke-width="0.9"/>
<circle cx="260.0" cy="498.0" r="3.4" fill="#fbe3e3" fill-opacity="0.75" stroke="#e98585" stroke-width="0.9"/>
<circle cx="262.0" cy="484.1" r="3.4" fill="#fbe3e3" fill-opacity="0.75" stroke="#e98585" stroke-width="0.9"/>
<circle cx="264.0" cy="491.0" r="3.4" fill="#fbe3e3" fill-opacity="0.75" stroke="#e98585" stroke-width="0.9"/>
<circle cx="266.0" cy="493.8" r="3.4" fill="#fbe3e3" fill-opacity="0.75" stroke="#e98585" stroke-width="0.9"/>
<circle cx="267.9" cy="486.8" r="3.4" fill="#fbe3e3" fill-opacity="0.75" stroke="#e98585" stroke-width="0.9"/>
<circle cx="269.9" cy="496.3" r="3.4" fill="#fbe3e3" fill-opacity="0.75" stroke="#e98585" stroke-width="0.9"/>
<circle cx="271.9" cy="503.9" r="3.4" fill="#fbe3e3" fill-opacity="0.75" stroke="#e98585" stroke-width="0.9"/>
<circle cx="273.9" cy="493.8" r="3.4" fill="#fbe3e3" fill-opacity="0.75" stroke="#e98585" stroke-width="0.9"/>
<circle cx="275.9" cy="501.1" r="3.4" fill="#fbe3e3" fill-opacity="0.75" stroke="#e98585" stroke-width="0.9"/>
<circle cx="277.9" cy="496.2" r="3.4" fill="#fbe3e3" fill-opacity="0.75" stroke="#e98585" stroke-width="0.9"/>
<circle cx="279.9" cy="490.3" r="3.4" fill="#fbe3e3" fill-opacity="0.75" stroke="#e98585" stroke-width="0.9"/>
<circle cx="281.9" cy="490.9" r="3.4" fill="#fbe3e3" fill-opacity="0.75" stroke="#e98585" stroke-width="0.9"/>
<circle cx="283.9" cy="483.3" r="3.4" fill="#fbe3e3" fill-opacity="0.75" stroke="#e98585" stroke-width="0.9"/>
<circle cx="285.9" cy="494.6" r="3.4" fill="#fbe3e3" fill-opacity="0.75" stroke="#e98585" stroke-width="0.9"/>
<circle cx="287.9" cy="503.1" r="3.4" fill="#fbe3e3" fill-opacity="0.75" stroke="#e98585" stroke-width="0.9"/>
<circle cx="289.8" cy="498.4" r="3.4" fill="#fbe3e3" fill-opacity="0.75" stroke="#e98585" stroke-width="0.9"/>
<circle cx="291.8" cy="499.6" r="3.4" fill="#fbe3e3" fill-opacity="0.75" stroke="#e98585" stroke-width="0.9"/>
<circle cx="293.8" cy="501.5" r="3.4" fill="#fbe3e3" fill-opacity="0.75" stroke="#e98585" stroke-width="0.9"/>
<circle cx="295.8" cy="491.4" r="3.4" fill="#fbe3e3" fill-opacity="0.75" stroke="#e98585" stroke-width="0.9"/>
<circle cx="297.8" cy="498.2" r="3.4" fill="#fbe3e3" fill-opacity="0.75" stroke="#e98585" stroke-width="0.9"/>
<circle cx="299.8" cy="506.4" r="3.4" fill="#fbe3e3" fill-opacity="0.75" stroke="#e98585" stroke-width="0.9"/>
<circle cx="301.8" cy="489.9" r="3.4" fill="#fbe3e3" fill-opacity="0.75" stroke="#e98585" stroke-width="0.9"/>
<circle cx="303.8" cy="495.0" r="3.4" fill="#fbe3e3" fill-opacity="0.75" stroke="#e98585" stroke-width="0.9"/>
<circle cx="305.8" cy="492.1" r="3.4" fill="#fbe3e3" fill-opacity="0.75" stroke="#e98585" stroke-width="0.9"/>
<circle cx="307.8" cy="493.7" r="3.4" fill="#fbe3e3" fill-opacity="0.75" stroke="#e98585" stroke-width="0.9"/>
<circle cx="309.8" cy="490.4" r="3.4" fill="#fbe3e3" fill-opacity="0.75" stroke="#e98585" stroke-width="0.9"/>
<circle cx="311.8" cy="494.1" r="3.4" fill="#fbe3e3" fill-opacity="0.75" stroke="#e98585" stroke-width="0.9"/>
<circle cx="313.7" cy="486.7" r="3.4" fill="#fbe3e3" fill-opacity="0.75" stroke="#e98585" stroke-width="0.9"/>
<circle cx="315.7" cy="491.7" r="3.4" fill="#fbe3e3" fill-opacity="0.75" stroke="#e98585" stroke-width="0.9"/>
<circle cx="317.7" cy="491.9" r="3.4" fill="#fbe3e3" fill-opacity="0.75" stroke="#e98585" stroke-width="0.9"/>
<circle cx="319.7" cy="491.8" r="3.4" fill="#fbe3e3" fill-opacity="0.75" stroke="#e98585" stroke-width="0.9"/>
<circle cx="321.7" cy="503.3" r="3.4" fill="#fbe3e3" fill-opacity="0.75" stroke="#e98585" stroke-width="0.9"/>
<circle cx="323.7" cy="495.3" r="3.4" fill="#fbe3e3" fill-opacity="0.75" stroke="#e98585" stroke-width="0.9"/>
<circle cx="325.7" cy="495.9" r="3.4" fill="#fbe3e3" fill-opacity="0.75" stroke="#e98585" stroke-width="0.9"/>
<circle cx="327.7" cy="493.0" r="3.4" fill="#fbe3e3" fill-opacity="0.75" stroke="#e98585" stroke-width="0.9"/>
<circle cx="64.4" cy="324.9" r="3.4" fill="#cdeac0" fill-opacity="0.75" stroke="#a6dc8e" stroke-width="0.9"/>
<circle cx="81.3" cy="322.9" r="3.4" fill="#cdeac0" fill-opacity="0.75" stroke="#a6dc8e" stroke-width="0.9"/>
<circle cx="91.2" cy="325.9" r="3.4" fill="#cdeac0" fill-opacity="0.75" stroke="#a6dc8e" stroke-width="0.9"/>
<circle cx="98.2" cy="328.8" r="3.4" fill="#cdeac0" fill-opacity="0.75" stroke="#a6dc8e" stroke-width="0.9"/>
<circle cx="103.7" cy="331.0" r="3.4" fill="#cdeac0" fill-opacity="0.75" stroke="#a6dc8e" stroke-width="0.9"/>
<circle cx="108.1" cy="330.1" r="3.4" fill="#cdeac0" fill-opacity="0.75" stroke="#a6dc8e" stroke-width="0.9"/>
<circle cx="111.9" cy="331.0" r="3.4" fill="#cdeac0" fill-opacity="0.75" stroke="#a6dc8e" stroke-width="0.9"/>
<circle cx="115.2" cy="333.3" r="3.4" fill="#cdeac0" fill-opacity="0.75" stroke="#a6dc8e" stroke-width="0.9"/>
<circle cx="118.0" cy="332.9" r="3.4" fill="#cdeac0" fill-opacity="0.75" stroke="#a6dc8e" stroke-width="0.9"/>
<circle cx="120.6" cy="335.6" r="3.4" fill="#cdeac0" fill-opacity="0.75" stroke="#a6dc8e" stroke-width="0.9"/>
<circle cx="122.6" cy="333.9" r="3.4" fill="#cdeac0" fill-opacity="0.75" stroke="#a6dc8e" stroke-width="0.9"/>
<circle cx="124.6" cy="337.8" r="3.4" fill="#cdeac0" fill-opacity="0.75" stroke="#a6dc8e" stroke-width="0.9"/>
<circle cx="126.6" cy="337.3" r="3.4" fill="#cdeac0" fill-opacity="0.75" stroke="#a6dc8e" stroke-width="0.9"/>
<circle cx="128.6" cy="335.9" r="3.4" fill="#cdeac0" fill-opacity="0.75" stroke="#a6dc8e" stroke-width="0.9"/>
<circle cx="130.6" cy="333.1" r="3.4" fill="#cdeac0" fill-opacity="0.75" stroke="#a6dc8e" stroke-width="0.9"/>
<circle cx="132.5" cy="343.4" r="3.4" fill="#cdeac0" fill-opacity="0.75" stroke="#a6dc8e" stroke-width="0.9"/>
<circle cx="134.5" cy="343.3" r="3.4" fill="#cdeac0" fill-opacity="0.75" stroke="#a6dc8e" stroke-width="0.9"/>
<circle cx="136.5" cy="345.8" r="3.4" fill="#cdeac0" fill-opacity="0.75" stroke="#a6dc8e" stroke-width="0.9"/>
<circle cx="138.5" cy="342.8" r="3.4" fill="#cdeac0" fill-opacity="0.75" stroke="#a6dc8e" stroke-width="0.9"/>
<circle cx="140.5" cy="349.9" r="3.4" fill="#cdeac0" fill-opacity="0.75" stroke="#a6dc8e" stroke-width="0.9"/>
<circle cx="142.5" cy="349.7" r="3.4" fill="#cdeac0" fill-opacity="0.75" stroke="#a6dc8e" stroke-width="0.9"/>
<circle cx="144.5" cy="350.1" r="3.4" fill="#cdeac0" fill-opacity="0.75" stroke="#a6dc8e" stroke-width="0.9"/>
<circle cx="146.5" cy="354.8" r="3.4" fill="#cdeac0" fill-opacity="0.75" stroke="#a6dc8e" stroke-width="0.9"/>
<circle cx="148.5" cy="356.7" r="3.4" fill="#cdeac0" fill-opacity="0.75" stroke="#a6dc8e" stroke-width="0.9"/>
<circle cx="150.5" cy="357.2" r="3.4" fill="#cdeac0" fill-opacity="0.75" stroke="#a6dc8e" stroke-width="0.9"/>
<circle cx="152.5" cy="364.4" r="3.4" fill="#cdeac0" fill-opacity="0.75" stroke="#a6dc8e" stroke-width="0.9"/>
<circle cx="154.4" cy="364.4" r="3.4" fill="#cdeac0" fill-opacity="0.75" stroke="#a6dc8e" stroke-width="0.9"/>
<circle cx="156.4" cy="363.2" r="3.4" fill="#cdeac0" fill-opacity="0.75" stroke="#a6dc8e" stroke-width="0.9"/>
<circle cx="158.4" cy="363.6" r="3.4" fill="#cdeac0" fill-opacity="0.75" stroke="#a6dc8e" stroke-width="0.9"/>
<circle cx="160.4" cy="366.9" r="3.4" fill="#cdeac0" fill-opacity="0.75" stroke="#a6dc8e" stroke-width="0.9"/>
<circle cx="162.4" cy="374.2" r="3.4" fill="#cdeac0" fill-opacity="0.75" stroke="#a6dc8e" stroke-width="0.9"/>
<circle cx="164.4" cy="372.3" r="3.4" fill="#cdeac0" fill-opacity="0.75" stroke="#a6dc8e" stroke-width="0.9"/>
<circle cx="166.4" cy="370.6" r="3.4" fill="#cdeac0" fill-opacity="0.75" stroke="#a6dc8e" stroke-width="0.9"/>
<circle cx="168.4" cy="373.6" r="3.4" fill="#cdeac0" fill-opacity="0.75" stroke="#a6dc8e" stroke-width="0.9"/>
<circle cx="170.4" cy="377.9" r="3.4" fill="#cdeac0" fill-opacity="0.75" stroke="#a6dc8e" stroke-width="0.9"/>
<circle cx="172.4" cy="382.7" r="3.4" fill="#cdeac0" fill-opacity="0.75" stroke="#a6dc8e" stroke-width="0.9"/>
<circle cx="174.4" cy="380.0" r="3.4" fill="#cdeac0" fill-opacity="0.75" stroke="#a6dc8e" stroke-width="0.9"/>
<circle cx="176.4" cy="386.0" r="3.4" fill="#cdeac0" fill-opacity="0.75" stroke="#a6dc8e" stroke-width="0.9"/>
<circle cx="178.3" cy="390.0" r="3.4" fill="#cdeac0" fill-opacity="0.75" stroke="#a6dc8e" stroke-width="0.9"/>
<circle cx="180.3" cy="390.8" r="3.4" fill="#cdeac0" fill-opacity="0.75" stroke="#a6dc8e" stroke-width="0.9"/>
<circle cx="182.3" cy="385.6" r="3.4" fill="#cdeac0" fill-opacity="0.75" stroke="#a6dc8e" stroke-width="0.9"/>
<circle cx="184.3" cy="391.4" r="3.4" fill="#cdeac0" fill-opacity="0.75" stroke="#a6dc8e" stroke-width="0.9"/>
<circle cx="186.3" cy="390.3" r="3.4" fill="#cdeac0" fill-opacity="0.75" stroke="#a6dc8e" stroke-width="0.9"/>
<circle cx="188.3" cy="397.2" r="3.4" fill="#cdeac0" fill-opacity="0.75" stroke="#a6dc8e" stroke-width="0.9"/>
<circle cx="190.3" cy="394.5" r="3.4" fill="#cdeac0" fill-opacity="0.75" stroke="#a6dc8e" stroke-width="0.9"/>
<circle cx="192.3" cy="401.0" r="3.4" fill="#cdeac0" fill-opacity="0.75" stroke="#a6dc8e" stroke-width="0.9"/>
<circle cx="194.3" cy="401.3" r="3.4" fill="#cdeac0" fill-opacity="0.75" stroke="#a6dc8e" stroke-width="0.9"/>
<circle cx="196.3" cy="394.5" r="3.4" fill="#cdeac0" fill-opacity="0.75" stroke="#a6dc8e" stroke-width="0.9"/>
<circle cx="198.3" cy="401.6" r="3.4" fill="#cdeac0" fill-opacity="0.75" stroke="#a6dc8e" stroke-width="0.9"/>
<circle cx="200.2" cy="407.2" r="3.4" fill="#cdeac0" fill-opacity="0.75" stroke="#a6dc8e" stroke-width="0.9"/>
<circle cx="202.2" cy="407.5" r="3.4" fill="#cdeac0" fill-opacity="0.75" stroke="#a6dc8e" stroke-width="0.9"/>
<circle cx="204.2" cy="407.8" r="3.4" fill="#cdeac0" fill-opacity="0.75" stroke="#a6dc8e" stroke-width="0.9"/>
<circle cx="206.2" cy="406.7" r="3.4" fill="#cdeac0" fill-opacity="0.75" stroke="#a6dc8e" stroke-width="0.9"/>
<circle cx="208.2" cy="413.8" r="3.4" fill="#cdeac0" fill-opacity="0.75" stroke="#a6dc8e" stroke-width="0.9"/>
<circle cx="210.2" cy="419.4" r="3.4" fill="#cdeac0" fill-opacity="0.75" stroke="#a6dc8e" stroke-width="0.9"/>
<circle cx="212.2" cy="416.5" r="3.4" fill="#cdeac0" fill-opacity="0.75" stroke="#a6dc8e" stroke-width="0.9"/>
<circle cx="214.2" cy="417.3" r="3.4" fill="#cdeac0" fill-opacity="0.75" stroke="#a6dc8e" stroke-width="0.9"/>
<circle cx="216.2" cy="418.7" r="3.4" fill="#cdeac0" fill-opacity="0.75" stroke="#a6dc8e" stroke-width="0.9"/>
<circle cx="218.2" cy="416.6" r="3.4" fill="#cdeac0" fill-opacity="0.75" stroke="#a6dc8e" stroke-width="0.9"/>
<circle cx="220.2" cy="421.5" r="3.4" fill="#cdeac0" fill-opacity="0.75" stroke="#a6dc8e" stroke-width="0.9"/>
<circle cx="222.1" cy="421.6" r="3.4" fill="#cdeac0" fill-opacity="0.75" stroke="#a6dc8e" stroke-width="0.9"/>
<circle cx="224.1" cy="429.4" r="3.4" fill="#cdeac0" fill-opacity="0.75" stroke="#a6dc8e" stroke-width="0.9"/>
<circle cx="226.1" cy="424.7" r="3.4" fill="#cdeac0" fill-opacity="0.75" stroke="#a6dc8e" stroke-width="0.9"/>
<circle cx="228.1" cy="422.4" r="3.4" fill="#cdeac0" fill-opacity="0.75" stroke="#a6dc8e" stroke-width="0.9"/>
<circle cx="230.1" cy="428.1" r="3.4" fill="#cdeac0" fill-opacity="0.75" stroke="#a6dc8e" stroke-width="0.9"/>
<circle cx="232.1" cy="431.1" r="3.4" fill="#cdeac0" fill-opacity="0.75" stroke="#a6dc8e" stroke-width="0.9"/>
<circle cx="234.1" cy="432.8" r="3.4" fill="#cdeac0" fill-opacity="0.75" stroke="#a6dc8e" stroke-width="0.9"/>
<circle cx="236.1" cy="428.9" r="3.4" fill="#cdeac0" fill-opacity="0.75" stroke="#a6dc8e" stroke-width="0.9"/>
<circle cx="238.1" cy="438.7" r="3.4" fill="#cdeac0" fill-opacity="0.75" stroke="#a6dc8e" stroke-width="0.9"/>
<circle cx="240.1" cy="437.3" r="3.4" fill="#cdeac0" fill-opacity="0.75" stroke="#a6dc8e" stroke-width="0.9"/>
<circle cx="242.1" cy="436.5" r="3.4" fill="#cdeac0" fill-opacity="0.75" stroke="#a6dc8e" stroke-width="0.9"/>
<circle cx="244.1" cy="436.6" r="3.4" fill="#cdeac0" fill-opacity="0.75" stroke="#a6dc8e" stroke-width="0.9"/>
<circle cx="246.0" cy="441.3" r="3.4" fill="#cdeac0" fill-opacity="0.75" stroke="#a6dc8e" stroke-width="0.9"/>
<circle cx="248.0" cy="439.9" r="3.4" fill="#cdeac0" fill-opacity="0.75" stroke="#a6dc8e" stroke-width="0.9"/>
<circle cx="250.0" cy="442.6" r="3.4" fill="#cdeac0" fill-opacity="0.75" stroke="#a6dc8e" stroke-width="0.9"/>
<circle cx="252.0" cy="442.2" r="3.4" fill="#cdeac0" fill-opacity="0.75" stroke="#a6dc8e" stroke-width="0.9"/>
<circle cx="254.0" cy="443.9" r="3.4" fill="#cdeac0" fill-opacity="0.75" stroke="#a6dc8e" stroke-width="0.9"/>
<circle cx="256.0" cy="448.0" r="3.4" fill="#cdeac0" fill-opacity="0.75" stroke="#a6dc8e" stroke-width="0.9"/>
<circle cx="258.0" cy="445.4" r="3.4" fill="#cdeac0" fill-opacity="0.75" stroke="#a6dc8e" stroke-width="0.9"/>
<circle cx="260.0" cy="443.4" r="3.4" fill="#cdeac0" fill-opacity="0.75" stroke="#a6dc8e" stroke-width="0.9"/>
<circle cx="262.0" cy="450.3" r="3.4" fill="#cdeac0" fill-opacity="0.75" stroke="#a6dc8e" stroke-width="0.9"/>
<circle cx="264.0" cy="449.0" r="3.4" fill="#cdeac0" fill-opacity="0.75" stroke="#a6dc8e" stroke-width="0.9"/>
<circle cx="266.0" cy="447.1" r="3.4" fill="#cdeac0" fill-opacity="0.75" stroke="#a6dc8e" stroke-width="0.9"/>
<circle cx="267.9" cy="453.7" r="3.4" fill="#cdeac0" fill-opacity="0.75" stroke="#a6dc8e" stroke-width="0.9"/>
<circle cx="269.9" cy="450.9" r="3.4" fill="#cdeac0" fill-opacity="0.75" stroke="#a6dc8e" stroke-width="0.9"/>
<circle cx="271.9" cy="456.0" r="3.4" fill="#cdeac0" fill-opacity="0.75" stroke="#a6dc8e" stroke-width="0.9"/>
<circle cx="273.9" cy="450.3" r="3.4" fill="#cdeac0" fill-opacity="0.75" stroke="#a6dc8e" stroke-width="0.9"/>
<circle cx="275.9" cy="447.8" r="3.4" fill="#cdeac0" fill-opacity="0.75" stroke="#a6dc8e" stroke-width="0.9"/>
<circle cx="277.9" cy="450.0" r="3.4" fill="#cdeac0" fill-opacity="0.75" stroke="#a6dc8e" stroke-width="0.9"/>
<circle cx="279.9" cy="458.5" r="3.4" fill="#cdeac0" fill-opacity="0.75" stroke="#a6dc8e" stroke-width="0.9"/>
<circle cx="281.9" cy="456.8" r="3.4" fill="#cdeac0" fill-opacity="0.75" stroke="#a6dc8e" stroke-width="0.9"/>
<circle cx="283.9" cy="460.1" r="3.4" fill="#cdeac0" fill-opacity="0.75" stroke="#a6dc8e" stroke-width="0.9"/>
<circle cx="285.9" cy="461.5" r="3.4" fill="#cdeac0" fill-opacity="0.75" stroke="#a6dc8e" stroke-width="0.9"/>
<circle cx="287.9" cy="458.3" r="3.4" fill="#cdeac0" fill-opacity="0.75" stroke="#a6dc8e" stroke-width="0.9"/>
<circle cx="289.8" cy="468.7" r="3.4" fill="#cdeac0" fill-opacity="0.75" stroke="#a6dc8e" stroke-width="0.9"/>
<circle cx="291.8" cy="462.5" r="3.4" fill="#cdeac0" fill-opacity="0.75" stroke="#a6dc8e" stroke-width="0.9"/>
<circle cx="293.8" cy="467.3" r="3.4" fill="#cdeac0" fill-opacity="0.75" stroke="#a6dc8e" stroke-width="0.9"/>
<circle cx="295.8" cy="463.9" r="3.4" fill="#cdeac0" fill-opacity="0.75" stroke="#a6dc8e" stroke-width="0.9"/>
<circle cx="297.8" cy="469.0" r="3.4" fill="#cdeac0" fill-opacity="0.75" stroke="#a6dc8e" stroke-width="0.9"/>
<circle cx="299.8" cy="472.9" r="3.4" fill="#cdeac0" fill-opacity="0.75" stroke="#a6dc8e" stroke-width="0.9"/>
<circle cx="301.8" cy="470.9" r="3.4" fill="#cdeac0" fill-opacity="0.75" stroke="#a6dc8e" stroke-width="0.9"/>
<circle cx="303.8" cy="470.4" r="3.4" fill="#cdeac0" fill-opacity="0.75" stroke="#a6dc8e" stroke-width="0.9"/>
<circle cx="305.8" cy="473.5" r="3.4" fill="#cdeac0" fill-opacity="0.75" stroke="#a6dc8e" stroke-width="0.9"/>
<circle cx="307.8" cy="472.9" r="3.4" fill="#cdeac0" fill-opacity="0.75" stroke="#a6dc8e" stroke-width="0.9"/>
<circle cx="309.8" cy="476.8" r="3.4" fill="#cdeac0" fill-opacity="0.75" stroke="#a6dc8e" stroke-width="0.9"/>
<circle cx="311.8" cy="482.5" r="3.4" fill="#cdeac0" fill-opacity="0.75" stroke="#a6dc8e" stroke-width="0.9"/>
<circle cx="313.7" cy="473.4" r="3.4" fill="#cdeac0" fill-opacity="0.75" stroke="#a6dc8e" stroke-width="0.9"/>
<circle cx="315.7" cy="474.5" r="3.4" fill="#cdeac0" fill-opacity="0.75" stroke="#a6dc8e" stroke-width="0.9"/>
<circle cx="317.7" cy="476.6" r="3.4" fill="#cdeac0" fill-opacity="0.75" stroke="#a6dc8e" stroke-width="0.9"/>
<circle cx="319.7" cy="477.1" r="3.4" fill="#cdeac0" fill-opacity="0.75" stroke="#a6dc8e" stroke-width="0.9"/>
<circle cx="321.7" cy="474.3" r="3.4" fill="#cdeac0" fill-opacity="0.75" stroke="#a6dc8e" stroke-width="0.9"/>
<circle cx="323.7" cy="479.2" r="3.4" fill="#cdeac0" fill-opacity="0.75" stroke="#a6dc8e" stroke-width="0.9"/>
<circle cx="325.7" cy="480.1" r="3.4" fill="#cdeac0" fill-opacity="0.75" stroke="#a6dc8e" stroke-width="0.9"/>
<circle cx="327.7" cy="478.5" r="3.4" fill="#cdeac0" fill-opacity="0.75" stroke="#a6dc8e" stroke-width="0.9"/>
<circle cx="64.4" cy="334.9" r="3.4" fill="#cddcf1" fill-opacity="0.75" stroke="#8eb0e0" stroke-width="0.9"/>
<circle cx="81.3" cy="364.9" r="3.4" fill="#cddcf1" fill-opacity="0.75" stroke="#8eb0e0" stroke-width="0.9"/>
<circle cx="91.2" cy="382.3" r="3.4" fill="#cddcf1" fill-opacity="0.75" stroke="#8eb0e0" stroke-width="0.9"/>
<circle cx="98.2" cy="399.7" r="3.4" fill="#cddcf1" fill-opacity="0.75" stroke="#8eb0e0" stroke-width="0.9"/>
<circle cx="103.7" cy="412.0" r="3.4" fill="#cddcf1" fill-opacity="0.75" stroke="#8eb0e0" stroke-width="0.9"/>
<circle cx="108.1" cy="416.9" r="3.4" fill="#cddcf1" fill-opacity="0.75" stroke="#8eb0e0" stroke-width="0.9"/>
<circle cx="111.9" cy="425.8" r="3.4" fill="#cddcf1" fill-opacity="0.75" stroke="#8eb0e0" stroke-width="0.9"/>
<circle cx="115.2" cy="433.1" r="3.4" fill="#cddcf1" fill-opacity="0.75" stroke="#8eb0e0" stroke-width="0.9"/>
<circle cx="118.0" cy="435.2" r="3.4" fill="#cddcf1" fill-opacity="0.75" stroke="#8eb0e0" stroke-width="0.9"/>
<circle cx="120.6" cy="435.5" r="3.4" fill="#cddcf1" fill-opacity="0.75" stroke="#8eb0e0" stroke-width="0.9"/>
<circle cx="122.6" cy="436.9" r="3.4" fill="#cddcf1" fill-opacity="0.75" stroke="#8eb0e0" stroke-width="0.9"/>
<circle cx="124.6" cy="442.2" r="3.4" fill="#cddcf1" fill-opacity="0.75" stroke="#8eb0e0" stroke-width="0.9"/>
<circle cx="126.6" cy="441.9" r="3.4" fill="#cddcf1" fill-opacity="0.75" stroke="#8eb0e0" stroke-width="0.9"/>
<circle cx="128.6" cy="442.5" r="3.4" fill="#cddcf1" fill-opacity="0.75" stroke="#8eb0e0" stroke-width="0.9"/>
<circle cx="130.6" cy="447.0" r="3.4" fill="#cddcf1" fill-opacity="0.75" stroke="#8eb0e0" stroke-width="0.9"/>
<circle cx="132.5" cy="445.6" r="3.4" fill="#cddcf1" fill-opacity="0.75" stroke="#8eb0e0" stroke-width="0.9"/>
<circle cx="134.5" cy="447.5" r="3.4" fill="#cddcf1" fill-opacity="0.75" stroke="#8eb0e0" stroke-width="0.9"/>
<circle cx="136.5" cy="449.8" r="3.4" fill="#cddcf1" fill-opacity="0.75" stroke="#8eb0e0" stroke-width="0.9"/>
<circle cx="138.5" cy="450.5" r="3.4" fill="#cddcf1" fill-opacity="0.75" stroke="#8eb0e0" stroke-width="0.9"/>
<circle cx="140.5" cy="449.8" r="3.4" fill="#cddcf1" fill-opacity="0.75" stroke="#8eb0e0" stroke-width="0.9"/>
<circle cx="142.5" cy="450.7" r="3.4" fill="#cddcf1" fill-opacity="0.75" stroke="#8eb0e0" stroke-width="0.9"/>
<circle cx="144.5" cy="453.3" r="3.4" fill="#cddcf1" fill-opacity="0.75" stroke="#8eb0e0" stroke-width="0.9"/>
<circle cx="146.5" cy="453.7" r="3.4" fill="#cddcf1" fill-opacity="0.75" stroke="#8eb0e0" stroke-width="0.9"/>
<circle cx="148.5" cy="449.8" r="3.4" fill="#cddcf1" fill-opacity="0.75" stroke="#8eb0e0" stroke-width="0.9"/>
<circle cx="150.5" cy="453.5" r="3.4" fill="#cddcf1" fill-opacity="0.75" stroke="#8eb0e0" stroke-width="0.9"/>
<circle cx="152.5" cy="452.3" r="3.4" fill="#cddcf1" fill-opacity="0.75" stroke="#8eb0e0" stroke-width="0.9"/>
<circle cx="154.4" cy="452.2" r="3.4" fill="#cddcf1" fill-opacity="0.75" stroke="#8eb0e0" stroke-width="0.9"/>
<circle cx="156.4" cy="455.2" r="3.4" fill="#cddcf1" fill-opacity="0.75" stroke="#8eb0e0" stroke-width="0.9"/>
<circle cx="158.4" cy="450.8" r="3.4" fill="#cddcf1" fill-opacity="0.75" stroke="#8eb0e0" stroke-width="0.9"/>
<circle cx="160.4" cy="461.7" r="3.4" fill="#cddcf1" fill-opacity="0.75" stroke="#8eb0e0" stroke-width="0.9"/>
<circle cx="162.4" cy="457.5" r="3.4" fill="#cddcf1" fill-opacity="0.75" stroke="#8eb0e0" stroke-width="0.9"/>
<circle cx="164.4" cy="462.2" r="3.4" fill="#cddcf1" fill-opacity="0.75" stroke="#8eb0e0" stroke-width="0.9"/>
<circle cx="166.4" cy="456.4" r="3.4" fill="#cddcf1" fill-opacity="0.75" stroke="#8eb0e0" stroke-width="0.9"/>
<circle cx="168.4" cy="457.9" r="3.4" fill="#cddcf1" fill-opacity="0.75" stroke="#8eb0e0" stroke-width="0.9"/>
<circle cx="170.4" cy="470.6" r="3.4" fill="#cddcf1" fill-opacity="0.75" stroke="#8eb0e0" stroke-width="0.9"/>
<circle cx="172.4" cy="468.5" r="3.4" fill="#cddcf1" fill-opacity="0.75" stroke="#8eb0e0" stroke-width="0.9"/>
<circle cx="174.4" cy="464.4" r="3.4" fill="#cddcf1" fill-opacity="0.75" stroke="#8eb0e0" stroke-width="0.9"/>
<circle cx="176.4" cy="465.0" r="3.4" fill="#cddcf1" fill-opacity="0.75" stroke="#8eb0e0" stroke-width="0.9"/>
<circle cx="178.3" cy="466.2" r="3.4" fill="#cddcf1" fill-opacity="0.75" stroke="#8eb0e0" stroke-width="0.9"/>
<circle cx="180.3" cy="469.7" r="3.4" fill="#cddcf1" fill-opacity="0.75" stroke="#8eb0e0" stroke-width="0.9"/>
<circle cx="182.3" cy="468.9" r="3.4" fill="#cddcf1" fill-opacity="0.75" stroke="#8eb0e0" stroke-width="0.9"/>
<circle cx="184.3" cy="469.1" r="3.4" fill="#cddcf1" fill-opacity="0.75" stroke="#8eb0e0" stroke-width="0.9"/>
<circle cx="186.3" cy="472.2" r="3.4" fill="#cddcf1" fill-opacity="0.75" stroke="#8eb0e0" stroke-width="0.9"/>
<circle cx="188.3" cy="469.4" r="3.4" fill="#cddcf1" fill-opacity="0.75" stroke="#8eb0e0" stroke-width="0.9"/>
<circle cx="190.3" cy="480.5" r="3.4" fill="#cddcf1" fill-opacity="0.75" stroke="#8eb0e0" stroke-width="0.9"/>
<circle cx="192.3" cy="471.9" r="3.4" fill="#cddcf1" fill-opacity="0.75" stroke="#8eb0e0" stroke-width="0.9"/>
<circle cx="194.3" cy="477.7" r="3.4" fill="#cddcf1" fill-opacity="0.75" stroke="#8eb0e0" stroke-width="0.9"/>
<circle cx="196.3" cy="471.9" r="3.4" fill="#cddcf1" fill-opacity="0.75" stroke="#8eb0e0" stroke-width="0.9"/>
<circle cx="198.3" cy="476.1" r="3.4" fill="#cddcf1" fill-opacity="0.75" stroke="#8eb0e0" stroke-width="0.9"/>
<circle cx="200.2" cy="478.6" r="3.4" fill="#cddcf1" fill-opacity="0.75" stroke="#8eb0e0" stroke-width="0.9"/>
<circle cx="202.2" cy="474.9" r="3.4" fill="#cddcf1" fill-opacity="0.75" stroke="#8eb0e0" stroke-width="0.9"/>
<circle cx="204.2" cy="479.3" r="3.4" fill="#cddcf1" fill-opacity="0.75" stroke="#8eb0e0" stroke-width="0.9"/>
<circle cx="206.2" cy="479.6" r="3.4" fill="#cddcf1" fill-opacity="0.75" stroke="#8eb0e0" stroke-width="0.9"/>
<circle cx="208.2" cy="482.0" r="3.4" fill="#cddcf1" fill-opacity="0.75" stroke="#8eb0e0" stroke-width="0.9"/>
<circle cx="210.2" cy="477.4" r="3.4" fill="#cddcf1" fill-opacity="0.75" stroke="#8eb0e0" stroke-width="0.9"/>
<circle cx="212.2" cy="476.0" r="3.4" fill="#cddcf1" fill-opacity="0.75" stroke="#8eb0e0" stroke-width="0.9"/>
<circle cx="214.2" cy="474.6" r="3.4" fill="#cddcf1" fill-opacity="0.75" stroke="#8eb0e0" stroke-width="0.9"/>
<circle cx="216.2" cy="478.7" r="3.4" fill="#cddcf1" fill-opacity="0.75" stroke="#8eb0e0" stroke-width="0.9"/>
<circle cx="218.2" cy="475.2" r="3.4" fill="#cddcf1" fill-opacity="0.75" stroke="#8eb0e0" stroke-width="0.9"/>
<circle cx="220.2" cy="478.8" r="3.4" fill="#cddcf1" fill-opacity="0.75" stroke="#8eb0e0" stroke-width="0.9"/>
<circle cx="222.1" cy="479.5" r="3.4" fill="#cddcf1" fill-opacity="0.75" stroke="#8eb0e0" stroke-width="0.9"/>
<circle cx="224.1" cy="477.8" r="3.4" fill="#cddcf1" fill-opacity="0.75" stroke="#8eb0e0" stroke-width="0.9"/>
<circle cx="226.1" cy="476.6" r="3.4" fill="#cddcf1" fill-opacity="0.75" stroke="#8eb0e0" stroke-width="0.9"/>
<circle cx="228.1" cy="481.5" r="3.4" fill="#cddcf1" fill-opacity="0.75" stroke="#8eb0e0" stroke-width="0.9"/>
<circle cx="230.1" cy="481.6" r="3.4" fill="#cddcf1" fill-opacity="0.75" stroke="#8eb0e0" stroke-width="0.9"/>
<circle cx="232.1" cy="481.8" r="3.4" fill="#cddcf1" fill-opacity="0.75" stroke="#8eb0e0" stroke-width="0.9"/>
<circle cx="234.1" cy="481.5" r="3.4" fill="#cddcf1" fill-opacity="0.75" stroke="#8eb0e0" stroke-width="0.9"/>
<circle cx="236.1" cy="485.1" r="3.4" fill="#cddcf1" fill-opacity="0.75" stroke="#8eb0e0" stroke-width="0.9"/>
<circle cx="238.1" cy="479.5" r="3.4" fill="#cddcf1" fill-opacity="0.75" stroke="#8eb0e0" stroke-width="0.9"/>
<circle cx="240.1" cy="484.6" r="3.4" fill="#cddcf1" fill-opacity="0.75" stroke="#8eb0e0" stroke-width="0.9"/>
<circle cx="242.1" cy="482.4" r="3.4" fill="#cddcf1" fill-opacity="0.75" stroke="#8eb0e0" stroke-width="0.9"/>
<circle cx="244.1" cy="487.1" r="3.4" fill="#cddcf1" fill-opacity="0.75" stroke="#8eb0e0" stroke-width="0.9"/>
<circle cx="246.0" cy="483.9" r="3.4" fill="#cddcf1" fill-opacity="0.75" stroke="#8eb0e0" stroke-width="0.9"/>
<circle cx="248.0" cy="484.4" r="3.4" fill="#cddcf1" fill-opacity="0.75" stroke="#8eb0e0" stroke-width="0.9"/>
<circle cx="250.0" cy="487.6" r="3.4" fill="#cddcf1" fill-opacity="0.75" stroke="#8eb0e0" stroke-width="0.9"/>
<circle cx="252.0" cy="480.4" r="3.4" fill="#cddcf1" fill-opacity="0.75" stroke="#8eb0e0" stroke-width="0.9"/>
<circle cx="254.0" cy="486.3" r="3.4" fill="#cddcf1" fill-opacity="0.75" stroke="#8eb0e0" stroke-width="0.9"/>
<circle cx="256.0" cy="482.4" r="3.4" fill="#cddcf1" fill-opacity="0.75" stroke="#8eb0e0" stroke-width="0.9"/>
<circle cx="258.0" cy="485.6" r="3.4" fill="#cddcf1" fill-opacity="0.75" stroke="#8eb0e0" stroke-width="0.9"/>
<circle cx="260.0" cy="491.4" r="3.4" fill="#cddcf1" fill-opacity="0.75" stroke="#8eb0e0" stroke-width="0.9"/>
<circle cx="262.0" cy="491.1" r="3.4" fill="#cddcf1" fill-opacity="0.75" stroke="#8eb0e0" stroke-width="0.9"/>
<circle cx="264.0" cy="489.0" r="3.4" fill="#cddcf1" fill-opacity="0.75" stroke="#8eb0e0" stroke-width="0.9"/>
<circle cx="266.0" cy="490.7" r="3.4" fill="#cddcf1" fill-opacity="0.75" stroke="#8eb0e0" stroke-width="0.9"/>
<circle cx="267.9" cy="491.2" r="3.4" fill="#cddcf1" fill-opacity="0.75" stroke="#8eb0e0" stroke-width="0.9"/>
<circle cx="269.9" cy="492.8" r="3.4" fill="#cddcf1" fill-opacity="0.75" stroke="#8eb0e0" stroke-width="0.9"/>
<circle cx="271.9" cy="498.0" r="3.4" fill="#cddcf1" fill-opacity="0.75" stroke="#8eb0e0" stroke-width="0.9"/>
<circle cx="273.9" cy="493.4" r="3.4" fill="#cddcf1" fill-opacity="0.75" stroke="#8eb0e0" stroke-width="0.9"/>
<circle cx="275.9" cy="500.0" r="3.4" fill="#cddcf1" fill-opacity="0.75" stroke="#8eb0e0" stroke-width="0.9"/>
<circle cx="277.9" cy="492.1" r="3.4" fill="#cddcf1" fill-opacity="0.75" stroke="#8eb0e0" stroke-width="0.9"/>
<circle cx="279.9" cy="495.8" r="3.4" fill="#cddcf1" fill-opacity="0.75" stroke="#8eb0e0" stroke-width="0.9"/>
<circle cx="281.9" cy="496.0" r="3.4" fill="#cddcf1" fill-opacity="0.75" stroke="#8eb0e0" stroke-width="0.9"/>
<circle cx="283.9" cy="494.6" r="3.4" fill="#cddcf1" fill-opacity="0.75" stroke="#8eb0e0" stroke-width="0.9"/>
<circle cx="285.9" cy="493.2" r="3.4" fill="#cddcf1" fill-opacity="0.75" stroke="#8eb0e0" stroke-width="0.9"/>
<circle cx="287.9" cy="498.7" r="3.4" fill="#cddcf1" fill-opacity="0.75" stroke="#8eb0e0" stroke-width="0.9"/>
<circle cx="289.8" cy="499.8" r="3.4" fill="#cddcf1" fill-opacity="0.75" stroke="#8eb0e0" stroke-width="0.9"/>
<circle cx="291.8" cy="497.7" r="3.4" fill="#cddcf1" fill-opacity="0.75" stroke="#8eb0e0" stroke-width="0.9"/>
<circle cx="293.8" cy="500.9" r="3.4" fill="#cddcf1" fill-opacity="0.75" stroke="#8eb0e0" stroke-width="0.9"/>
<circle cx="295.8" cy="497.5" r="3.4" fill="#cddcf1" fill-opacity="0.75" stroke="#8eb0e0" stroke-width="0.9"/>
<circle cx="297.8" cy="489.4" r="3.4" fill="#cddcf1" fill-opacity="0.75" stroke="#8eb0e0" stroke-width="0.9"/>
<circle cx="299.8" cy="497.8" r="3.4" fill="#cddcf1" fill-opacity="0.75" stroke="#8eb0e0" stroke-width="0.9"/>
<circle cx="301.8" cy="492.4" r="3.4" fill="#cddcf1" fill-opacity="0.75" stroke="#8eb0e0" stroke-width="0.9"/>
<circle cx="303.8" cy="498.8" r="3.4" fill="#cddcf1" fill-opacity="0.75" stroke="#8eb0e0" stroke-width="0.9"/>
<circle cx="305.8" cy="493.5" r="3.4" fill="#cddcf1" fill-opacity="0.75" stroke="#8eb0e0" stroke-width="0.9"/>
<circle cx="307.8" cy="495.5" r="3.4" fill="#cddcf1" fill-opacity="0.75" stroke="#8eb0e0" stroke-width="0.9"/>
<circle cx="309.8" cy="494.7" r="3.4" fill="#cddcf1" fill-opacity="0.75" stroke="#8eb0e0" stroke-width="0.9"/>
<circle cx="311.8" cy="492.7" r="3.4" fill="#cddcf1" fill-opacity="0.75" stroke="#8eb0e0" stroke-width="0.9"/>
<circle cx="313.7" cy="488.9" r="3.4" fill="#cddcf1" fill-opacity="0.75" stroke="#8eb0e0" stroke-width="0.9"/>
<circle cx="315.7" cy="493.8" r="3.4" fill="#cddcf1" fill-opacity="0.75" stroke="#8eb0e0" stroke-width="0.9"/>
<circle cx="317.7" cy="494.1" r="3.4" fill="#cddcf1" fill-opacity="0.75" stroke="#8eb0e0" stroke-width="0.9"/>
<circle cx="319.7" cy="497.6" r="3.4" fill="#cddcf1" fill-opacity="0.75" stroke="#8eb0e0" stroke-width="0.9"/>
<circle cx="321.7" cy="492.6" r="3.4" fill="#cddcf1" fill-opacity="0.75" stroke="#8eb0e0" stroke-width="0.9"/>
<circle cx="323.7" cy="495.2" r="3.4" fill="#cddcf1" fill-opacity="0.75" stroke="#8eb0e0" stroke-width="0.9"/>
<circle cx="325.7" cy="491.8" r="3.4" fill="#cddcf1" fill-opacity="0.75" stroke="#8eb0e0" stroke-width="0.9"/>
<circle cx="327.7" cy="494.6" r="3.4" fill="#cddcf1" fill-opacity="0.75" stroke="#8eb0e0" stroke-width="0.9"/>
<path d="M64.4,323.4 L65.3,323.5 L66.2,323.5 L67.0,323.6 L67.9,323.6 L68.8,323.7 L69.7,323.7 L70.6,323.8 L71.5,323.9 L72.3,323.9 L73.2,324.0 L74.1,324.0 L75.0,324.1 L75.9,324.2 L76.8,324.3 L77.6,324.3 L78.5,324.4 L79.4,324.5 L80.3,324.6 L81.2,324.7 L82.1,324.8 L82.9,324.9 L83.8,325.0 L84.7,325.1 L85.6,325.2 L86.5,325.3 L87.4,325.4 L88.2,325.5 L89.1,325.7 L90.0,325.8 L90.9,325.9 L91.8,326.1 L92.7,326.2 L93.5,326.3 L94.4,326.5 L95.3,326.7 L96.2,326.8 L97.1,327.0 L98.0,327.2 L98.8,327.3 L99.7,327.5 L100.6,327.7 L101.5,327.9 L102.4,328.1 L103.3,328.3 L104.1,328.5 L105.0,328.8 L105.9,329.0 L106.8,329.2 L107.7,329.5 L108.6,329.8 L109.4,330.0 L110.3,330.3 L111.2,330.6 L112.1,330.9 L113.0,331.2 L113.9,331.5 L114.7,331.8 L115.6,332.1 L116.5,332.5 L117.4,332.8 L118.3,333.2 L119.2,333.6 L120.0,334.0 L120.9,334.3 L121.8,334.8 L122.7,335.2 L123.6,335.6 L124.5,336.1 L125.3,336.5 L126.2,337.0 L127.1,337.5 L128.0,338.0 L128.9,338.5 L129.8,339.0 L130.6,339.6 L131.5,340.1 L132.4,340.7 L133.3,341.3 L134.2,341.9 L135.1,342.5 L135.9,343.1 L136.8,343.8 L137.7,344.4 L138.6,345.1 L139.5,345.8 L140.4,346.5 L141.2,347.2 L142.1,348.0 L143.0,348.7 L143.9,349.5 L144.8,350.3 L145.7,351.1 L146.5,351.9 L147.4,352.7 L148.3,353.5 L149.2,354.4 L150.1,355.3 L151.0,356.2 L151.8,357.0 L152.7,358.0 L153.6,358.9 L154.5,359.8 L155.4,360.7 L156.3,361.7 L157.1,362.7 L158.0,363.6 L158.9,364.6 L159.8,365.6 L160.7,366.6 L161.6,367.6 L162.4,368.6 L163.3,369.6 L164.2,370.6 L165.1,371.6 L166.0,372.6 L166.9,373.6 L167.7,374.6 L168.6,375.6 L169.5,376.6 L170.4,377.6 L171.3,378.6 L172.2,379.6 L173.0,380.6 L173.9,381.5 L174.8,382.5 L175.7,383.5 L176.6,384.4 L177.5,385.3 L178.3,386.2 L179.2,387.1 L180.1,388.0 L181.0,388.9 L181.9,389.8 L182.8,390.6 L183.6,391.5 L184.5,392.3 L185.4,393.1 L186.3,393.9 L187.2,394.7 L188.1,395.5 L188.9,396.3 L189.8,397.0 L190.7,397.8 L191.6,398.5 L192.5,399.3 L193.3,400.0 L194.2,400.7 L195.1,401.4 L196.0,402.2 L196.9,402.9 L197.8,403.6 L198.6,404.3 L199.5,405.0 L200.4,405.7 L201.3,406.5 L202.2,407.2 L203.1,407.9 L203.9,408.6 L204.8,409.4 L205.7,410.1 L206.6,410.8 L207.5,411.6 L208.4,412.3 L209.2,413.1 L210.1,413.8 L211.0,414.6 L211.9,415.4 L212.8,416.1 L213.7,416.9 L214.5,417.7 L215.4,418.4 L216.3,419.2 L217.2,420.0 L218.1,420.7 L219.0,421.5 L219.8,422.3 L220.7,423.0 L221.6,423.8 L222.5,424.5 L223.4,425.2 L224.3,426.0 L225.1,426.7 L226.0,427.4 L226.9,428.1 L227.8,428.8 L228.7,429.4 L229.6,430.1 L230.4,430.8 L231.3,431.4 L232.2,432.0 L233.1,432.6 L234.0,433.2 L234.9,433.8 L235.7,434.4 L236.6,434.9 L237.5,435.4 L238.4,436.0 L239.3,436.5 L240.2,437.0 L241.0,437.4 L241.9,437.9 L242.8,438.4 L243.7,438.8 L244.6,439.2 L245.5,439.7 L246.3,440.1 L247.2,440.5 L248.1,440.9 L249.0,441.3 L249.9,441.7 L250.8,442.1 L251.6,442.5 L252.5,442.8 L253.4,443.2 L254.3,443.6 L255.2,444.0 L256.1,444.4 L256.9,444.8 L257.8,445.2 L258.7,445.6 L259.6,446.0 L260.5,446.5 L261.4,446.9 L262.2,447.3 L263.1,447.8 L264.0,448.2 L264.9,448.7 L265.8,449.2 L266.7,449.6 L267.5,450.1 L268.4,450.6 L269.3,451.1 L270.2,451.6 L271.1,452.2 L272.0,452.7 L272.8,453.2 L273.7,453.8 L274.6,454.3 L275.5,454.9 L276.4,455.5 L277.3,456.0 L278.1,456.6 L279.0,457.2 L279.9,457.8 L280.8,458.4 L281.7,459.0 L282.6,459.6 L283.4,460.2 L284.3,460.8 L285.2,461.4 L286.1,462.0 L287.0,462.6 L287.9,463.2 L288.7,463.8 L289.6,464.4 L290.5,465.0 L291.4,465.6 L292.3,466.1 L293.2,466.7 L294.0,467.3 L294.9,467.8 L295.8,468.4 L296.7,468.9 L297.6,469.4 L298.5,470.0 L299.3,470.5 L300.2,470.9 L301.1,471.4 L302.0,471.9 L302.9,472.3 L303.8,472.7 L304.6,473.1 L305.5,473.5 L306.4,473.9 L307.3,474.3 L308.2,474.6 L309.1,474.9 L309.9,475.2 L310.8,475.5 L311.7,475.7 L312.6,476.0 L313.5,476.2 L314.4,476.4 L315.2,476.6 L316.1,476.8 L317.0,476.9 L317.9,477.1 L318.8,477.2 L319.6,477.3 L320.5,477.4 L321.4,477.5 L322.3,477.6 L323.2,477.7 L324.1,477.8 L324.9,477.8 L325.8,477.9 L326.7,477.9 L327.6,477.9 L328.5,478.0" fill="none" stroke="#3b9b35" stroke-width="1.8"/>
<path d="M64.4,336.3 L65.3,337.4 L66.2,338.6 L67.0,339.8 L67.9,341.0 L68.8,342.3 L69.7,343.6 L70.6,344.9 L71.5,346.2 L72.3,347.6 L73.2,349.0 L74.1,350.5 L75.0,352.0 L75.9,353.5 L76.8,355.0 L77.6,356.5 L78.5,358.1 L79.4,359.8 L80.3,361.4 L81.2,363.1 L82.1,364.8 L82.9,366.5 L83.8,368.2 L84.7,370.0 L85.6,371.8 L86.5,373.6 L87.4,375.5 L88.2,377.3 L89.1,379.2 L90.0,381.1 L90.9,382.9 L91.8,384.8 L92.7,386.8 L93.5,388.7 L94.4,390.6 L95.3,392.5 L96.2,394.4 L97.1,396.4 L98.0,398.3 L98.8,400.2 L99.7,402.1 L100.6,404.0 L101.5,405.8 L102.4,407.7 L103.3,409.5 L104.1,411.3 L105.0,413.1 L105.9,414.8 L106.8,416.5 L107.7,418.2 L108.6,419.8 L109.4,421.4 L110.3,423.0 L111.2,424.5 L112.1,425.9 L113.0,427.3 L113.9,428.7 L114.7,430.0 L115.6,431.3 L116.5,432.5 L117.4,433.7 L118.3,434.8 L119.2,435.8 L120.0,436.8 L120.9,437.8 L121.8,438.7 L122.7,439.6 L123.6,440.4 L124.5,441.2 L125.3,441.9 L126.2,442.6 L127.1,443.2 L128.0,443.8 L128.9,444.4 L129.8,444.9 L130.6,445.5 L131.5,445.9 L132.4,446.4 L133.3,446.8 L134.2,447.3 L135.1,447.7 L135.9,448.1 L136.8,448.5 L137.7,448.8 L138.6,449.2 L139.5,449.6 L140.4,449.9 L141.2,450.3 L142.1,450.6 L143.0,451.0 L143.9,451.4 L144.8,451.7 L145.7,452.1 L146.5,452.5 L147.4,452.8 L148.3,453.2 L149.2,453.6 L150.1,454.0 L151.0,454.4 L151.8,454.8 L152.7,455.2 L153.6,455.6 L154.5,456.1 L155.4,456.5 L156.3,456.9 L157.1,457.4 L158.0,457.8 L158.9,458.3 L159.8,458.7 L160.7,459.2 L161.6,459.7 L162.4,460.1 L163.3,460.6 L164.2,461.1 L165.1,461.5 L166.0,462.0 L166.9,462.5 L167.7,463.0 L168.6,463.5 L169.5,463.9 L170.4,464.4 L171.3,464.9 L172.2,465.4 L173.0,465.8 L173.9,466.3 L174.8,466.7 L175.7,467.2 L176.6,467.6 L177.5,468.1 L178.3,468.5 L179.2,468.9 L180.1,469.3 L181.0,469.7 L181.9,470.1 L182.8,470.5 L183.6,470.9 L184.5,471.2 L185.4,471.6 L186.3,471.9 L187.2,472.3 L188.1,472.6 L188.9,472.9 L189.8,473.2 L190.7,473.4 L191.6,473.7 L192.5,474.0 L193.3,474.2 L194.2,474.4 L195.1,474.7 L196.0,474.9 L196.9,475.1 L197.8,475.3 L198.6,475.5 L199.5,475.6 L200.4,475.8 L201.3,475.9 L202.2,476.1 L203.1,476.3 L203.9,476.4 L204.8,476.5 L205.7,476.7 L206.6,476.8 L207.5,476.9 L208.4,477.1 L209.2,477.2 L210.1,477.3 L211.0,477.4 L211.9,477.6 L212.8,477.7 L213.7,477.8 L214.5,478.0 L215.4,478.1 L216.3,478.2 L217.2,478.4 L218.1,478.5 L219.0,478.7 L219.8,478.8 L220.7,479.0 L221.6,479.1 L222.5,479.3 L223.4,479.4 L224.3,479.6 L225.1,479.8 L226.0,480.0 L226.9,480.1 L227.8,480.3 L228.7,480.5 L229.6,480.7 L230.4,480.9 L231.3,481.1 L232.2,481.3 L233.1,481.5 L234.0,481.7 L234.9,482.0 L235.7,482.2 L236.6,482.4 L237.5,482.6 L238.4,482.9 L239.3,483.1 L240.2,483.4 L241.0,483.6 L241.9,483.8 L242.8,484.1 L243.7,484.4 L244.6,484.6 L245.5,484.9 L246.3,485.1 L247.2,485.4 L248.1,485.7 L249.0,485.9 L249.9,486.2 L250.8,486.5 L251.6,486.8 L252.5,487.0 L253.4,487.3 L254.3,487.6 L255.2,487.8 L256.1,488.1 L256.9,488.4 L257.8,488.6 L258.7,488.9 L259.6,489.2 L260.5,489.4 L261.4,489.7 L262.2,489.9 L263.1,490.2 L264.0,490.4 L264.9,490.6 L265.8,490.9 L266.7,491.1 L267.5,491.3 L268.4,491.5 L269.3,491.7 L270.2,491.9 L271.1,492.1 L272.0,492.3 L272.8,492.5 L273.7,492.6 L274.6,492.8 L275.5,492.9 L276.4,493.1 L277.3,493.2 L278.1,493.3 L279.0,493.4 L279.9,493.5 L280.8,493.6 L281.7,493.7 L282.6,493.8 L283.4,493.9 L284.3,494.0 L285.2,494.0 L286.1,494.1 L287.0,494.1 L287.9,494.2 L288.7,494.2 L289.6,494.3 L290.5,494.3 L291.4,494.3 L292.3,494.3 L293.2,494.4 L294.0,494.4 L294.9,494.4 L295.8,494.4 L296.7,494.4 L297.6,494.4 L298.5,494.4 L299.3,494.4 L300.2,494.4 L301.1,494.5 L302.0,494.5 L302.9,494.5 L303.8,494.5 L304.6,494.5 L305.5,494.5 L306.4,494.5 L307.3,494.5 L308.2,494.5 L309.1,494.5 L309.9,494.5 L310.8,494.5 L311.7,494.5 L312.6,494.5 L313.5,494.5 L314.4,494.5 L315.2,494.5 L316.1,494.5 L317.0,494.5 L317.9,494.5 L318.8,494.5 L319.6,494.5 L320.5,494.5 L321.4,494.5 L322.3,494.5 L323.2,494.5 L324.1,494.5 L324.9,494.5 L325.8,494.5 L326.7,494.5 L327.6,494.5 L328.5,494.5" fill="none" stroke="#3f4f9f" stroke-width="1.8"/>
<path d="M64.4,336.6 L65.3,338.1 L66.2,339.5 L67.0,341.1 L67.9,342.6 L68.8,344.1 L69.7,345.7 L70.6,347.4 L71.5,349.0 L72.3,350.7 L73.2,352.4 L74.1,354.2 L75.0,356.0 L75.9,357.8 L76.8,359.6 L77.6,361.5 L78.5,363.4 L79.4,365.3 L80.3,367.2 L81.2,369.2 L82.1,371.1 L82.9,373.1 L83.8,375.1 L84.7,377.2 L85.6,379.2 L86.5,381.2 L87.4,383.3 L88.2,385.3 L89.1,387.4 L90.0,389.5 L90.9,391.5 L91.8,393.6 L92.7,395.6 L93.5,397.7 L94.4,399.7 L95.3,401.7 L96.2,403.7 L97.1,405.6 L98.0,407.6 L98.8,409.5 L99.7,411.3 L100.6,413.2 L101.5,415.0 L102.4,416.7 L103.3,418.5 L104.1,420.2 L105.0,421.8 L105.9,423.4 L106.8,424.9 L107.7,426.4 L108.6,427.8 L109.4,429.2 L110.3,430.5 L111.2,431.8 L112.1,433.0 L113.0,434.2 L113.9,435.3 L114.7,436.3 L115.6,437.3 L116.5,438.3 L117.4,439.2 L118.3,440.0 L119.2,440.8 L120.0,441.6 L120.9,442.3 L121.8,443.0 L122.7,443.6 L123.6,444.2 L124.5,444.8 L125.3,445.3 L126.2,445.9 L127.1,446.4 L128.0,446.8 L128.9,447.3 L129.8,447.7 L130.6,448.2 L131.5,448.6 L132.4,449.0 L133.3,449.4 L134.2,449.8 L135.1,450.2 L135.9,450.6 L136.8,451.0 L137.7,451.4 L138.6,451.8 L139.5,452.2 L140.4,452.7 L141.2,453.1 L142.1,453.5 L143.0,453.9 L143.9,454.4 L144.8,454.8 L145.7,455.3 L146.5,455.8 L147.4,456.2 L148.3,456.7 L149.2,457.2 L150.1,457.7 L151.0,458.2 L151.8,458.7 L152.7,459.2 L153.6,459.7 L154.5,460.2 L155.4,460.7 L156.3,461.3 L157.1,461.8 L158.0,462.3 L158.9,462.9 L159.8,463.4 L160.7,463.9 L161.6,464.5 L162.4,465.0 L163.3,465.6 L164.2,466.1 L165.1,466.6 L166.0,467.1 L166.9,467.7 L167.7,468.2 L168.6,468.7 L169.5,469.2 L170.4,469.7 L171.3,470.2 L172.2,470.7 L173.0,471.1 L173.9,471.6 L174.8,472.0 L175.7,472.5 L176.6,472.9 L177.5,473.3 L178.3,473.7 L179.2,474.1 L180.1,474.5 L181.0,474.8 L181.9,475.2 L182.8,475.5 L183.6,475.8 L184.5,476.1 L185.4,476.4 L186.3,476.6 L187.2,476.9 L188.1,477.1 L188.9,477.3 L189.8,477.6 L190.7,477.7 L191.6,477.9 L192.5,478.1 L193.3,478.3 L194.2,478.4 L195.1,478.5 L196.0,478.7 L196.9,478.8 L197.8,478.9 L198.6,479.0 L199.5,479.1 L200.4,479.2 L201.3,479.3 L202.2,479.4 L203.1,479.4 L203.9,479.5 L204.8,479.6 L205.7,479.7 L206.6,479.7 L207.5,479.8 L208.4,479.9 L209.2,479.9 L210.1,480.0 L211.0,480.1 L211.9,480.2 L212.8,480.2 L213.7,480.3 L214.5,480.4 L215.4,480.5 L216.3,480.5 L217.2,480.6 L218.1,480.7 L219.0,480.8 L219.8,480.9 L220.7,481.0 L221.6,481.1 L222.5,481.2 L223.4,481.3 L224.3,481.4 L225.1,481.5 L226.0,481.6 L226.9,481.7 L227.8,481.8 L228.7,482.0 L229.6,482.1 L230.4,482.2 L231.3,482.3 L232.2,482.5 L233.1,482.6 L234.0,482.7 L234.9,482.9 L235.7,483.0 L236.6,483.2 L237.5,483.3 L238.4,483.5 L239.3,483.7 L240.2,483.8 L241.0,484.0 L241.9,484.2 L242.8,484.3 L243.7,484.5 L244.6,484.7 L245.5,484.9 L246.3,485.1 L247.2,485.3 L248.1,485.5 L249.0,485.6 L249.9,485.8 L250.8,486.0 L251.6,486.2 L252.5,486.5 L253.4,486.7 L254.3,486.9 L255.2,487.1 L256.1,487.3 L256.9,487.5 L257.8,487.7 L258.7,487.9 L259.6,488.2 L260.5,488.4 L261.4,488.6 L262.2,488.8 L263.1,489.0 L264.0,489.2 L264.9,489.4 L265.8,489.7 L266.7,489.9 L267.5,490.1 L268.4,490.3 L269.3,490.5 L270.2,490.7 L271.1,490.9 L272.0,491.1 L272.8,491.3 L273.7,491.4 L274.6,491.6 L275.5,491.8 L276.4,492.0 L277.3,492.1 L278.1,492.3 L279.0,492.4 L279.9,492.6 L280.8,492.7 L281.7,492.8 L282.6,493.0 L283.4,493.1 L284.3,493.2 L285.2,493.3 L286.1,493.4 L287.0,493.5 L287.9,493.6 L288.7,493.7 L289.6,493.7 L290.5,493.8 L291.4,493.9 L292.3,493.9 L293.2,494.0 L294.0,494.0 L294.9,494.1 L295.8,494.1 L296.7,494.1 L297.6,494.2 L298.5,494.2 L299.3,494.2 L300.2,494.2 L301.1,494.2 L302.0,494.3 L302.9,494.3 L303.8,494.3 L304.6,494.3 L305.5,494.3 L306.4,494.3 L307.3,494.3 L308.2,494.3 L309.1,494.3 L309.9,494.3 L310.8,494.3 L311.7,494.3 L312.6,494.3 L313.5,494.3 L314.4,494.3 L315.2,494.3 L316.1,494.3 L317.0,494.3 L317.9,494.3 L318.8,494.3 L319.6,494.3 L320.5,494.3 L321.4,494.3 L322.3,494.3 L323.2,494.3 L324.1,494.3 L324.9,494.3 L325.8,494.3 L326.7,494.3 L327.6,494.3 L328.5,494.3" fill="none" stroke="#e0474a" stroke-width="1.8"/>
</g>
<circle cx="263.6" cy="319" r="3.2" fill="#fdf0f0" stroke="#e98585" stroke-width="0.9"/>
<text x="280.0" y="323.3" font-size="12" text-anchor="start" fill="#1a1a1a" >435 nm</text>
<circle cx="263.6" cy="333.4" r="3.2" fill="#e3f3da" stroke="#a6dc8e" stroke-width="0.9"/>
<text x="280.0" y="337.7" font-size="12" text-anchor="start" fill="#1a1a1a" >600 nm</text>
<circle cx="263.6" cy="348.4" r="3.2" fill="#dfe8f6" stroke="#8eb0e0" stroke-width="0.9"/>
<text x="280.0" y="352.7" font-size="12" text-anchor="start" fill="#1a1a1a" >910 nm</text>
<line x1="406.50" y1="306.40" x2="670.50" y2="306.40" stroke="#333" stroke-width="1.1" />
<line x1="670.50" y1="306.40" x2="670.50" y2="518.80" stroke="#444" stroke-width="1.1" />
<line x1="406.50" y1="306.40" x2="406.50" y2="519.30" stroke="#1a1a1a" stroke-width="1.3" />
<line x1="406.00" y1="518.80" x2="670.50" y2="518.80" stroke="#555" stroke-width="1.3" />
<line x1="439.60" y1="518.80" x2="439.60" y2="522.80" stroke="#1a1a1a" stroke-width="1.1" />
<text x="439.6" y="537.3" font-size="14" text-anchor="middle" fill="#1a1a1a" >550</text>
<line x1="472.70" y1="518.80" x2="472.70" y2="521.00" stroke="#1a1a1a" stroke-width="1.1" />
<line x1="505.80" y1="518.80" x2="505.80" y2="522.80" stroke="#1a1a1a" stroke-width="1.1" />
<text x="505.8" y="537.3" font-size="14" text-anchor="middle" fill="#1a1a1a" >600</text>
<line x1="538.90" y1="518.80" x2="538.90" y2="521.00" stroke="#1a1a1a" stroke-width="1.1" />
<line x1="572.00" y1="518.80" x2="572.00" y2="522.80" stroke="#1a1a1a" stroke-width="1.1" />
<text x="572.0" y="537.3" font-size="14" text-anchor="middle" fill="#1a1a1a" >650</text>
<line x1="605.10" y1="518.80" x2="605.10" y2="521.00" stroke="#1a1a1a" stroke-width="1.1" />
<line x1="638.20" y1="518.80" x2="638.20" y2="522.80" stroke="#1a1a1a" stroke-width="1.1" />
<text x="638.2" y="537.3" font-size="14" text-anchor="middle" fill="#1a1a1a" >700</text>
<line x1="406.50" y1="518.40" x2="402.50" y2="518.40" stroke="#1a1a1a" stroke-width="1.1" />
<text x="398.8" y="523.4" font-size="14" text-anchor="end" fill="#1a1a1a" >-4</text>
<line x1="406.50" y1="494.90" x2="404.30" y2="494.90" stroke="#1a1a1a" stroke-width="1.1" />
<line x1="406.50" y1="471.40" x2="402.50" y2="471.40" stroke="#1a1a1a" stroke-width="1.1" />
<text x="398.8" y="476.4" font-size="14" text-anchor="end" fill="#1a1a1a" >-2</text>
<line x1="406.50" y1="447.90" x2="404.30" y2="447.90" stroke="#1a1a1a" stroke-width="1.1" />
<line x1="406.50" y1="424.40" x2="402.50" y2="424.40" stroke="#1a1a1a" stroke-width="1.1" />
<text x="398.8" y="429.4" font-size="14" text-anchor="end" fill="#1a1a1a" >0</text>
<line x1="406.50" y1="400.90" x2="404.30" y2="400.90" stroke="#1a1a1a" stroke-width="1.1" />
<line x1="406.50" y1="377.40" x2="402.50" y2="377.40" stroke="#1a1a1a" stroke-width="1.1" />
<text x="398.8" y="382.4" font-size="14" text-anchor="end" fill="#1a1a1a" >2</text>
<line x1="406.50" y1="353.90" x2="404.30" y2="353.90" stroke="#1a1a1a" stroke-width="1.1" />
<line x1="406.50" y1="330.40" x2="402.50" y2="330.40" stroke="#1a1a1a" stroke-width="1.1" />
<text x="398.8" y="335.4" font-size="14" text-anchor="end" fill="#1a1a1a" >4</text>
<line x1="406.50" y1="306.90" x2="404.30" y2="306.90" stroke="#1a1a1a" stroke-width="1.1" />
<text x="539.0" y="560.8" font-size="16" text-anchor="middle" fill="#1a1a1a" >Wavelength (nm)</text>
<text transform="translate(375,409.5) rotate(-90)" font-size="16" text-anchor="middle" fill="#1a1a1a">Δ<tspan font-style="italic">A</tspan> (mOD)</text>
<text x="342.6" y="294.6" font-size="25.5" text-anchor="start" fill="#111" >(d)</text>
<g clip-path="url(#clipd)">
<line x1="406.50" y1="424.40" x2="670.50" y2="424.40" stroke="#d4d4d4" stroke-width="1.2" stroke-dasharray="6 4.5"/>
<defs><linearGradient id="garr" gradientUnits="userSpaceOnUse" x1="510" y1="318" x2="452" y2="405"><stop offset="0" stop-color="#ffffff" stop-opacity="0.1"/><stop offset="0.18" stop-color="#b4d2ec"/><stop offset="0.4" stop-color="#a6c8e6"/><stop offset="0.7" stop-color="#c0dcef"/><stop offset="1" stop-color="#d2eada"/></linearGradient></defs>
<path d="M507,319.5 C485,316 465,335 459,355 C455.5,368 454,378 453.5,386 L445.7,387 L454.5,408.4 L469,386 L463.2,386 C464,372 467,357 472,348 C479,336 493,326 509,323.6 Z" fill="url(#garr)" opacity="0.9"/>
<path d="M406.5,416.4 L407.2,417.6 L407.8,417.5 L408.5,416.7 L409.2,416.9 L409.8,417.3 L410.5,417.4 L411.1,417.0 L411.8,415.5 L412.5,414.0 L413.1,414.6 L413.8,416.1 L414.5,416.5 L415.1,415.8 L415.8,415.2 L416.5,415.5 L417.1,415.3 L417.8,414.3 L418.4,414.1 L419.1,415.0 L419.8,416.0 L420.4,416.4 L421.1,416.3 L421.8,415.8 L422.4,414.7 L423.1,413.8 L423.8,412.8 L424.4,411.9 L425.1,412.4 L425.7,413.1 L426.4,412.7 L427.1,412.6 L427.7,413.5 L428.4,414.1 L429.1,414.1 L429.7,413.8 L430.4,413.6 L431.1,414.4 L431.7,414.4 L432.4,413.5 L433.0,412.8 L433.7,412.3 L434.4,412.1 L435.0,412.0 L435.7,412.3 L436.4,413.1 L437.0,413.0 L437.7,412.5 L438.4,412.0 L439.0,412.0 L439.7,412.3 L440.3,412.0 L441.0,411.2 L441.7,411.0 L442.3,410.5 L443.0,409.3 L443.7,409.4 L444.3,410.6 L445.0,410.1 L445.7,408.9 L446.3,409.2 L447.0,410.2 L447.6,410.9 L448.3,411.2 L449.0,411.1 L449.6,410.8 L450.3,410.4 L451.0,410.7 L451.6,411.3 L452.3,411.5 L453.0,411.2 L453.6,411.0 L454.3,410.3 L454.9,409.4 L455.6,409.3 L456.3,409.4 L456.9,409.6 L457.6,409.9 L458.3,410.2 L458.9,410.1 L459.6,410.0 L460.3,410.0 L460.9,409.6 L461.6,409.9 L462.2,410.7 L462.9,411.0 L463.6,410.8 L464.2,410.5 L464.9,410.2 L465.6,410.1 L466.2,411.2 L466.9,412.3 L467.6,412.4 L468.2,411.9 L468.9,410.6 L469.5,409.5 L470.2,409.9 L470.9,410.8 L471.5,410.4 L472.2,409.3 L472.9,409.2 L473.5,409.3 L474.2,408.3 L474.9,407.6 L475.5,408.2 L476.2,409.2 L476.8,409.7 L477.5,410.1 L478.2,410.9 L478.8,411.3 L479.5,411.2 L480.2,411.1 L480.8,410.6 L481.5,409.6 L482.2,409.2 L482.8,410.1 L483.5,410.7 L484.1,410.4 L484.8,409.9 L485.5,409.9 L486.1,410.9 L486.8,412.0 L487.5,412.4 L488.1,411.8 L488.8,410.9 L489.5,410.9 L490.1,411.4 L490.8,411.3 L491.4,410.8 L492.1,410.7 L492.8,411.2 L493.4,412.0 L494.1,412.5 L494.8,411.9 L495.4,411.3 L496.1,411.9 L496.8,411.8 L497.4,411.3 L498.1,411.5 L498.7,411.7 L499.4,411.4 L500.1,411.3 L500.7,411.9 L501.4,412.5 L502.1,412.4 L502.7,412.1 L503.4,411.7 L504.1,411.0 L504.7,410.4 L505.4,410.5 L506.0,410.7 L506.7,410.2 L507.4,409.6 L508.0,409.5 L508.7,410.0 L509.4,410.9 L510.0,411.3 L510.7,411.6 L511.4,412.1 L512.0,412.2 L512.7,412.3 L513.3,412.9 L514.0,413.5 L514.7,413.0 L515.3,411.9 L516.0,411.0 L516.7,410.9 L517.3,411.7 L518.0,412.4 L518.7,412.5 L519.3,412.2 L520.0,411.8 L520.6,411.1 L521.3,411.0 L522.0,412.2 L522.6,413.7 L523.3,414.3 L524.0,414.3 L524.6,413.5 L525.3,412.3 L526.0,412.6 L526.6,413.1 L527.3,412.4 L527.9,412.0 L528.6,412.8 L529.3,413.5 L529.9,413.3 L530.6,412.6 L531.3,411.9 L531.9,411.4 L532.6,411.2 L533.3,411.2 L533.9,411.6 L534.6,412.9 L535.2,414.1 L535.9,414.0 L536.6,413.6 L537.2,413.4 L537.9,413.4 L538.6,413.9 L539.2,413.8 L539.9,413.0 L540.6,412.8 L541.2,413.0 L541.9,412.9 L542.6,413.2 L543.2,414.6 L543.9,416.1 L544.5,416.1 L545.2,415.7 L545.9,415.4 L546.5,414.6 L547.2,414.3 L547.9,415.0 L548.5,415.0 L549.2,414.5 L549.9,415.2 L550.5,416.0 L551.2,415.6 L551.8,415.4 L552.5,415.6 L553.2,415.7 L553.8,416.2 L554.5,416.5 L555.2,416.0 L555.8,415.8 L556.5,416.1 L557.2,416.0 L557.8,415.3 L558.5,414.8 L559.1,415.4 L559.8,415.8 L560.5,416.3 L561.1,416.5 L561.8,416.1 L562.5,415.7 L563.1,415.9 L563.8,416.8 L564.5,417.8 L565.1,417.8 L565.8,417.2 L566.4,416.6 L567.1,416.3 L567.8,416.5 L568.4,416.4 L569.1,416.7 L569.8,418.1 L570.4,419.7 L571.1,420.3 L571.8,419.5 L572.4,418.5 L573.1,418.2 L573.7,417.8 L574.4,417.3 L575.1,417.1 L575.7,417.7 L576.4,418.7 L577.1,419.3 L577.7,419.4 L578.4,419.5 L579.1,419.7 L579.7,419.4 L580.4,419.4 L581.0,420.3 L581.7,420.7 L582.4,420.5 L583.0,420.0 L583.7,419.6 L584.4,419.8 L585.0,420.4 L585.7,420.9 L586.4,420.6 L587.0,420.6 L587.7,420.7 L588.3,421.7 L589.0,422.9 L589.7,422.4 L590.3,420.9 L591.0,420.1 L591.7,420.6 L592.3,421.5 L593.0,421.6 L593.7,420.5 L594.3,420.1 L595.0,421.2 L595.6,422.5 L596.3,422.6 L597.0,421.0 L597.6,419.8 L598.3,420.1 L599.0,420.9 L599.6,421.8 L600.3,422.5 L601.0,422.6 L601.6,423.2 L602.3,423.2 L602.9,422.5 L603.6,422.1 L604.3,422.3 L604.9,423.0 L605.6,424.0 L606.3,424.5 L606.9,424.3 L607.6,424.6 L608.3,425.2 L608.9,425.3 L609.6,425.4 L610.2,425.9 L610.9,426.0 L611.6,425.4 L612.2,424.1 L612.9,422.9 L613.6,423.0 L614.2,424.2 L614.9,424.5 L615.6,423.8 L616.2,423.8 L616.9,423.6 L617.5,423.3 L618.2,424.2 L618.9,425.4 L619.5,425.4 L620.2,424.6 L620.9,424.6 L621.5,425.4 L622.2,425.2 L622.9,424.3 L623.5,424.0 L624.2,424.2 L624.8,424.1 L625.5,424.6 L626.2,425.5 L626.8,425.3 L627.5,424.9 L628.2,425.7 L628.8,426.2 L629.5,425.3 L630.2,424.0 L630.8,424.0 L631.5,424.5 L632.1,424.0 L632.8,424.1 L633.5,423.7 L634.1,423.2 L634.8,423.6 L635.5,424.6 L636.1,425.3 L636.8,425.4 L637.5,426.0 L638.1,425.6 L638.8,423.7 L639.4,422.9 L640.1,423.5 L640.8,424.0 L641.4,423.5 L642.1,422.8 L642.8,423.4 L643.4,424.9 L644.1,426.1 L644.8,426.8 L645.4,427.5 L646.1,427.3 L646.7,426.5 L647.4,426.1 L648.1,425.6 L648.7,424.6 L649.4,423.5 L650.1,423.6 L650.7,424.2 L651.4,424.7 L652.1,425.4 L652.7,425.5 L653.4,425.5 L654.0,426.1 L654.7,426.5 L655.4,426.3 L656.0,425.3 L656.7,424.7 L657.4,425.3 L658.0,425.9 L658.7,426.6 L659.4,427.0 L660.0,426.1 L660.7,424.1 L661.3,423.3 L662.0,424.3 L662.7,425.3 L663.3,425.3 L664.0,425.2 L664.7,424.9 L665.3,424.9 L666.0,425.0 L666.7,425.3 L667.3,426.0 L668.0,426.8 L668.6,427.3 L669.3,427.2 L670.0,427.0 L670.6,426.8 L671.3,426.8" fill="none" stroke="#6aaf25" stroke-width="2.6" stroke-linejoin="round"/>
<path d="M406.5,404.0 L407.2,404.2 L407.8,404.7 L408.5,404.7 L409.2,403.7 L409.8,402.2 L410.5,401.2 L411.1,401.3 L411.8,401.6 L412.5,401.6 L413.1,401.7 L413.8,401.5 L414.5,402.1 L415.1,401.8 L415.8,399.8 L416.5,399.3 L417.1,400.2 L417.8,400.4 L418.4,400.2 L419.1,400.4 L419.8,400.7 L420.4,400.1 L421.1,399.1 L421.8,398.3 L422.4,397.8 L423.1,397.3 L423.8,397.1 L424.4,397.9 L425.1,398.8 L425.7,399.4 L426.4,398.8 L427.1,397.7 L427.7,397.4 L428.4,397.3 L429.1,397.4 L429.7,397.7 L430.4,397.6 L431.1,397.3 L431.7,396.7 L432.4,395.9 L433.0,395.9 L433.7,396.4 L434.4,396.5 L435.0,395.9 L435.7,395.1 L436.4,393.8 L437.0,393.0 L437.7,393.6 L438.4,394.6 L439.0,395.3 L439.7,395.7 L440.3,395.8 L441.0,395.6 L441.7,395.1 L442.3,394.4 L443.0,393.9 L443.7,394.0 L444.3,394.3 L445.0,393.8 L445.7,392.6 L446.3,391.8 L447.0,391.5 L447.6,391.4 L448.3,391.7 L449.0,392.0 L449.6,391.5 L450.3,391.2 L451.0,391.7 L451.6,391.4 L452.3,390.9 L453.0,391.0 L453.6,391.1 L454.3,391.4 L454.9,392.0 L455.6,392.4 L456.3,392.8 L456.9,393.0 L457.6,392.8 L458.3,392.3 L458.9,391.9 L459.6,392.0 L460.3,391.8 L460.9,390.8 L461.6,390.4 L462.2,391.1 L462.9,391.8 L463.6,391.9 L464.2,391.7 L464.9,392.1 L465.6,392.3 L466.2,391.2 L466.9,390.7 L467.6,391.6 L468.2,391.7 L468.9,391.5 L469.5,391.5 L470.2,391.6 L470.9,392.1 L471.5,391.8 L472.2,391.3 L472.9,391.8 L473.5,392.3 L474.2,392.2 L474.9,391.9 L475.5,391.6 L476.2,391.9 L476.8,392.2 L477.5,392.5 L478.2,392.4 L478.8,393.1 L479.5,393.9 L480.2,393.6 L480.8,393.2 L481.5,392.5 L482.2,392.1 L482.8,392.7 L483.5,392.7 L484.1,391.7 L484.8,391.2 L485.5,391.2 L486.1,391.9 L486.8,392.6 L487.5,392.2 L488.1,391.4 L488.8,391.4 L489.5,392.0 L490.1,392.5 L490.8,392.7 L491.4,392.3 L492.1,391.8 L492.8,392.5 L493.4,393.4 L494.1,393.2 L494.8,392.4 L495.4,392.4 L496.1,393.0 L496.8,393.6 L497.4,394.1 L498.1,394.7 L498.7,394.4 L499.4,393.6 L500.1,393.3 L500.7,392.9 L501.4,392.5 L502.1,392.6 L502.7,392.6 L503.4,392.3 L504.1,392.8 L504.7,393.6 L505.4,393.7 L506.0,394.1 L506.7,394.7 L507.4,395.0 L508.0,395.5 L508.7,396.1 L509.4,395.9 L510.0,395.7 L510.7,396.2 L511.4,396.6 L512.0,396.3 L512.7,395.8 L513.3,396.0 L514.0,396.3 L514.7,396.4 L515.3,396.6 L516.0,396.3 L516.7,396.0 L517.3,396.5 L518.0,396.7 L518.7,396.5 L519.3,396.8 L520.0,397.1 L520.6,397.0 L521.3,397.5 L522.0,398.8 L522.6,399.3 L523.3,399.3 L524.0,399.4 L524.6,399.4 L525.3,399.1 L526.0,398.9 L526.6,399.0 L527.3,398.8 L527.9,398.8 L528.6,399.1 L529.3,398.6 L529.9,398.2 L530.6,398.9 L531.3,399.8 L531.9,400.3 L532.6,400.4 L533.3,400.0 L533.9,400.0 L534.6,400.5 L535.2,400.5 L535.9,400.3 L536.6,400.7 L537.2,401.4 L537.9,402.0 L538.6,402.1 L539.2,401.4 L539.9,400.7 L540.6,401.5 L541.2,402.4 L541.9,402.7 L542.6,402.4 L543.2,401.9 L543.9,401.5 L544.5,401.3 L545.2,401.6 L545.9,402.0 L546.5,402.6 L547.2,403.6 L547.9,404.5 L548.5,404.6 L549.2,404.7 L549.9,405.3 L550.5,405.7 L551.2,405.3 L551.8,405.3 L552.5,405.7 L553.2,405.9 L553.8,405.9 L554.5,406.3 L555.2,407.1 L555.8,407.2 L556.5,406.8 L557.2,406.8 L557.8,407.4 L558.5,408.0 L559.1,408.1 L559.8,407.7 L560.5,407.6 L561.1,407.8 L561.8,407.6 L562.5,407.8 L563.1,408.7 L563.8,409.5 L564.5,410.9 L565.1,411.8 L565.8,411.7 L566.4,411.3 L567.1,411.2 L567.8,411.4 L568.4,412.0 L569.1,412.6 L569.8,412.7 L570.4,413.0 L571.1,413.3 L571.8,413.6 L572.4,414.2 L573.1,414.6 L573.7,414.4 L574.4,413.7 L575.1,413.4 L575.7,413.9 L576.4,415.0 L577.1,415.6 L577.7,415.7 L578.4,415.8 L579.1,416.0 L579.7,415.7 L580.4,415.9 L581.0,416.3 L581.7,415.8 L582.4,415.4 L583.0,415.5 L583.7,415.7 L584.4,415.9 L585.0,415.8 L585.7,416.0 L586.4,416.5 L587.0,416.7 L587.7,417.3 L588.3,418.2 L589.0,418.8 L589.7,418.7 L590.3,418.7 L591.0,419.0 L591.7,418.8 L592.3,418.9 L593.0,419.8 L593.7,420.7 L594.3,420.3 L595.0,419.9 L595.6,420.4 L596.3,421.1 L597.0,421.6 L597.6,421.1 L598.3,420.8 L599.0,421.1 L599.6,421.6 L600.3,421.3 L601.0,421.1 L601.6,421.4 L602.3,421.9 L602.9,421.6 L603.6,421.2 L604.3,422.0 L604.9,422.9 L605.6,423.0 L606.3,422.6 L606.9,421.7 L607.6,421.7 L608.3,423.1 L608.9,423.6 L609.6,422.6 L610.2,421.9 L610.9,422.0 L611.6,422.7 L612.2,423.7 L612.9,424.5 L613.6,425.1 L614.2,424.9 L614.9,424.0 L615.6,423.3 L616.2,422.9 L616.9,423.5 L617.5,424.0 L618.2,423.4 L618.9,423.1 L619.5,423.9 L620.2,424.8 L620.9,424.4 L621.5,424.2 L622.2,424.9 L622.9,425.1 L623.5,424.8 L624.2,425.2 L624.8,426.0 L625.5,426.2 L626.2,426.0 L626.8,425.5 L627.5,425.0 L628.2,424.8 L628.8,425.4 L629.5,426.2 L630.2,425.8 L630.8,425.2 L631.5,425.2 L632.1,425.6 L632.8,426.5 L633.5,426.8 L634.1,426.8 L634.8,427.6 L635.5,427.9 L636.1,427.2 L636.8,427.2 L637.5,427.8 L638.1,428.5 L638.8,428.8 L639.4,428.5 L640.1,427.9 L640.8,428.0 L641.4,428.4 L642.1,428.2 L642.8,428.4 L643.4,428.3 L644.1,427.8 L644.8,427.9 L645.4,428.0 L646.1,427.5 L646.7,427.7 L647.4,427.7 L648.1,427.3 L648.7,427.1 L649.4,427.5 L650.1,427.7 L650.7,427.9 L651.4,428.0 L652.1,428.3 L652.7,428.0 L653.4,427.3 L654.0,427.3 L654.7,427.3 L655.4,427.0 L656.0,427.7 L656.7,428.6 L657.4,428.8 L658.0,428.7 L658.7,428.0 L659.4,428.0 L660.0,428.8 L660.7,429.2 L661.3,429.1 L662.0,429.2 L662.7,429.4 L663.3,429.7 L664.0,430.2 L664.7,430.1 L665.3,429.6 L666.0,429.4 L666.7,429.4 L667.3,429.5 L668.0,429.3 L668.6,429.4 L669.3,430.1 L670.0,430.6 L670.6,430.2 L671.3,429.4" fill="none" stroke="#a3dc92" stroke-width="2.6" stroke-linejoin="round"/>
<path d="M406.5,381.2 L407.2,379.8 L407.8,378.2 L408.5,377.2 L409.2,376.9 L409.8,377.4 L410.5,377.1 L411.1,375.9 L411.8,374.8 L412.5,374.1 L413.1,373.6 L413.8,372.7 L414.5,372.0 L415.1,371.6 L415.8,371.2 L416.5,370.8 L417.1,370.3 L417.8,369.6 L418.4,368.9 L419.1,368.2 L419.8,367.2 L420.4,366.7 L421.1,366.3 L421.8,365.9 L422.4,364.9 L423.1,363.9 L423.8,364.1 L424.4,364.4 L425.1,363.6 L425.7,361.8 L426.4,360.1 L427.1,359.5 L427.7,359.5 L428.4,359.4 L429.1,358.4 L429.7,357.0 L430.4,356.3 L431.1,356.4 L431.7,356.0 L432.4,355.7 L433.0,355.7 L433.7,355.2 L434.4,355.1 L435.0,354.7 L435.7,353.3 L436.4,352.3 L437.0,352.3 L437.7,351.8 L438.4,350.4 L439.0,349.5 L439.7,348.8 L440.3,348.6 L441.0,348.7 L441.7,348.6 L442.3,348.4 L443.0,348.2 L443.7,347.7 L444.3,347.0 L445.0,346.3 L445.7,346.2 L446.3,346.3 L447.0,346.0 L447.6,345.8 L448.3,345.8 L449.0,345.5 L449.6,345.0 L450.3,344.7 L451.0,344.2 L451.6,343.2 L452.3,341.8 L453.0,341.3 L453.6,341.6 L454.3,341.3 L454.9,340.7 L455.6,340.9 L456.3,341.3 L456.9,341.0 L457.6,340.4 L458.3,339.9 L458.9,339.6 L459.6,339.5 L460.3,340.0 L460.9,340.2 L461.6,339.9 L462.2,339.3 L462.9,339.3 L463.6,339.2 L464.2,338.5 L464.9,338.6 L465.6,339.5 L466.2,339.9 L466.9,339.8 L467.6,339.2 L468.2,338.8 L468.9,338.9 L469.5,339.0 L470.2,338.9 L470.9,338.5 L471.5,337.6 L472.2,337.7 L472.9,338.6 L473.5,338.7 L474.2,338.3 L474.9,338.2 L475.5,338.5 L476.2,338.7 L476.8,338.4 L477.5,337.9 L478.2,337.8 L478.8,337.9 L479.5,338.0 L480.2,338.6 L480.8,338.8 L481.5,338.2 L482.2,337.8 L482.8,337.6 L483.5,337.3 L484.1,337.6 L484.8,338.5 L485.5,338.4 L486.1,337.3 L486.8,337.4 L487.5,338.7 L488.1,339.6 L488.8,339.7 L489.5,339.8 L490.1,339.9 L490.8,339.8 L491.4,340.0 L492.1,339.7 L492.8,339.1 L493.4,339.0 L494.1,338.9 L494.8,338.4 L495.4,338.5 L496.1,339.0 L496.8,339.4 L497.4,339.1 L498.1,338.5 L498.7,338.9 L499.4,339.9 L500.1,339.8 L500.7,339.3 L501.4,338.8 L502.1,338.6 L502.7,339.3 L503.4,340.6 L504.1,341.6 L504.7,342.0 L505.4,341.6 L506.0,340.7 L506.7,340.5 L507.4,342.1 L508.0,343.9 L508.7,344.1 L509.4,344.1 L510.0,344.6 L510.7,344.9 L511.4,344.7 L512.0,344.6 L512.7,345.0 L513.3,345.4 L514.0,345.5 L514.7,346.1 L515.3,347.0 L516.0,347.6 L516.7,347.5 L517.3,347.5 L518.0,348.0 L518.7,347.8 L519.3,347.6 L520.0,348.0 L520.6,348.5 L521.3,348.6 L522.0,348.0 L522.6,348.1 L523.3,349.5 L524.0,350.8 L524.6,350.7 L525.3,349.5 L526.0,349.0 L526.6,349.5 L527.3,350.3 L527.9,351.3 L528.6,351.9 L529.3,352.0 L529.9,352.5 L530.6,352.9 L531.3,352.5 L531.9,352.7 L532.6,354.1 L533.3,354.9 L533.9,354.9 L534.6,355.7 L535.2,356.2 L535.9,355.6 L536.6,355.3 L537.2,355.3 L537.9,355.2 L538.6,356.1 L539.2,357.3 L539.9,358.1 L540.6,358.7 L541.2,359.0 L541.9,359.1 L542.6,359.4 L543.2,359.3 L543.9,358.9 L544.5,359.1 L545.2,359.8 L545.9,360.4 L546.5,360.8 L547.2,361.1 L547.9,361.7 L548.5,362.5 L549.2,363.9 L549.9,365.2 L550.5,365.8 L551.2,365.7 L551.8,365.2 L552.5,365.4 L553.2,366.5 L553.8,367.5 L554.5,368.2 L555.2,369.1 L555.8,369.7 L556.5,370.1 L557.2,370.5 L557.8,370.5 L558.5,370.8 L559.1,371.7 L559.8,372.5 L560.5,372.4 L561.1,372.0 L561.8,372.3 L562.5,372.3 L563.1,373.0 L563.8,374.2 L564.5,374.7 L565.1,374.2 L565.8,374.5 L566.4,375.8 L567.1,376.3 L567.8,376.1 L568.4,376.0 L569.1,376.5 L569.8,377.7 L570.4,378.7 L571.1,379.1 L571.8,379.3 L572.4,380.7 L573.1,382.1 L573.7,382.0 L574.4,381.3 L575.1,381.2 L575.7,382.1 L576.4,382.8 L577.1,382.7 L577.7,382.9 L578.4,383.6 L579.1,384.3 L579.7,385.1 L580.4,386.1 L581.0,386.8 L581.7,387.5 L582.4,388.0 L583.0,388.3 L583.7,388.8 L584.4,388.7 L585.0,389.1 L585.7,390.3 L586.4,391.4 L587.0,391.7 L587.7,391.6 L588.3,391.8 L589.0,392.3 L589.7,393.1 L590.3,394.2 L591.0,395.2 L591.7,395.9 L592.3,395.9 L593.0,396.2 L593.7,396.6 L594.3,396.9 L595.0,398.3 L595.6,400.0 L596.3,400.5 L597.0,400.2 L597.6,399.3 L598.3,399.3 L599.0,400.8 L599.6,402.1 L600.3,402.7 L601.0,402.8 L601.6,403.0 L602.3,403.7 L602.9,404.7 L603.6,405.4 L604.3,406.2 L604.9,406.5 L605.6,406.6 L606.3,407.7 L606.9,409.2 L607.6,410.2 L608.3,410.4 L608.9,410.4 L609.6,410.8 L610.2,411.7 L610.9,411.9 L611.6,411.9 L612.2,412.2 L612.9,412.4 L613.6,412.6 L614.2,413.2 L614.9,413.7 L615.6,414.1 L616.2,414.9 L616.9,416.1 L617.5,416.5 L618.2,417.0 L618.9,418.1 L619.5,419.2 L620.2,419.9 L620.9,419.8 L621.5,419.6 L622.2,419.8 L622.9,420.0 L623.5,419.7 L624.2,420.1 L624.8,421.2 L625.5,422.1 L626.2,422.8 L626.8,423.1 L627.5,423.1 L628.2,423.0 L628.8,423.6 L629.5,424.2 L630.2,424.4 L630.8,424.3 L631.5,423.5 L632.1,422.9 L632.8,423.6 L633.5,425.2 L634.1,426.5 L634.8,427.1 L635.5,426.7 L636.1,426.0 L636.8,425.9 L637.5,426.1 L638.1,426.2 L638.8,425.8 L639.4,425.7 L640.1,426.5 L640.8,427.1 L641.4,427.1 L642.1,427.1 L642.8,427.9 L643.4,428.8 L644.1,429.1 L644.8,428.6 L645.4,427.1 L646.1,426.5 L646.7,427.2 L647.4,427.7 L648.1,428.2 L648.7,429.0 L649.4,429.2 L650.1,429.1 L650.7,428.7 L651.4,428.7 L652.1,429.3 L652.7,429.4 L653.4,429.3 L654.0,429.5 L654.7,429.2 L655.4,429.0 L656.0,429.1 L656.7,429.3 L657.4,429.9 L658.0,430.2 L658.7,429.0 L659.4,428.0 L660.0,428.5 L660.7,429.7 L661.3,430.9 L662.0,431.3 L662.7,431.3 L663.3,431.0 L664.0,430.7 L664.7,431.1 L665.3,431.8 L666.0,432.1 L666.7,431.7 L667.3,431.3 L668.0,431.4 L668.6,431.0 L669.3,430.7 L670.0,431.5 L670.6,432.3 L671.3,432.3" fill="none" stroke="#78bbe8" stroke-width="2.6" stroke-linejoin="round"/>
<path d="M406.5,452.3 L407.2,450.9 L407.8,450.3 L408.5,449.7 L409.2,448.1 L409.8,446.2 L410.5,444.5 L411.1,442.3 L411.8,440.5 L412.5,439.5 L413.1,438.2 L413.8,436.5 L414.5,435.4 L415.1,434.6 L415.8,433.4 L416.5,432.6 L417.1,431.7 L417.8,430.3 L418.4,429.4 L419.1,428.9 L419.8,428.0 L420.4,425.9 L421.1,423.1 L421.8,421.3 L422.4,420.7 L423.1,420.4 L423.8,420.3 L424.4,419.7 L425.1,419.0 L425.7,418.7 L426.4,417.9 L427.1,416.6 L427.7,415.7 L428.4,414.8 L429.1,413.4 L429.7,412.0 L430.4,410.7 L431.1,410.0 L431.7,409.2 L432.4,408.2 L433.0,407.3 L433.7,406.4 L434.4,404.9 L435.0,403.0 L435.7,401.5 L436.4,400.9 L437.0,400.9 L437.7,399.9 L438.4,398.4 L439.0,397.1 L439.7,396.0 L440.3,394.7 L441.0,393.2 L441.7,392.3 L442.3,391.2 L443.0,389.4 L443.7,388.2 L444.3,387.6 L445.0,386.7 L445.7,385.6 L446.3,384.4 L447.0,383.7 L447.6,383.2 L448.3,382.2 L449.0,380.9 L449.6,379.4 L450.3,378.1 L451.0,377.5 L451.6,377.7 L452.3,377.6 L453.0,376.1 L453.6,374.4 L454.3,372.4 L454.9,370.7 L455.6,370.2 L456.3,369.9 L456.9,369.4 L457.6,368.8 L458.3,368.3 L458.9,367.8 L459.6,366.7 L460.3,365.3 L460.9,364.4 L461.6,363.9 L462.2,363.6 L462.9,363.2 L463.6,362.5 L464.2,361.5 L464.9,360.8 L465.6,360.7 L466.2,360.8 L466.9,359.9 L467.6,358.7 L468.2,358.2 L468.9,357.5 L469.5,356.2 L470.2,355.5 L470.9,355.3 L471.5,354.6 L472.2,353.5 L472.9,353.1 L473.5,353.3 L474.2,353.7 L474.9,353.9 L475.5,353.2 L476.2,351.7 L476.8,350.7 L477.5,350.7 L478.2,350.9 L478.8,350.6 L479.5,349.7 L480.2,348.5 L480.8,346.6 L481.5,344.6 L482.2,343.5 L482.8,344.0 L483.5,345.1 L484.1,345.9 L484.8,346.0 L485.5,344.3 L486.1,342.1 L486.8,340.4 L487.5,339.3 L488.1,338.6 L488.8,337.7 L489.5,336.5 L490.1,335.9 L490.8,336.1 L491.4,335.9 L492.1,334.8 L492.8,333.1 L493.4,332.3 L494.1,332.8 L494.8,333.5 L495.4,333.3 L496.1,332.8 L496.8,332.5 L497.4,332.1 L498.1,331.8 L498.7,331.5 L499.4,331.1 L500.1,331.1 L500.7,331.3 L501.4,331.3 L502.1,330.9 L502.7,330.5 L503.4,330.4 L504.1,330.6 L504.7,331.0 L505.4,331.0 L506.0,330.5 L506.7,330.3 L507.4,329.9 L508.0,330.3 L508.7,331.1 L509.4,331.3 L510.0,331.1 L510.7,331.1 L511.4,330.8 L512.0,330.1 L512.7,329.9 L513.3,330.0 L514.0,330.3 L514.7,330.5 L515.3,330.7 L516.0,330.5 L516.7,330.4 L517.3,330.8 L518.0,331.5 L518.7,331.8 L519.3,331.4 L520.0,331.3 L520.6,331.8 L521.3,331.8 L522.0,331.0 L522.6,330.6 L523.3,331.4 L524.0,332.3 L524.6,333.3 L525.3,334.3 L526.0,334.1 L526.6,333.5 L527.3,333.2 L527.9,333.9 L528.6,334.6 L529.3,334.7 L529.9,334.8 L530.6,335.2 L531.3,335.7 L531.9,336.1 L532.6,335.7 L533.3,334.7 L533.9,334.2 L534.6,334.8 L535.2,335.3 L535.9,335.2 L536.6,335.1 L537.2,335.2 L537.9,335.9 L538.6,336.9 L539.2,337.4 L539.9,337.6 L540.6,337.8 L541.2,338.5 L541.9,339.7 L542.6,340.7 L543.2,341.0 L543.9,340.8 L544.5,340.3 L545.2,340.4 L545.9,340.6 L546.5,340.0 L547.2,339.6 L547.9,339.5 L548.5,339.3 L549.2,339.8 L549.9,341.0 L550.5,341.3 L551.2,341.3 L551.8,341.6 L552.5,342.3 L553.2,343.4 L553.8,344.3 L554.5,344.8 L555.2,345.1 L555.8,345.5 L556.5,346.2 L557.2,346.3 L557.8,345.9 L558.5,346.2 L559.1,347.3 L559.8,348.7 L560.5,349.2 L561.1,349.3 L561.8,349.5 L562.5,349.7 L563.1,350.0 L563.8,350.7 L564.5,351.5 L565.1,352.0 L565.8,352.6 L566.4,353.2 L567.1,353.5 L567.8,354.2 L568.4,355.2 L569.1,355.9 L569.8,356.1 L570.4,356.4 L571.1,357.1 L571.8,357.9 L572.4,358.6 L573.1,359.3 L573.7,360.0 L574.4,361.5 L575.1,362.6 L575.7,362.5 L576.4,363.1 L577.1,364.3 L577.7,364.8 L578.4,364.6 L579.1,364.3 L579.7,365.3 L580.4,366.8 L581.0,367.1 L581.7,367.0 L582.4,367.5 L583.0,369.3 L583.7,370.6 L584.4,370.6 L585.0,370.8 L585.7,371.7 L586.4,372.3 L587.0,371.8 L587.7,371.8 L588.3,372.9 L589.0,373.1 L589.7,373.0 L590.3,372.9 L591.0,373.8 L591.7,374.7 L592.3,375.1 L593.0,375.9 L593.7,376.9 L594.3,377.6 L595.0,378.6 L595.6,379.1 L596.3,378.8 L597.0,379.5 L597.6,380.6 L598.3,381.5 L599.0,382.7 L599.6,383.4 L600.3,383.5 L601.0,383.4 L601.6,383.3 L602.3,383.5 L602.9,384.2 L603.6,384.7 L604.3,385.5 L604.9,386.5 L605.6,387.1 L606.3,387.4 L606.9,387.3 L607.6,387.8 L608.3,389.0 L608.9,390.1 L609.6,390.5 L610.2,390.7 L610.9,390.9 L611.6,391.5 L612.2,392.0 L612.9,392.0 L613.6,392.4 L614.2,393.1 L614.9,393.6 L615.6,394.4 L616.2,395.2 L616.9,395.9 L617.5,396.6 L618.2,397.0 L618.9,396.8 L619.5,396.3 L620.2,396.7 L620.9,397.7 L621.5,398.3 L622.2,399.1 L622.9,399.7 L623.5,400.0 L624.2,400.1 L624.8,400.4 L625.5,401.8 L626.2,403.0 L626.8,403.4 L627.5,404.3 L628.2,405.8 L628.8,406.5 L629.5,405.6 L630.2,404.9 L630.8,405.0 L631.5,405.1 L632.1,405.6 L632.8,406.5 L633.5,407.3 L634.1,408.2 L634.8,408.3 L635.5,408.1 L636.1,408.7 L636.8,409.5 L637.5,409.6 L638.1,409.8 L638.8,410.1 L639.4,410.2 L640.1,410.9 L640.8,411.6 L641.4,411.1 L642.1,410.5 L642.8,410.9 L643.4,410.9 L644.1,410.5 L644.8,411.0 L645.4,411.8 L646.1,411.9 L646.7,411.5 L647.4,411.5 L648.1,412.3 L648.7,412.4 L649.4,411.6 L650.1,411.3 L650.7,412.0 L651.4,412.7 L652.1,412.7 L652.7,412.7 L653.4,413.1 L654.0,413.9 L654.7,414.2 L655.4,414.5 L656.0,414.9 L656.7,414.8 L657.4,414.9 L658.0,415.2 L658.7,415.8 L659.4,416.4 L660.0,416.3 L660.7,416.0 L661.3,416.0 L662.0,416.7 L662.7,418.1 L663.3,418.8 L664.0,418.2 L664.7,417.4 L665.3,417.2 L666.0,418.3 L666.7,419.5 L667.3,420.2 L668.0,421.0 L668.6,421.0 L669.3,420.1 L670.0,420.3 L670.6,421.1 L671.3,421.6" fill="none" stroke="#1f6eaf" stroke-width="2.6" stroke-linejoin="round"/>
</g>
<line x1="584.00" y1="455.30" x2="615.00" y2="455.30" stroke="#1f6eaf" stroke-width="2.8" />
<text x="619.0" y="459.9" font-size="13" text-anchor="start" fill="#1a1a1a" >0.1 ps</text>
<line x1="584.00" y1="472.30" x2="615.00" y2="472.30" stroke="#78bbe8" stroke-width="2.8" />
<text x="619.0" y="476.9" font-size="13" text-anchor="start" fill="#1a1a1a" >1 ps</text>
<line x1="584.00" y1="489.30" x2="615.00" y2="489.30" stroke="#a3dc92" stroke-width="2.8" />
<text x="619.0" y="493.9" font-size="13" text-anchor="start" fill="#1a1a1a" >100 ps</text>
<line x1="584.00" y1="506.30" x2="615.00" y2="506.30" stroke="#6aaf25" stroke-width="2.8" />
<text x="619.0" y="510.9" font-size="13" text-anchor="start" fill="#1a1a1a" >1000 ps</text>
</svg></body></html>
